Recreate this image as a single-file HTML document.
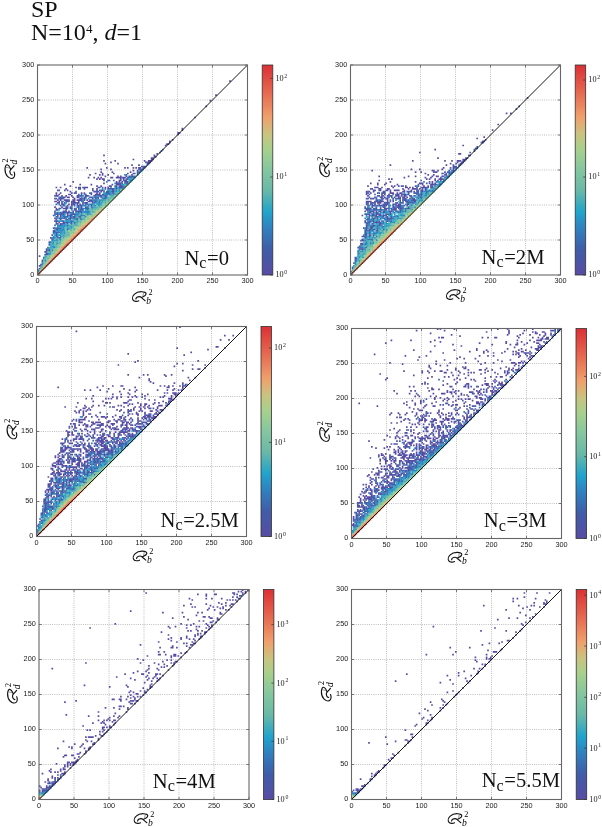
<!DOCTYPE html><html><head><meta charset="utf-8"><style>html,body{margin:0;padding:0;background:#fff;width:602px;height:827px;overflow:hidden}svg{display:block;filter:blur(0.3px)}</style></head><body><svg width="602" height="827" viewBox="0 0 602 827"><defs><filter id="bl" x="-5%" y="-5%" width="110%" height="110%"><feGaussianBlur stdDeviation="0.25"/></filter><linearGradient id="cb" x1="0" y1="0" x2="0" y2="1"><stop offset="0.000" stop-color="#dc3034"/><stop offset="0.130" stop-color="#e66850"/><stop offset="0.250" stop-color="#f0a06c"/><stop offset="0.330" stop-color="#c8c480"/><stop offset="0.400" stop-color="#a8d08c"/><stop offset="0.500" stop-color="#84c6a0"/><stop offset="0.600" stop-color="#68b8a8"/><stop offset="0.700" stop-color="#20a4cc"/><stop offset="0.780" stop-color="#3080c0"/><stop offset="0.880" stop-color="#405ca8"/><stop offset="1.000" stop-color="#584ca4"/></linearGradient></defs><text x="31" y="17" font-family="Liberation Serif, serif" font-size="24" fill="#111">SP</text><text x="31" y="40.2" font-family="Liberation Serif, serif" font-size="24" fill="#111">N=10<tspan font-size="13" dy="-7.6">4</tspan><tspan dy="7.6">, </tspan><tspan font-style="italic">d</tspan>=1</text><g><path d="M72.50 65V275.0M37.5 240.00H247.5M107.50 65V275.0M37.5 205.00H247.5M142.50 65V275.0M37.5 170.00H247.5M177.50 65V275.0M37.5 135.00H247.5M212.50 65V275.0M37.5 100.00H247.5" stroke="#9a9a9a" stroke-width="0.7" stroke-dasharray="0.9 1.3" fill="none"/><g filter="url(#bl)"><g transform="translate(37.5,275.0) scale(1.4,-1.4)" stroke-width="1.2" fill="none"><path stroke="#584ca4" d="M-0.1 3.5h1.2M0.9 4.5h1.2M0.9 6.5h1.2M0.9 13.5h1.2M1.9 7.5h1.2M2.9 9.5h1.2M2.9 10.5h1.2M4.9 16.5h1.2M5.9 15.5h1.2M5.9 17.5h1.2M7.9 17.5h1.2M5.9 18.5h1.2M7.9 21.5h1.2M7.9 23.5h1.2M8.9 26.5h1.2M13.9 26.5h1.2M15.9 26.5h1.2M9.9 25.5h1.2M9.9 28.5h1.2M10.9 30.5h2.2M14.9 30.5h1.2M10.9 31.5h2.2M16.9 31.5h1.2M10.9 42.5h1.2M13.9 42.5h1.2M15.9 42.5h1.2M20.9 42.5h1.2M22.9 42.5h1.2M11.9 33.5h1.2M13.9 33.5h2.2M11.9 38.5h1.2M13.9 38.5h1.2M16.9 38.5h1.2M11.9 40.5h1.2M16.9 40.5h1.2M22.9 40.5h1.2M29.9 40.5h1.2M11.9 43.5h1.2M13.9 43.5h1.2M17.9 43.5h1.2M20.9 43.5h1.2M25.9 43.5h1.2M11.9 48.5h1.2M16.9 48.5h1.2M19.9 48.5h1.2M22.9 48.5h1.2M28.9 48.5h1.2M30.9 48.5h1.2M33.9 48.5h1.2M37.9 48.5h1.2M11.9 52.5h2.2M14.9 52.5h1.2M16.9 52.5h1.2M19.9 52.5h2.2M23.9 52.5h3.2M28.9 52.5h1.2M35.9 52.5h2.2M38.9 52.5h1.2M40.9 52.5h1.2M11.9 54.5h1.2M14.9 54.5h3.2M25.9 54.5h1.2M29.9 54.5h2.2M32.9 54.5h1.2M40.9 54.5h1.2M45.9 54.5h1.2M12.9 32.5h2.2M12.9 39.5h1.2M20.9 39.5h1.2M27.9 39.5h1.2M30.9 39.5h1.2M12.9 46.5h1.2M26.9 46.5h1.2M29.9 46.5h1.2M12.9 47.5h1.2M17.9 47.5h3.2M23.9 47.5h1.2M26.9 47.5h1.2M28.9 47.5h1.2M30.9 47.5h1.2M12.9 56.5h2.2M16.9 56.5h1.2M19.9 56.5h1.2M23.9 56.5h1.2M27.9 56.5h1.2M29.9 56.5h1.2M33.9 56.5h2.2M39.9 56.5h2.2M43.9 56.5h2.2M47.9 56.5h2.2M12.9 58.5h1.2M15.9 58.5h1.2M23.9 58.5h1.2M25.9 58.5h1.2M30.9 58.5h1.2M32.9 58.5h1.2M41.9 58.5h1.2M52.9 58.5h1.2M12.9 62.5h1.2M15.9 62.5h1.2M26.9 62.5h1.2M28.9 62.5h2.2M33.9 62.5h2.2M42.9 62.5h1.2M47.9 62.5h1.2M49.9 62.5h1.2M58.9 62.5h2.2M13.9 36.5h1.2M15.9 36.5h1.2M17.9 36.5h1.2M23.9 36.5h1.2M13.9 41.5h1.2M15.9 41.5h1.2M22.9 41.5h1.2M24.9 41.5h1.2M28.9 41.5h2.2M13.9 44.5h1.2M15.9 44.5h1.2M17.9 44.5h1.2M20.9 44.5h2.2M28.9 44.5h1.2M30.9 44.5h1.2M13.9 51.5h2.2M16.9 51.5h1.2M18.9 51.5h1.2M24.9 51.5h3.2M28.9 51.5h1.2M31.9 51.5h1.2M33.9 51.5h2.2M38.9 51.5h1.2M13.9 53.5h1.2M15.9 53.5h1.2M18.9 53.5h2.2M21.9 53.5h1.2M24.9 53.5h2.2M27.9 53.5h4.2M32.9 53.5h1.2M34.9 53.5h1.2M36.9 53.5h2.2M39.9 53.5h1.2M13.9 60.5h1.2M18.9 60.5h1.2M20.9 60.5h1.2M38.9 60.5h1.2M41.9 60.5h1.2M44.9 60.5h2.2M52.9 60.5h1.2M14.9 37.5h1.2M17.9 37.5h1.2M19.9 37.5h2.2M25.9 37.5h1.2M14.9 57.5h1.2M21.9 57.5h2.2M28.9 57.5h1.2M33.9 57.5h1.2M37.9 57.5h1.2M40.9 57.5h4.2M15.9 35.5h1.2M15.9 55.5h1.2M17.9 55.5h2.2M20.9 55.5h2.2M24.9 55.5h1.2M27.9 55.5h1.2M32.9 55.5h2.2M36.9 55.5h1.2M41.9 55.5h1.2M44.9 55.5h1.2M47.9 55.5h1.2M16.9 50.5h2.2M21.9 50.5h1.2M24.9 50.5h1.2M31.9 50.5h1.2M33.9 50.5h1.2M18.9 64.5h1.2M29.9 64.5h1.2M37.9 64.5h1.2M55.9 64.5h4.2M19.9 45.5h1.2M21.9 45.5h1.2M24.9 45.5h1.2M26.9 45.5h2.2M30.9 45.5h1.2M19.9 61.5h1.2M29.9 61.5h1.2M32.9 61.5h1.2M41.9 61.5h1.2M49.9 61.5h5.2M55.9 61.5h1.2M20.9 49.5h1.2M23.9 49.5h1.2M27.9 49.5h2.2M30.9 49.5h1.2M22.9 59.5h1.2M39.9 59.5h1.2M42.9 59.5h1.2M44.9 59.5h1.2M46.9 59.5h1.2M53.9 59.5h1.2M22.9 63.5h1.2M41.9 63.5h1.2M44.9 63.5h1.2M50.9 63.5h2.2M58.9 63.5h2.2M24.9 66.5h1.2M55.9 66.5h1.2M57.9 66.5h1.2M59.9 66.5h1.2M63.9 66.5h1.2M34.9 76.5h1.2M48.9 76.5h1.2M61.9 76.5h1.2M63.9 76.5h1.2M67.9 76.5h1.2M69.9 76.5h1.2M71.9 76.5h2.2M74.9 76.5h1.2M35.9 69.5h1.2M39.9 69.5h1.2M42.9 69.5h1.2M44.9 69.5h1.2M51.9 69.5h2.2M55.9 69.5h4.2M60.9 69.5h2.2M36.9 71.5h1.2M43.9 71.5h1.2M45.9 71.5h1.2M49.9 71.5h1.2M66.9 71.5h1.2M40.9 72.5h1.2M45.9 72.5h1.2M53.9 72.5h1.2M63.9 72.5h1.2M67.9 72.5h1.2M41.9 68.5h1.2M43.9 68.5h1.2M45.9 68.5h2.2M58.9 68.5h1.2M60.9 68.5h1.2M63.9 68.5h1.2M44.9 73.5h1.2M52.9 73.5h1.2M65.9 73.5h1.2M70.9 73.5h1.2M44.9 75.5h1.2M51.9 75.5h1.2M71.9 75.5h1.2M73.9 75.5h1.2M46.9 65.5h1.2M55.9 65.5h2.2M58.9 65.5h1.2M62.9 65.5h2.2M46.9 67.5h1.2M49.9 67.5h1.2M57.9 67.5h2.2M61.9 67.5h2.2M46.9 81.5h1.2M54.9 81.5h1.2M75.9 81.5h1.2M78.9 81.5h3.2M46.9 85.5h1.2M82.9 85.5h1.2M47.9 70.5h1.2M56.9 70.5h1.2M58.9 70.5h1.2M62.9 70.5h1.2M47.9 79.5h1.2M56.9 79.5h1.2M77.9 79.5h2.2M51.9 80.5h1.2M77.9 80.5h3.2M66.9 78.5h1.2M71.9 78.5h1.2M67.9 74.5h1.2M70.9 74.5h1.2M72.9 74.5h1.2M67.9 82.5h1.2M80.9 82.5h2.2M73.9 77.5h1.2M75.9 77.5h1.2M80.9 83.5h2.2M82.9 84.5h1.2M84.9 86.5h1.2M86.9 87.5h1.2M90.9 92.5h1.2M91.9 93.5h2.2M93.9 94.5h1.2M93.9 95.5h1.2M95.9 96.5h1.2M99.9 100.5h1.2M99.9 101.5h2.2M102.9 103.5h1.2M102.9 104.5h1.2M111.9 112.5h1.2M119.9 120.5h1.2M122.9 124.5h1.2M126.9 128.5h1.2M136.9 138.5h1.2"/><path stroke="#3f5faa" d="M-0.1 2.5h1.2M1.9 6.5h1.2M3.9 12.5h1.2M4.9 14.5h3.2M5.9 16.5h1.2M6.9 15.5h1.2M6.9 17.5h1.2M9.9 17.5h1.2M6.9 19.5h1.2M7.9 18.5h1.2M8.9 23.5h1.2M10.9 26.5h1.2M14.9 26.5h1.2M10.9 33.5h1.2M15.9 33.5h1.2M11.9 35.5h1.2M16.9 35.5h1.2M11.9 44.5h1.2M16.9 44.5h1.2M18.9 44.5h2.2M22.9 44.5h1.2M24.9 44.5h1.2M11.9 45.5h1.2M17.9 45.5h2.2M28.9 45.5h2.2M11.9 56.5h1.2M28.9 56.5h1.2M30.9 56.5h1.2M46.9 56.5h1.2M12.9 27.5h1.2M12.9 28.5h1.2M12.9 29.5h1.2M12.9 30.5h2.2M12.9 36.5h1.2M16.9 36.5h1.2M18.9 36.5h1.2M20.9 36.5h1.2M12.9 37.5h1.2M18.9 37.5h1.2M23.9 37.5h1.2M12.9 38.5h1.2M17.9 38.5h1.2M23.9 38.5h2.2M12.9 41.5h1.2M17.9 41.5h4.2M25.9 41.5h1.2M33.9 41.5h1.2M12.9 43.5h1.2M14.9 43.5h3.2M23.9 43.5h2.2M26.9 43.5h1.2M28.9 43.5h1.2M36.9 43.5h1.2M12.9 50.5h1.2M23.9 50.5h1.2M25.9 50.5h1.2M27.9 50.5h1.2M29.9 50.5h1.2M34.9 50.5h1.2M36.9 50.5h2.2M12.9 54.5h1.2M17.9 54.5h1.2M31.9 54.5h1.2M38.9 54.5h1.2M42.9 54.5h1.2M46.9 54.5h2.2M12.9 57.5h1.2M30.9 57.5h1.2M45.9 57.5h2.2M51.9 57.5h1.2M13.9 46.5h1.2M19.9 46.5h1.2M25.9 46.5h1.2M30.9 46.5h2.2M34.9 46.5h1.2M14.9 40.5h2.2M18.9 40.5h1.2M21.9 40.5h1.2M24.9 40.5h2.2M27.9 40.5h1.2M14.9 47.5h2.2M20.9 47.5h1.2M22.9 47.5h1.2M25.9 47.5h1.2M31.9 47.5h1.2M33.9 47.5h3.2M14.9 60.5h1.2M43.9 60.5h1.2M53.9 60.5h1.2M57.9 60.5h1.2M15.9 39.5h1.2M19.9 39.5h1.2M22.9 39.5h1.2M26.9 39.5h1.2M15.9 49.5h1.2M17.9 49.5h1.2M25.9 49.5h1.2M29.9 49.5h1.2M32.9 49.5h1.2M35.9 49.5h1.2M37.9 49.5h1.2M40.9 49.5h1.2M16.9 55.5h1.2M28.9 55.5h1.2M37.9 55.5h2.2M40.9 55.5h1.2M42.9 55.5h1.2M20.9 32.5h1.2M20.9 48.5h1.2M34.9 48.5h1.2M20.9 53.5h1.2M21.9 42.5h1.2M23.9 42.5h1.2M31.9 42.5h1.2M21.9 52.5h1.2M31.9 52.5h1.2M37.9 52.5h1.2M41.9 52.5h1.2M43.9 52.5h1.2M23.9 51.5h1.2M27.9 51.5h1.2M39.9 51.5h1.2M26.9 58.5h1.2M36.9 58.5h2.2M43.9 58.5h1.2M48.9 58.5h3.2M53.9 58.5h1.2M26.9 59.5h1.2M40.9 59.5h2.2M48.9 59.5h2.2M51.9 59.5h2.2M28.9 61.5h1.2M38.9 61.5h1.2M47.9 61.5h1.2M59.9 61.5h1.2M31.9 62.5h2.2M43.9 62.5h1.2M45.9 62.5h1.2M55.9 62.5h1.2M57.9 62.5h1.2M50.9 67.5h1.2M53.9 67.5h1.2M60.9 67.5h1.2M52.9 64.5h1.2M54.9 63.5h2.2M57.9 63.5h1.2M60.9 63.5h1.2M57.9 65.5h1.2M59.9 65.5h1.2M61.9 65.5h1.2M59.9 69.5h1.2M63.9 69.5h2.2M66.9 69.5h1.2M61.9 66.5h2.2M62.9 68.5h1.2M62.9 71.5h1.2M64.9 70.5h5.2M68.9 72.5h1.2M70.9 72.5h1.2M71.9 73.5h1.2M72.9 75.5h1.2M74.9 77.5h1.2M76.9 77.5h1.2M75.9 76.5h1.2M76.9 80.5h1.2M83.9 84.5h1.2M87.9 88.5h1.2"/><path stroke="#2e85c2" d="M2.9 7.5h1.2M2.9 8.5h1.2M3.9 11.5h1.2M4.9 9.5h1.2M4.9 10.5h1.2M6.9 18.5h1.2M7.9 22.5h1.2M13.9 22.5h1.2M8.9 16.5h1.2M9.9 20.5h1.2M11.9 20.5h1.2M9.9 24.5h1.2M11.9 24.5h1.2M13.9 24.5h1.2M9.9 26.5h1.2M11.9 26.5h1.2M10.9 19.5h2.2M10.9 23.5h1.2M10.9 25.5h1.2M12.9 25.5h1.2M15.9 25.5h1.2M10.9 27.5h1.2M13.9 27.5h1.2M15.9 27.5h1.2M10.9 29.5h1.2M16.9 29.5h1.2M18.9 29.5h1.2M11.9 28.5h1.2M14.9 28.5h2.2M12.9 33.5h1.2M16.9 33.5h1.2M20.9 33.5h2.2M12.9 40.5h1.2M17.9 40.5h1.2M19.9 40.5h1.2M23.9 40.5h1.2M26.9 40.5h1.2M13.9 31.5h3.2M13.9 34.5h1.2M16.9 34.5h1.2M18.9 34.5h1.2M22.9 34.5h1.2M13.9 35.5h2.2M18.9 35.5h1.2M20.9 35.5h2.2M14.9 50.5h1.2M18.9 50.5h1.2M38.9 50.5h1.2M43.9 50.5h1.2M14.9 55.5h1.2M30.9 55.5h1.2M48.9 55.5h1.2M16.9 30.5h1.2M16.9 32.5h2.2M16.9 42.5h2.2M25.9 42.5h2.2M29.9 42.5h2.2M32.9 42.5h1.2M18.9 43.5h1.2M22.9 43.5h1.2M27.9 43.5h1.2M30.9 43.5h1.2M34.9 43.5h1.2M18.9 49.5h1.2M31.9 49.5h1.2M42.9 49.5h1.2M19.9 38.5h1.2M22.9 38.5h1.2M21.9 37.5h2.2M23.9 41.5h1.2M26.9 41.5h1.2M23.9 44.5h1.2M26.9 44.5h1.2M29.9 44.5h1.2M32.9 44.5h4.2M23.9 48.5h1.2M27.9 48.5h1.2M38.9 48.5h1.2M25.9 36.5h1.2M28.9 46.5h1.2M30.9 52.5h1.2M31.9 45.5h1.2M33.9 45.5h4.2M38.9 45.5h1.2M31.9 53.5h1.2M38.9 53.5h1.2M40.9 53.5h2.2M43.9 53.5h2.2M46.9 53.5h1.2M31.9 56.5h1.2M35.9 56.5h1.2M41.9 56.5h2.2M32.9 47.5h1.2M32.9 51.5h1.2M40.9 51.5h1.2M42.9 51.5h2.2M35.9 54.5h1.2M41.9 54.5h1.2M45.9 61.5h1.2M54.9 61.5h1.2M57.9 61.5h1.2M47.9 58.5h1.2M56.9 58.5h1.2M48.9 57.5h3.2M53.9 57.5h1.2M48.9 66.5h1.2M49.9 60.5h1.2M55.9 60.5h1.2M50.9 59.5h1.2M54.9 59.5h1.2M51.9 62.5h1.2M54.9 65.5h1.2M61.9 71.5h1.2M70.9 71.5h1.2M65.9 67.5h1.2M65.9 69.5h1.2M67.9 69.5h2.2M66.9 68.5h1.2M74.9 75.5h1.2M88.9 89.5h1.2"/><path stroke="#249cc9" d="M4.9 13.5h1.2M6.9 11.5h1.2M7.9 14.5h1.2M7.9 15.5h1.2M8.9 21.5h1.2M12.9 21.5h1.2M9.9 22.5h2.2M10.9 20.5h1.2M10.9 24.5h1.2M12.9 24.5h1.2M15.9 24.5h1.2M11.9 29.5h1.2M13.9 29.5h1.2M15.9 29.5h1.2M11.9 42.5h1.2M18.9 42.5h1.2M27.9 42.5h1.2M12.9 31.5h1.2M17.9 31.5h2.2M12.9 44.5h1.2M14.9 44.5h1.2M27.9 44.5h1.2M31.9 44.5h1.2M36.9 44.5h1.2M13.9 28.5h1.2M17.9 28.5h1.2M14.9 25.5h1.2M14.9 32.5h2.2M14.9 34.5h2.2M17.9 34.5h1.2M20.9 34.5h1.2M23.9 34.5h1.2M14.9 38.5h2.2M20.9 38.5h2.2M27.9 38.5h1.2M15.9 30.5h1.2M18.9 30.5h1.2M16.9 27.5h1.2M16.9 41.5h1.2M17.9 26.5h1.2M17.9 33.5h1.2M23.9 33.5h1.2M17.9 35.5h1.2M19.9 35.5h1.2M17.9 52.5h1.2M39.9 52.5h1.2M45.9 52.5h1.2M19.9 51.5h1.2M41.9 51.5h1.2M44.9 51.5h1.2M21.9 39.5h1.2M29.9 39.5h1.2M22.9 36.5h1.2M23.9 46.5h1.2M33.9 46.5h1.2M35.9 46.5h1.2M26.9 37.5h1.2M29.9 47.5h1.2M38.9 47.5h1.2M29.9 48.5h1.2M35.9 48.5h1.2M39.9 48.5h1.2M41.9 48.5h1.2M32.9 45.5h1.2M32.9 57.5h1.2M47.9 57.5h1.2M54.9 57.5h1.2M33.9 49.5h1.2M33.9 54.5h1.2M48.9 54.5h1.2M35.9 43.5h1.2M35.9 50.5h1.2M39.9 50.5h1.2M41.9 50.5h2.2M44.9 50.5h1.2M39.9 55.5h1.2M46.9 55.5h1.2M51.9 55.5h1.2M45.9 56.5h1.2M52.9 56.5h1.2M46.9 58.5h1.2M51.9 58.5h1.2M46.9 60.5h1.2M50.9 60.5h1.2M54.9 62.5h1.2M56.9 62.5h1.2M60.9 62.5h1.2M55.9 59.5h1.2M56.9 61.5h1.2M58.9 61.5h1.2M59.9 64.5h2.2M62.9 64.5h1.2M61.9 63.5h1.2M64.9 68.5h2.2M66.9 67.5h1.2M73.9 74.5h1.2M77.9 78.5h1.2"/><path stroke="#38abc0" d="M1.9 4.5h1.2M4.9 12.5h1.2M7.9 16.5h1.2M7.9 19.5h3.2M8.9 14.5h1.2M8.9 15.5h1.2M8.9 20.5h1.2M9.9 18.5h1.2M9.9 21.5h2.2M9.9 23.5h1.2M12.9 23.5h1.2M14.9 23.5h1.2M11.9 27.5h1.2M11.9 32.5h1.2M21.9 32.5h1.2M25.9 32.5h1.2M13.9 40.5h1.2M14.9 46.5h1.2M37.9 46.5h1.2M17.9 29.5h1.2M17.9 30.5h1.2M18.9 38.5h1.2M19.9 34.5h1.2M19.9 36.5h1.2M26.9 36.5h1.2M20.9 31.5h1.2M21.9 41.5h1.2M30.9 41.5h1.2M23.9 35.5h1.2M26.9 35.5h2.2M25.9 39.5h1.2M31.9 39.5h1.2M27.9 37.5h1.2M29.9 37.5h1.2M38.9 49.5h2.2M43.9 49.5h1.2M42.9 53.5h1.2M45.9 53.5h1.2M47.9 53.5h1.2M43.9 48.5h1.2M45.9 55.5h1.2M49.9 55.5h1.2M47.9 51.5h1.2M49.9 52.5h1.2M51.9 56.5h1.2M51.9 60.5h1.2M54.9 60.5h1.2M54.9 58.5h1.2M56.9 59.5h3.2M64.9 67.5h1.2M65.9 66.5h1.2M71.9 72.5h1.2M72.9 73.5h1.2"/><path stroke="#4ab0b7" d="M1.9 5.5h1.2M3.9 8.5h1.2M4.9 11.5h1.2M5.9 10.5h1.2M5.9 13.5h1.2M8.9 18.5h1.2M8.9 22.5h1.2M12.9 22.5h1.2M12.9 26.5h1.2M16.9 28.5h1.2M20.9 28.5h2.2M18.9 27.5h1.2M18.9 32.5h1.2M18.9 33.5h1.2M22.9 33.5h1.2M21.9 29.5h1.2M21.9 30.5h1.2M21.9 34.5h1.2M24.9 34.5h1.2M24.9 37.5h1.2M24.9 39.5h1.2M25.9 35.5h1.2M26.9 38.5h1.2M28.9 38.5h1.2M28.9 42.5h1.2M30.9 40.5h2.2M31.9 43.5h1.2M37.9 43.5h1.2M32.9 41.5h1.2M39.9 47.5h1.2M40.9 48.5h1.2M42.9 52.5h1.2M44.9 49.5h1.2M45.9 51.5h1.2M53.9 56.5h1.2M55.9 57.5h1.2M61.9 64.5h1.2M64.9 66.5h1.2"/><path stroke="#5db5ae" d="M-0.1 1.5h1.2M0.9 3.5h1.2M2.9 5.5h1.2M2.9 6.5h1.2M3.9 10.5h1.2M6.9 16.5h1.2M8.9 17.5h1.2M11.9 21.5h1.2M12.9 19.5h1.2M13.9 23.5h1.2M15.9 23.5h1.2M13.9 25.5h1.2M16.9 25.5h1.2M14.9 22.5h1.2M17.9 27.5h1.2M18.9 28.5h2.2M19.9 32.5h1.2M22.9 32.5h1.2M23.9 31.5h1.2M24.9 33.5h1.2M25.9 38.5h1.2M29.9 38.5h1.2M27.9 41.5h1.2M28.9 40.5h1.2M32.9 40.5h1.2M29.9 43.5h1.2M33.9 43.5h1.2M32.9 39.5h1.2M34.9 42.5h1.2M36.9 46.5h1.2M38.9 46.5h1.2M40.9 46.5h1.2M36.9 49.5h1.2M37.9 47.5h1.2M39.9 45.5h1.2M44.9 52.5h1.2M47.9 52.5h1.2M49.9 53.5h2.2M49.9 54.5h3.2M50.9 56.5h1.2M53.9 55.5h1.2M55.9 58.5h1.2M56.9 60.5h1.2M61.9 62.5h1.2M67.9 68.5h1.2"/><path stroke="#6bb9a7" d="M7.9 13.5h1.2M10.9 15.5h1.2M10.9 18.5h1.2M11.9 23.5h1.2M14.9 20.5h1.2M19.9 27.5h1.2M19.9 29.5h1.2M19.9 30.5h2.2M24.9 30.5h1.2M19.9 33.5h1.2M22.9 31.5h1.2M22.9 35.5h1.2M24.9 35.5h1.2M24.9 36.5h1.2M27.9 36.5h1.2M30.9 38.5h1.2M31.9 41.5h1.2M33.9 42.5h1.2M36.9 47.5h1.2M40.9 47.5h2.2M38.9 44.5h2.2M44.9 48.5h1.2M46.9 51.5h1.2M48.9 51.5h1.2M46.9 52.5h1.2M47.9 49.5h1.2M48.9 53.5h1.2M52.9 55.5h1.2M52.9 57.5h1.2M63.9 64.5h1.2"/><path stroke="#72bda5" d="M3.9 9.5h1.2M5.9 12.5h1.2M9.9 15.5h1.2M11.9 16.5h1.2M11.9 17.5h1.2M11.9 18.5h1.2M11.9 22.5h1.2M12.9 20.5h1.2M14.9 24.5h1.2M19.9 31.5h1.2M20.9 29.5h1.2M23.9 32.5h1.2M25.9 33.5h1.2M28.9 34.5h1.2M39.9 46.5h1.2M42.9 48.5h1.2M64.9 65.5h1.2"/><path stroke="#79c1a3" d="M3.9 7.5h1.2M4.9 8.5h1.2M6.9 12.5h1.2M9.9 16.5h1.2M10.9 17.5h1.2M13.9 19.5h1.2M13.9 20.5h1.2M13.9 21.5h1.2M16.9 22.5h1.2M16.9 23.5h1.2M16.9 26.5h1.2M28.9 37.5h1.2M28.9 39.5h1.2M32.9 43.5h1.2M35.9 42.5h1.2M37.9 45.5h1.2M41.9 46.5h2.2M42.9 47.5h1.2M45.9 50.5h1.2M47.9 50.5h1.2M46.9 49.5h1.2M50.9 55.5h1.2"/><path stroke="#80c4a1" d="M0.9 2.5h1.2M4.9 7.5h1.2M5.9 11.5h1.2M6.9 13.5h1.2M7.9 12.5h1.2M11.9 15.5h1.2M12.9 18.5h1.2M14.9 19.5h1.2M14.9 21.5h2.2M15.9 22.5h1.2M21.9 27.5h1.2M22.9 29.5h1.2M26.9 33.5h1.2M28.9 36.5h1.2M32.9 38.5h1.2M37.9 44.5h1.2M41.9 49.5h1.2M45.9 49.5h1.2M58.9 60.5h1.2M60.9 61.5h1.2M69.9 70.5h1.2"/><path stroke="#89c79d" d="M5.9 8.5h1.2M7.9 11.5h1.2M10.9 16.5h1.2M12.9 17.5h1.2M16.9 24.5h2.2M18.9 25.5h1.2M18.9 26.5h2.2M21.9 26.5h1.2M22.9 27.5h1.2M24.9 32.5h1.2M25.9 30.5h1.2M25.9 34.5h2.2M28.9 35.5h2.2M29.9 36.5h1.2M31.9 37.5h1.2M33.9 40.5h1.2M35.9 40.5h2.2M34.9 39.5h1.2M34.9 41.5h1.2M37.9 41.5h1.2M37.9 42.5h2.2M39.9 43.5h1.2M40.9 44.5h1.2M43.9 47.5h1.2M46.9 50.5h1.2M49.9 51.5h1.2M50.9 52.5h1.2M52.9 53.5h1.2M52.9 54.5h1.2M54.9 55.5h1.2M62.9 63.5h1.2"/><path stroke="#92ca98" d="M5.9 9.5h2.2M6.9 10.5h1.2M8.9 13.5h1.2M9.9 14.5h1.2M13.9 18.5h1.2M17.9 25.5h1.2M19.9 25.5h1.2M19.9 24.5h1.2M20.9 27.5h1.2M21.9 31.5h1.2M24.9 31.5h2.2M22.9 30.5h2.2M23.9 29.5h1.2M27.9 34.5h1.2M30.9 36.5h1.2M33.9 38.5h1.2M34.9 40.5h1.2M35.9 41.5h1.2M36.9 42.5h1.2M38.9 43.5h1.2M40.9 45.5h1.2M42.9 45.5h1.2M44.9 47.5h1.2M45.9 48.5h1.2M47.9 48.5h1.2M48.9 52.5h1.2M49.9 50.5h1.2M51.9 53.5h1.2M53.9 54.5h1.2M55.9 56.5h1.2M57.9 58.5h1.2"/><path stroke="#9bcc93" d="M3.9 6.5h1.2M15.9 20.5h1.2M17.9 23.5h1.2M20.9 26.5h1.2M24.9 29.5h1.2M27.9 32.5h1.2M30.9 35.5h1.2M30.9 37.5h1.2M31.9 38.5h1.2M33.9 39.5h1.2M35.9 39.5h1.2M38.9 41.5h1.2M43.9 46.5h1.2M54.9 56.5h1.2"/><path stroke="#a4cf8e" d="M8.9 12.5h1.2M12.9 16.5h1.2M17.9 21.5h2.2M18.9 23.5h1.2M22.9 28.5h1.2M26.9 32.5h1.2M36.9 41.5h1.2M39.9 42.5h1.2M40.9 43.5h2.2M45.9 47.5h1.2M46.9 48.5h1.2M48.9 50.5h1.2M51.9 52.5h1.2M59.9 60.5h1.2"/><path stroke="#afcd89" d="M1.9 3.5h1.2M2.9 4.5h1.2M9.9 13.5h2.2M10.9 14.5h1.2M13.9 17.5h1.2M16.9 21.5h1.2M20.9 25.5h1.2M23.9 28.5h1.2M27.9 31.5h1.2M27.9 33.5h1.2M29.9 34.5h1.2M31.9 36.5h1.2M34.9 38.5h1.2M41.9 45.5h1.2M43.9 45.5h1.2M48.9 49.5h1.2M56.9 57.5h1.2"/><path stroke="#bbc985" d="M4.9 6.5h1.2M8.9 11.5h1.2M15.9 19.5h1.2M17.9 22.5h1.2M18.9 24.5h1.2M20.9 24.5h1.2M21.9 25.5h1.2M28.9 32.5h1.2M28.9 33.5h1.2M32.9 37.5h2.2M36.9 39.5h1.2M41.9 44.5h2.2M44.9 46.5h1.2M50.9 51.5h1.2"/><path stroke="#c6c581" d="M7.9 10.5h2.2M14.9 17.5h1.2M14.9 18.5h1.2M18.9 22.5h1.2M22.9 26.5h1.2M23.9 27.5h1.2M25.9 29.5h2.2M26.9 31.5h1.2M29.9 33.5h1.2M30.9 34.5h1.2M31.9 35.5h1.2M32.9 36.5h2.2M35.9 38.5h1.2M37.9 40.5h1.2M46.9 47.5h1.2"/><path stroke="#d3ba7a" d="M3.9 5.5h1.2M5.9 7.5h1.2M13.9 16.5h1.2M16.9 20.5h1.2M19.9 23.5h1.2M23.9 26.5h1.2M26.9 30.5h2.2M30.9 33.5h1.2M32.9 35.5h1.2M34.9 37.5h1.2M39.9 41.5h1.2M40.9 42.5h1.2M44.9 45.5h1.2"/><path stroke="#e0ae74" d="M6.9 8.5h1.2M9.9 12.5h1.2M11.9 14.5h1.2M12.9 15.5h1.2M15.9 18.5h1.2M17.9 20.5h1.2M22.9 25.5h1.2M24.9 28.5h2.2M34.9 36.5h1.2M35.9 37.5h1.2"/><path stroke="#eda36e" d="M16.9 19.5h1.2M19.9 22.5h1.2M20.9 23.5h2.2M24.9 27.5h1.2M28.9 30.5h1.2M28.9 31.5h1.2M29.9 32.5h1.2M32.9 34.5h1.2M36.9 38.5h1.2M43.9 44.5h1.2M45.9 46.5h1.2"/><path stroke="#ee9768" d="M7.9 9.5h1.2M9.9 11.5h1.2M10.9 12.5h1.2M13.9 15.5h1.2M21.9 24.5h1.2M24.9 26.5h1.2M26.9 28.5h1.2M31.9 34.5h1.2M33.9 35.5h1.2M37.9 39.5h2.2M38.9 40.5h1.2M40.9 41.5h1.2M42.9 43.5h1.2"/><path stroke="#ec8b62" d="M11.9 13.5h1.2M12.9 14.5h1.2M14.9 16.5h1.2M16.9 18.5h1.2M22.9 24.5h1.2M31.9 33.5h1.2M37.9 38.5h1.2M39.9 40.5h1.2"/><path stroke="#ea7f5c" d="M15.9 17.5h1.2M20.9 22.5h1.2M25.9 27.5h1.2M27.9 29.5h1.2M41.9 42.5h1.2"/><path stroke="#e87356" d="M17.9 19.5h1.2M18.9 20.5h1.2M19.9 21.5h1.2M23.9 25.5h1.2M29.9 31.5h1.2"/><path stroke="#e66750" d="M30.9 32.5h1.2M34.9 35.5h1.2M35.9 36.5h1.2M36.9 37.5h1.2"/><path stroke="#e45c4a" d="M3.9 4.5h1.2M18.9 19.5h1.2M29.9 30.5h1.2M31.9 32.5h1.2M32.9 33.5h1.2"/><path stroke="#e25145" d="M1.9 2.5h1.2M2.9 3.5h1.2M4.9 5.5h1.2M9.9 10.5h1.2M19.9 20.5h1.2M21.9 22.5h1.2M22.9 23.5h1.2M23.9 24.5h1.2M24.9 25.5h1.2M26.9 27.5h1.2M30.9 31.5h1.2M33.9 34.5h1.2"/><path stroke="#e0463f" d="M-0.1 0.5h1.2M0.9 1.5h1.2M7.9 8.5h1.2M8.9 9.5h1.2M10.9 11.5h1.2M11.9 12.5h1.2M12.9 13.5h1.2M14.9 15.5h1.2M15.9 16.5h1.2M16.9 17.5h1.2M25.9 26.5h1.2M28.9 29.5h1.2"/><path stroke="#de3b3a" d="M5.9 6.5h1.2M6.9 7.5h1.2M13.9 14.5h1.2M17.9 18.5h1.2M20.9 21.5h1.2M27.9 28.5h1.2"/></g></g><path d="M37.5 275.0L247.5 65" stroke="#151515" stroke-width="1.0" fill="none"/><path d="M37.50 275.0v-2.6M37.50 65v2.6M37.5 275.00h2.6M247.5 275.00h-2.6M72.50 275.0v-2.6M72.50 65v2.6M37.5 240.00h2.6M247.5 240.00h-2.6M107.50 275.0v-2.6M107.50 65v2.6M37.5 205.00h2.6M247.5 205.00h-2.6M142.50 275.0v-2.6M142.50 65v2.6M37.5 170.00h2.6M247.5 170.00h-2.6M177.50 275.0v-2.6M177.50 65v2.6M37.5 135.00h2.6M247.5 135.00h-2.6M212.50 275.0v-2.6M212.50 65v2.6M37.5 100.00h2.6M247.5 100.00h-2.6M247.50 275.0v-2.6M247.50 65v2.6M37.5 65.00h2.6M247.5 65.00h-2.6" stroke="#444" stroke-width="0.7" fill="none"/><rect x="37.5" y="65" width="210.0" height="210.0" fill="none" stroke="#666" stroke-width="1.1"/><g font-family="Liberation Sans, sans-serif" font-size="7.3" fill="#1a1a1a"><text x="37.50" y="283.40" text-anchor="middle">0</text><text x="34.30" y="276.90" text-anchor="end">0</text><text x="72.50" y="283.40" text-anchor="middle">50</text><text x="34.30" y="241.90" text-anchor="end">50</text><text x="107.50" y="283.40" text-anchor="middle">100</text><text x="34.30" y="206.90" text-anchor="end">100</text><text x="142.50" y="283.40" text-anchor="middle">150</text><text x="34.30" y="171.90" text-anchor="end">150</text><text x="177.50" y="283.40" text-anchor="middle">200</text><text x="34.30" y="136.90" text-anchor="end">200</text><text x="212.50" y="283.40" text-anchor="middle">250</text><text x="34.30" y="101.90" text-anchor="end">250</text><text x="247.50" y="283.40" text-anchor="middle">300</text><text x="34.30" y="66.90" text-anchor="end">300</text></g><rect x="262.2" y="65" width="10.6" height="210.0" fill="url(#cb)" stroke="#333" stroke-width="0.8"/><path d="M270.30 275h2.5" stroke="#333" stroke-width="0.7"/><text x="275.40" y="277.40" font-family="Liberation Serif, serif" font-size="8.2" fill="#1a1a1a">10<tspan font-size="5.8" dy="-3.3" dx="0.7">0</tspan></text><path d="M270.30 177h2.5" stroke="#333" stroke-width="0.7"/><text x="275.40" y="179.40" font-family="Liberation Serif, serif" font-size="8.2" fill="#1a1a1a">10<tspan font-size="5.8" dy="-3.3" dx="0.7">1</tspan></text><path d="M270.30 78.4h2.5" stroke="#333" stroke-width="0.7"/><text x="275.40" y="80.80" font-family="Liberation Serif, serif" font-size="8.2" fill="#1a1a1a">10<tspan font-size="5.8" dy="-3.3" dx="0.7">2</tspan></text><g transform="translate(132.3,291.4) scale(1.0)"><path d="M6.5 9.4C5 10.2 2 10.3 0.8 8.8C-0.3 7.4 0.3 4.6 2.2 2.8C3.8 1.2 6.5 0.2 9.5 0.3C12 0.4 14 1.2 13.8 2.6C13.6 4 12 4.9 10.2 5.6C9.6 5.8 9.2 5.9 9 6M9 6C10.3 7.2 11.5 8.4 12.8 9.3M3.6 7.6C3.6 6.2 5.4 5.2 7 5.2C8 5.2 8.6 5.6 9 6" fill="none" stroke="#111" stroke-width="1.15" stroke-linecap="round"/><path d="M11.3 1.0C11.1 2.3 10.9 3.5 10.6 4.8" fill="none" stroke="#555" stroke-width="0.6"/><text x="16.2" y="3.2" font-family="Liberation Serif, serif" font-size="8.2">2</text><text x="14.0" y="12.4" font-family="Liberation Serif, serif" font-style="italic" font-size="9.6">b</text></g><g transform="translate(4.7,178.6) rotate(-90) scale(1.0)"><path d="M6.5 9.4C5 10.2 2 10.3 0.8 8.8C-0.3 7.4 0.3 4.6 2.2 2.8C3.8 1.2 6.5 0.2 9.5 0.3C12 0.4 14 1.2 13.8 2.6C13.6 4 12 4.9 10.2 5.6C9.6 5.8 9.2 5.9 9 6M9 6C10.3 7.2 11.5 8.4 12.8 9.3M3.6 7.6C3.6 6.2 5.4 5.2 7 5.2C8 5.2 8.6 5.6 9 6" fill="none" stroke="#111" stroke-width="1.15" stroke-linecap="round"/><path d="M11.3 1.0C11.1 2.3 10.9 3.5 10.6 4.8" fill="none" stroke="#555" stroke-width="0.6"/><text x="16.2" y="3.2" font-family="Liberation Serif, serif" font-size="8.2">2</text><text x="14.0" y="12.4" font-family="Liberation Serif, serif" font-style="italic" font-size="9.6">d</text></g><text x="184.39999999999998" y="264.5" font-family="Liberation Serif, serif" font-size="20.6" fill="#111">N<tspan font-size="16.2" dy="3.2">c</tspan><tspan dy="-3.2" dx="0.6">=0</tspan></text></g><g><path d="M385.50 65V275.0M350.5 240.00H560.5M420.50 65V275.0M350.5 205.00H560.5M455.50 65V275.0M350.5 170.00H560.5M490.50 65V275.0M350.5 135.00H560.5M525.50 65V275.0M350.5 100.00H560.5" stroke="#9a9a9a" stroke-width="0.7" stroke-dasharray="0.9 1.3" fill="none"/><g filter="url(#bl)"><g transform="translate(350.5,275.0) scale(1.4,-1.4)" stroke-width="1.2" fill="none"><path stroke="#584ca4" d="M2.9 11.5h1.2M2.9 12.5h1.2M4.9 19.5h1.2M6.9 19.5h1.2M9.9 19.5h1.2M5.9 18.5h1.2M7.9 18.5h2.2M5.9 20.5h1.2M6.9 16.5h1.2M6.9 21.5h1.2M6.9 22.5h2.2M13.9 22.5h1.2M7.9 24.5h2.2M7.9 25.5h1.2M7.9 27.5h1.2M12.9 27.5h1.2M7.9 42.5h1.2M12.9 42.5h1.2M14.9 42.5h1.2M17.9 42.5h1.2M19.9 42.5h2.2M22.9 42.5h1.2M8.9 33.5h1.2M10.9 33.5h1.2M13.9 33.5h2.2M18.9 33.5h1.2M9.9 26.5h1.2M9.9 28.5h1.2M13.9 28.5h1.2M15.9 28.5h1.2M9.9 29.5h1.2M12.9 29.5h1.2M9.9 37.5h1.2M16.9 37.5h3.2M20.9 37.5h1.2M9.9 38.5h1.2M13.9 38.5h1.2M15.9 38.5h1.2M17.9 38.5h1.2M19.9 38.5h1.2M25.9 38.5h1.2M27.9 38.5h1.2M9.9 45.5h1.2M13.9 45.5h3.2M17.9 45.5h1.2M20.9 45.5h1.2M22.9 45.5h1.2M26.9 45.5h3.2M9.9 48.5h1.2M22.9 48.5h1.2M29.9 48.5h1.2M32.9 48.5h3.2M36.9 48.5h1.2M40.9 48.5h1.2M10.9 32.5h1.2M12.9 32.5h2.2M18.9 32.5h1.2M10.9 34.5h1.2M13.9 34.5h3.2M22.9 34.5h1.2M10.9 36.5h2.2M14.9 36.5h1.2M19.9 36.5h1.2M21.9 36.5h1.2M10.9 46.5h2.2M16.9 46.5h1.2M24.9 46.5h1.2M29.9 46.5h3.2M10.9 52.5h4.2M16.9 52.5h2.2M19.9 52.5h3.2M25.9 52.5h1.2M29.9 52.5h1.2M34.9 52.5h1.2M38.9 52.5h2.2M41.9 52.5h1.2M44.9 52.5h1.2M10.9 57.5h1.2M12.9 57.5h1.2M21.9 57.5h1.2M23.9 57.5h1.2M26.9 57.5h1.2M29.9 57.5h1.2M31.9 57.5h1.2M33.9 57.5h1.2M36.9 57.5h3.2M40.9 57.5h1.2M49.9 57.5h1.2M10.9 58.5h1.2M13.9 58.5h1.2M18.9 58.5h1.2M22.9 58.5h1.2M27.9 58.5h3.2M32.9 58.5h1.2M34.9 58.5h2.2M10.9 59.5h1.2M12.9 59.5h1.2M15.9 59.5h1.2M22.9 59.5h1.2M27.9 59.5h1.2M36.9 59.5h2.2M41.9 59.5h2.2M44.9 59.5h1.2M46.9 59.5h1.2M50.9 59.5h1.2M11.9 40.5h1.2M15.9 40.5h2.2M18.9 40.5h1.2M20.9 40.5h1.2M23.9 40.5h1.2M25.9 40.5h1.2M27.9 40.5h3.2M11.9 49.5h1.2M15.9 49.5h1.2M18.9 49.5h1.2M20.9 49.5h2.2M24.9 49.5h1.2M29.9 49.5h1.2M31.9 49.5h1.2M33.9 49.5h2.2M39.9 49.5h1.2M11.9 50.5h1.2M13.9 50.5h1.2M16.9 50.5h1.2M22.9 50.5h4.2M31.9 50.5h1.2M33.9 50.5h2.2M39.9 50.5h2.2M11.9 51.5h1.2M14.9 51.5h1.2M16.9 51.5h1.2M18.9 51.5h3.2M25.9 51.5h2.2M32.9 51.5h1.2M36.9 51.5h1.2M40.9 51.5h1.2M43.9 51.5h1.2M11.9 54.5h1.2M14.9 54.5h2.2M17.9 54.5h1.2M22.9 54.5h1.2M24.9 54.5h2.2M32.9 54.5h1.2M36.9 54.5h1.2M38.9 54.5h1.2M41.9 54.5h1.2M43.9 54.5h2.2M11.9 56.5h1.2M19.9 56.5h1.2M21.9 56.5h1.2M25.9 56.5h1.2M31.9 56.5h3.2M35.9 56.5h1.2M37.9 56.5h1.2M41.9 56.5h1.2M47.9 56.5h1.2M11.9 63.5h1.2M28.9 63.5h1.2M30.9 63.5h1.2M33.9 63.5h1.2M36.9 63.5h1.2M38.9 63.5h1.2M45.9 63.5h1.2M51.9 63.5h1.2M54.9 63.5h1.2M56.9 63.5h1.2M59.9 63.5h1.2M12.9 31.5h1.2M18.9 31.5h1.2M12.9 41.5h1.2M17.9 41.5h1.2M25.9 41.5h1.2M28.9 41.5h1.2M30.9 41.5h1.2M12.9 44.5h1.2M15.9 44.5h1.2M17.9 44.5h1.2M27.9 44.5h1.2M33.9 44.5h1.2M13.9 47.5h1.2M17.9 47.5h1.2M20.9 47.5h1.2M23.9 47.5h3.2M28.9 47.5h1.2M30.9 47.5h2.2M34.9 47.5h2.2M38.9 47.5h1.2M41.9 47.5h1.2M13.9 65.5h1.2M18.9 65.5h1.2M24.9 65.5h1.2M48.9 65.5h3.2M53.9 65.5h1.2M57.9 65.5h1.2M59.9 65.5h1.2M14.9 61.5h1.2M19.9 61.5h2.2M25.9 61.5h2.2M36.9 61.5h1.2M40.9 61.5h1.2M43.9 61.5h3.2M48.9 61.5h1.2M52.9 61.5h1.2M14.9 74.5h1.2M57.9 74.5h2.2M61.9 74.5h1.2M69.9 74.5h1.2M72.9 74.5h1.2M15.9 35.5h2.2M19.9 35.5h2.2M15.9 39.5h1.2M26.9 39.5h1.2M15.9 60.5h2.2M20.9 60.5h1.2M24.9 60.5h2.2M27.9 60.5h1.2M30.9 60.5h4.2M37.9 60.5h1.2M42.9 60.5h1.2M46.9 60.5h1.2M50.9 60.5h1.2M52.9 60.5h1.2M55.9 60.5h1.2M57.9 60.5h1.2M16.9 55.5h1.2M20.9 55.5h2.2M23.9 55.5h1.2M26.9 55.5h1.2M30.9 55.5h1.2M33.9 55.5h1.2M36.9 55.5h2.2M39.9 55.5h1.2M42.9 55.5h1.2M46.9 55.5h1.2M16.9 62.5h3.2M21.9 62.5h1.2M29.9 62.5h1.2M38.9 62.5h2.2M41.9 62.5h1.2M43.9 62.5h1.2M46.9 62.5h1.2M49.9 62.5h4.2M56.9 62.5h2.2M17.9 43.5h2.2M27.9 43.5h1.2M18.9 64.5h1.2M23.9 64.5h1.2M32.9 64.5h1.2M47.9 64.5h1.2M50.9 64.5h1.2M56.9 64.5h3.2M19.9 67.5h1.2M59.9 67.5h1.2M61.9 67.5h1.2M63.9 67.5h1.2M19.9 70.5h1.2M40.9 70.5h1.2M45.9 70.5h1.2M57.9 70.5h1.2M60.9 70.5h2.2M64.9 70.5h1.2M21.9 53.5h1.2M25.9 53.5h1.2M29.9 53.5h1.2M34.9 53.5h1.2M36.9 53.5h1.2M38.9 53.5h1.2M40.9 53.5h1.2M42.9 53.5h4.2M26.9 68.5h1.2M28.9 68.5h1.2M53.9 68.5h1.2M55.9 68.5h1.2M59.9 68.5h1.2M62.9 68.5h3.2M27.9 66.5h1.2M45.9 66.5h1.2M55.9 66.5h1.2M57.9 66.5h1.2M27.9 78.5h1.2M67.9 78.5h1.2M37.9 69.5h1.2M52.9 69.5h1.2M56.9 69.5h1.2M63.9 69.5h1.2M42.9 75.5h1.2M48.9 75.5h1.2M64.9 75.5h1.2M72.9 75.5h1.2M43.9 81.5h1.2M66.9 81.5h1.2M71.9 81.5h1.2M75.9 81.5h3.2M79.9 81.5h1.2M45.9 73.5h1.2M49.9 73.5h1.2M59.9 73.5h2.2M66.9 73.5h1.2M48.9 87.5h1.2M84.9 87.5h1.2M52.9 72.5h1.2M64.9 72.5h1.2M67.9 72.5h1.2M54.9 71.5h1.2M58.9 71.5h1.2M66.9 71.5h2.2M59.9 89.5h1.2M61.9 83.5h1.2M81.9 83.5h2.2M65.9 76.5h1.2M70.9 76.5h1.2M72.9 76.5h2.2M70.9 79.5h1.2M74.9 79.5h1.2M77.9 79.5h2.2M72.9 77.5h3.2M75.9 80.5h1.2M78.9 80.5h1.2M76.9 86.5h2.2M79.9 82.5h2.2M79.9 92.5h1.2M84.9 85.5h1.2M88.9 90.5h1.2M89.9 97.5h1.2M92.9 94.5h1.2M93.9 95.5h2.2M94.9 98.5h1.2M95.9 96.5h1.2M100.9 103.5h1.2M104.9 107.5h1.2M110.9 115.5h1.2M113.9 115.5h1.2M119.9 120.5h1.2M125.9 126.5h1.2"/><path stroke="#3f5faa" d="M-0.1 2.5h1.2M0.9 4.5h1.2M0.9 5.5h1.2M1.9 8.5h1.2M2.9 9.5h1.2M2.9 10.5h1.2M3.9 11.5h1.2M4.9 16.5h1.2M6.9 18.5h1.2M6.9 24.5h1.2M9.9 24.5h1.2M14.9 24.5h1.2M7.9 19.5h1.2M10.9 19.5h1.2M7.9 21.5h1.2M9.9 21.5h1.2M8.9 27.5h2.2M17.9 27.5h1.2M9.9 22.5h1.2M9.9 30.5h1.2M12.9 30.5h1.2M18.9 30.5h1.2M9.9 31.5h3.2M14.9 31.5h1.2M17.9 31.5h1.2M24.9 31.5h1.2M9.9 43.5h4.2M14.9 43.5h2.2M19.9 43.5h2.2M24.9 43.5h3.2M9.9 47.5h4.2M15.9 47.5h2.2M26.9 47.5h1.2M33.9 47.5h1.2M36.9 47.5h1.2M39.9 47.5h2.2M10.9 23.5h1.2M10.9 26.5h1.2M16.9 26.5h1.2M10.9 28.5h1.2M12.9 28.5h1.2M10.9 29.5h1.2M15.9 29.5h2.2M10.9 35.5h2.2M18.9 35.5h1.2M26.9 35.5h1.2M10.9 39.5h2.2M18.9 39.5h1.2M25.9 39.5h1.2M10.9 50.5h1.2M14.9 50.5h1.2M19.9 50.5h1.2M29.9 50.5h2.2M10.9 51.5h1.2M13.9 51.5h1.2M15.9 51.5h1.2M23.9 51.5h2.2M31.9 51.5h1.2M34.9 51.5h2.2M39.9 51.5h1.2M41.9 51.5h2.2M44.9 51.5h1.2M47.9 51.5h1.2M10.9 54.5h1.2M13.9 54.5h1.2M21.9 54.5h1.2M29.9 54.5h1.2M31.9 54.5h1.2M33.9 54.5h2.2M37.9 54.5h1.2M47.9 54.5h1.2M49.9 54.5h1.2M11.9 25.5h4.2M11.9 33.5h1.2M11.9 37.5h2.2M15.9 37.5h1.2M19.9 37.5h1.2M22.9 37.5h1.2M11.9 45.5h1.2M19.9 45.5h1.2M23.9 45.5h1.2M31.9 45.5h2.2M34.9 45.5h1.2M38.9 45.5h1.2M11.9 48.5h1.2M14.9 48.5h1.2M17.9 48.5h1.2M23.9 48.5h1.2M26.9 48.5h1.2M30.9 48.5h1.2M11.9 58.5h1.2M19.9 58.5h1.2M21.9 58.5h1.2M23.9 58.5h1.2M40.9 58.5h1.2M44.9 58.5h4.2M49.9 58.5h1.2M53.9 58.5h1.2M11.9 59.5h1.2M23.9 59.5h1.2M39.9 59.5h2.2M47.9 59.5h1.2M49.9 59.5h1.2M53.9 59.5h2.2M56.9 59.5h1.2M12.9 38.5h1.2M21.9 38.5h1.2M28.9 38.5h1.2M12.9 40.5h1.2M26.9 40.5h1.2M12.9 46.5h2.2M15.9 46.5h1.2M17.9 46.5h1.2M20.9 46.5h2.2M23.9 46.5h1.2M28.9 46.5h1.2M34.9 46.5h1.2M36.9 46.5h1.2M38.9 46.5h1.2M12.9 55.5h1.2M28.9 55.5h1.2M34.9 55.5h1.2M48.9 55.5h2.2M13.9 44.5h1.2M18.9 44.5h1.2M22.9 44.5h2.2M30.9 44.5h1.2M34.9 44.5h1.2M13.9 61.5h1.2M46.9 61.5h1.2M50.9 61.5h1.2M58.9 61.5h1.2M14.9 41.5h1.2M16.9 41.5h1.2M18.9 41.5h1.2M21.9 41.5h2.2M32.9 41.5h1.2M14.9 49.5h1.2M16.9 49.5h1.2M19.9 49.5h1.2M22.9 49.5h2.2M32.9 49.5h1.2M37.9 49.5h1.2M42.9 49.5h1.2M15.9 32.5h2.2M22.9 32.5h1.2M15.9 42.5h2.2M23.9 42.5h2.2M16.9 57.5h1.2M32.9 57.5h1.2M35.9 57.5h1.2M46.9 57.5h1.2M48.9 57.5h1.2M17.9 53.5h2.2M20.9 53.5h1.2M27.9 53.5h1.2M37.9 53.5h1.2M18.9 34.5h1.2M21.9 34.5h1.2M18.9 52.5h1.2M22.9 52.5h1.2M27.9 52.5h1.2M45.9 52.5h1.2M18.9 56.5h1.2M22.9 56.5h1.2M26.9 56.5h3.2M38.9 56.5h1.2M42.9 56.5h1.2M44.9 56.5h1.2M49.9 56.5h1.2M51.9 56.5h1.2M19.9 60.5h1.2M47.9 60.5h1.2M49.9 60.5h1.2M20.9 36.5h1.2M35.9 63.5h1.2M47.9 63.5h1.2M57.9 63.5h1.2M61.9 63.5h1.2M49.9 67.5h1.2M65.9 67.5h1.2M53.9 62.5h2.2M55.9 65.5h1.2M58.9 73.5h1.2M68.9 73.5h2.2M71.9 73.5h1.2M59.9 64.5h2.2M62.9 64.5h1.2M60.9 66.5h1.2M64.9 66.5h1.2M65.9 70.5h1.2M67.9 70.5h1.2M66.9 69.5h1.2M68.9 69.5h1.2M69.9 71.5h1.2M69.9 72.5h1.2M71.9 74.5h1.2M72.9 78.5h1.2M76.9 78.5h2.2M74.9 76.5h1.2M79.9 80.5h1.2M80.9 81.5h1.2M81.9 82.5h1.2M83.9 85.5h1.2M87.9 88.5h1.2M87.9 89.5h1.2M89.9 90.5h1.2M89.9 91.5h1.2M93.9 94.5h1.2M117.9 118.5h1.2"/><path stroke="#2e85c2" d="M1.9 6.5h1.2M2.9 8.5h1.2M3.9 10.5h1.2M4.9 13.5h1.2M4.9 15.5h2.2M4.9 17.5h1.2M7.9 17.5h1.2M9.9 17.5h1.2M5.9 12.5h1.2M5.9 19.5h1.2M6.9 20.5h1.2M8.9 14.5h1.2M8.9 21.5h1.2M8.9 25.5h1.2M8.9 28.5h1.2M9.9 18.5h1.2M9.9 32.5h1.2M14.9 32.5h1.2M9.9 33.5h1.2M17.9 33.5h1.2M19.9 33.5h1.2M21.9 33.5h1.2M9.9 40.5h1.2M14.9 40.5h1.2M21.9 40.5h2.2M24.9 40.5h1.2M33.9 40.5h2.2M10.9 30.5h1.2M13.9 30.5h1.2M17.9 30.5h1.2M10.9 37.5h1.2M24.9 37.5h1.2M30.9 37.5h1.2M10.9 42.5h1.2M13.9 42.5h1.2M21.9 42.5h1.2M31.9 42.5h1.2M36.9 42.5h2.2M11.9 27.5h1.2M15.9 27.5h1.2M11.9 34.5h1.2M11.9 38.5h1.2M14.9 38.5h1.2M18.9 38.5h1.2M22.9 38.5h1.2M24.9 38.5h1.2M26.9 38.5h1.2M12.9 35.5h3.2M12.9 36.5h1.2M15.9 36.5h1.2M17.9 36.5h1.2M22.9 36.5h1.2M24.9 36.5h1.2M12.9 39.5h3.2M23.9 39.5h2.2M27.9 39.5h2.2M30.9 39.5h1.2M12.9 45.5h1.2M24.9 45.5h1.2M29.9 45.5h1.2M33.9 45.5h1.2M35.9 45.5h3.2M12.9 49.5h1.2M17.9 49.5h1.2M26.9 49.5h2.2M35.9 49.5h2.2M13.9 23.5h1.2M15.9 23.5h1.2M13.9 31.5h1.2M21.9 31.5h1.2M14.9 26.5h1.2M17.9 24.5h1.2M17.9 29.5h1.2M20.9 29.5h1.2M17.9 55.5h1.2M25.9 55.5h1.2M50.9 55.5h1.2M18.9 46.5h2.2M26.9 46.5h1.2M35.9 46.5h1.2M19.9 41.5h1.2M24.9 41.5h1.2M27.9 41.5h1.2M31.9 41.5h1.2M19.9 53.5h1.2M31.9 53.5h1.2M39.9 53.5h1.2M46.9 53.5h1.2M48.9 53.5h1.2M50.9 53.5h1.2M20.9 44.5h1.2M24.9 44.5h1.2M20.9 48.5h1.2M31.9 48.5h1.2M35.9 48.5h1.2M44.9 48.5h2.2M27.9 47.5h1.2M29.9 47.5h1.2M28.9 43.5h1.2M36.9 52.5h1.2M40.9 52.5h1.2M42.9 52.5h2.2M37.9 58.5h1.2M38.9 50.5h1.2M43.9 50.5h1.2M45.9 50.5h1.2M39.9 57.5h1.2M47.9 57.5h1.2M50.9 57.5h1.2M53.9 57.5h1.2M45.9 56.5h1.2M48.9 56.5h1.2M52.9 56.5h2.2M46.9 63.5h1.2M51.9 59.5h2.2M57.9 59.5h1.2M51.9 66.5h1.2M61.9 66.5h1.2M53.9 60.5h1.2M53.9 61.5h1.2M62.9 65.5h2.2M63.9 64.5h1.2M65.9 68.5h1.2M65.9 72.5h1.2M70.9 72.5h2.2M68.9 70.5h2.2M70.9 73.5h1.2M72.9 73.5h1.2M70.9 75.5h1.2M73.9 74.5h1.2M75.9 76.5h1.2M76.9 77.5h1.2"/><path stroke="#249cc9" d="M1.9 5.5h1.2M2.9 7.5h1.2M3.9 9.5h1.2M3.9 12.5h1.2M8.9 12.5h1.2M4.9 14.5h1.2M5.9 10.5h1.2M6.9 13.5h1.2M7.9 16.5h2.2M8.9 19.5h1.2M10.9 21.5h1.2M10.9 22.5h2.2M14.9 22.5h2.2M10.9 25.5h1.2M17.9 25.5h1.2M10.9 27.5h1.2M13.9 27.5h1.2M10.9 41.5h1.2M20.9 41.5h1.2M29.9 41.5h1.2M33.9 41.5h1.2M11.9 24.5h1.2M11.9 29.5h1.2M13.9 29.5h1.2M19.9 29.5h1.2M11.9 44.5h1.2M16.9 44.5h1.2M21.9 44.5h1.2M26.9 44.5h1.2M29.9 44.5h1.2M32.9 44.5h1.2M36.9 44.5h1.2M38.9 44.5h1.2M12.9 26.5h1.2M19.9 26.5h1.2M13.9 37.5h1.2M21.9 37.5h1.2M27.9 37.5h3.2M14.9 20.5h1.2M14.9 46.5h1.2M22.9 46.5h1.2M15.9 30.5h2.2M20.9 30.5h2.2M15.9 31.5h1.2M19.9 31.5h1.2M16.9 28.5h1.2M16.9 34.5h2.2M19.9 34.5h1.2M23.9 34.5h2.2M16.9 38.5h1.2M31.9 38.5h1.2M16.9 43.5h1.2M22.9 43.5h1.2M30.9 43.5h1.2M35.9 43.5h1.2M17.9 40.5h1.2M32.9 40.5h1.2M35.9 40.5h1.2M20.9 32.5h1.2M23.9 32.5h1.2M20.9 39.5h1.2M21.9 35.5h1.2M24.9 35.5h1.2M22.9 33.5h1.2M25.9 36.5h2.2M25.9 45.5h1.2M26.9 42.5h3.2M32.9 42.5h1.2M34.9 42.5h2.2M26.9 50.5h1.2M46.9 50.5h1.2M37.9 47.5h1.2M41.9 53.5h1.2M49.9 53.5h1.2M42.9 54.5h1.2M43.9 55.5h1.2M47.9 55.5h1.2M45.9 51.5h1.2M48.9 52.5h1.2M50.9 58.5h1.2M52.9 58.5h1.2M54.9 58.5h1.2M52.9 57.5h1.2M55.9 59.5h1.2M56.9 60.5h1.2M58.9 60.5h1.2M59.9 61.5h1.2M61.9 64.5h1.2M62.9 63.5h1.2M62.9 66.5h2.2M65.9 66.5h1.2M66.9 67.5h1.2M66.9 68.5h1.2M67.9 69.5h1.2M74.9 75.5h1.2"/><path stroke="#38abc0" d="M-0.1 1.5h1.2M4.9 10.5h1.2M4.9 11.5h1.2M5.9 13.5h1.2M7.9 13.5h1.2M5.9 17.5h1.2M7.9 12.5h1.2M7.9 14.5h1.2M7.9 20.5h1.2M10.9 20.5h2.2M9.9 23.5h1.2M11.9 23.5h1.2M9.9 25.5h1.2M11.9 21.5h1.2M13.9 21.5h1.2M11.9 30.5h1.2M19.9 30.5h1.2M11.9 41.5h1.2M36.9 41.5h1.2M12.9 48.5h1.2M41.9 48.5h1.2M13.9 24.5h1.2M13.9 26.5h1.2M15.9 26.5h1.2M14.9 29.5h1.2M18.9 29.5h1.2M16.9 33.5h1.2M20.9 33.5h1.2M23.9 33.5h1.2M16.9 39.5h1.2M19.9 39.5h1.2M29.9 39.5h1.2M31.9 39.5h1.2M17.9 35.5h1.2M23.9 35.5h1.2M25.9 35.5h1.2M27.9 35.5h2.2M18.9 36.5h1.2M23.9 36.5h1.2M19.9 28.5h2.2M22.9 31.5h1.2M25.9 32.5h1.2M25.9 34.5h1.2M25.9 44.5h1.2M35.9 44.5h1.2M29.9 38.5h2.2M31.9 40.5h1.2M33.9 42.5h1.2M34.9 43.5h1.2M36.9 43.5h1.2M41.9 49.5h1.2M46.9 49.5h1.2M41.9 50.5h1.2M42.9 46.5h2.2M46.9 51.5h1.2M46.9 54.5h1.2M49.9 52.5h1.2M51.9 58.5h1.2M52.9 55.5h1.2M54.9 57.5h1.2M54.9 60.5h1.2M56.9 61.5h2.2M58.9 59.5h1.2M58.9 62.5h2.2M70.9 71.5h1.2"/><path stroke="#4ab0b7" d="M3.9 7.5h1.2M4.9 12.5h1.2M5.9 8.5h1.2M5.9 9.5h1.2M5.9 14.5h2.2M5.9 16.5h1.2M9.9 16.5h1.2M8.9 15.5h2.2M8.9 20.5h1.2M8.9 22.5h1.2M10.9 24.5h1.2M18.9 24.5h1.2M11.9 26.5h1.2M11.9 32.5h1.2M17.9 32.5h1.2M19.9 32.5h1.2M24.9 32.5h1.2M12.9 18.5h1.2M12.9 21.5h1.2M12.9 23.5h1.2M14.9 23.5h1.2M12.9 33.5h1.2M15.9 33.5h1.2M24.9 33.5h1.2M26.9 33.5h1.2M12.9 34.5h1.2M20.9 34.5h1.2M26.9 34.5h1.2M16.9 25.5h1.2M17.9 28.5h1.2M17.9 39.5h1.2M32.9 39.5h1.2M18.9 27.5h1.2M22.9 29.5h1.2M23.9 37.5h1.2M27.9 36.5h1.2M29.9 35.5h1.2M30.9 40.5h1.2M36.9 40.5h1.2M30.9 42.5h1.2M31.9 44.5h1.2M33.9 52.5h1.2M37.9 43.5h1.2M39.9 43.5h1.2M39.9 45.5h1.2M41.9 46.5h1.2M42.9 48.5h1.2M42.9 50.5h1.2M43.9 49.5h1.2M45.9 55.5h1.2M53.9 55.5h1.2M47.9 53.5h1.2M48.9 54.5h1.2M50.9 54.5h1.2M52.9 54.5h1.2M50.9 56.5h1.2M51.9 57.5h1.2M56.9 58.5h1.2"/><path stroke="#5db5ae" d="M0.9 3.5h1.2M6.9 10.5h1.2M6.9 17.5h1.2M12.9 17.5h1.2M8.9 23.5h1.2M9.9 14.5h1.2M9.9 20.5h1.2M11.9 18.5h1.2M12.9 24.5h1.2M14.9 21.5h1.2M14.9 27.5h1.2M19.9 27.5h1.2M15.9 25.5h1.2M16.9 36.5h1.2M31.9 36.5h1.2M33.9 36.5h1.2M21.9 29.5h1.2M22.9 30.5h1.2M33.9 37.5h1.2M33.9 43.5h1.2M35.9 41.5h1.2M37.9 41.5h1.2M37.9 46.5h1.2M39.9 46.5h2.2M39.9 48.5h1.2M41.9 44.5h1.2M42.9 45.5h1.2M47.9 52.5h1.2M51.9 54.5h1.2M51.9 55.5h1.2M55.9 58.5h1.2M60.9 61.5h1.2M60.9 63.5h1.2M64.9 65.5h1.2"/><path stroke="#6bb9a7" d="M1.9 4.5h1.2M2.9 5.5h1.2M2.9 6.5h2.2M3.9 8.5h1.2M5.9 11.5h1.2M6.9 12.5h1.2M6.9 15.5h2.2M8.9 17.5h1.2M11.9 17.5h1.2M11.9 16.5h1.2M12.9 20.5h2.2M15.9 24.5h1.2M15.9 41.5h1.2M23.9 29.5h1.2M24.9 30.5h1.2M25.9 31.5h1.2M28.9 36.5h1.2M34.9 39.5h1.2M40.9 44.5h1.2M40.9 45.5h1.2M43.9 47.5h1.2M43.9 48.5h1.2M46.9 52.5h1.2M50.9 52.5h1.2M47.9 50.5h1.2M54.9 56.5h1.2M55.9 57.5h1.2M61.9 62.5h1.2M67.9 68.5h1.2"/><path stroke="#72bda5" d="M4.9 9.5h1.2M6.9 11.5h1.2M10.9 16.5h1.2M10.9 18.5h1.2M11.9 19.5h1.2M12.9 22.5h1.2M14.9 28.5h1.2M18.9 28.5h1.2M16.9 23.5h1.2M17.9 26.5h2.2M20.9 31.5h1.2M21.9 32.5h1.2M27.9 32.5h1.2M26.9 37.5h1.2M29.9 36.5h2.2M34.9 41.5h1.2M37.9 44.5h1.2M39.9 44.5h1.2M42.9 47.5h1.2M44.9 49.5h1.2M60.9 62.5h1.2"/><path stroke="#79c1a3" d="M8.9 13.5h1.2M10.9 15.5h1.2M10.9 17.5h1.2M13.9 19.5h1.2M17.9 23.5h1.2M23.9 31.5h1.2M25.9 30.5h1.2M25.9 33.5h1.2M32.9 37.5h1.2M32.9 38.5h1.2M34.9 38.5h2.2M35.9 39.5h1.2M38.9 41.5h1.2M41.9 45.5h1.2M45.9 47.5h1.2M49.9 50.5h1.2M51.9 52.5h1.2M51.9 53.5h1.2M55.9 56.5h1.2M57.9 58.5h1.2M59.9 60.5h1.2"/><path stroke="#80c4a1" d="M12.9 16.5h1.2M12.9 19.5h1.2M13.9 18.5h1.2M17.9 22.5h1.2M18.9 25.5h1.2M21.9 27.5h1.2M27.9 34.5h1.2M32.9 36.5h1.2M43.9 45.5h1.2M45.9 49.5h1.2M48.9 51.5h2.2M54.9 55.5h1.2"/><path stroke="#89c79d" d="M1.9 3.5h1.2M4.9 7.5h1.2M4.9 8.5h1.2M7.9 10.5h1.2M10.9 14.5h1.2M14.9 17.5h1.2M14.9 18.5h1.2M14.9 19.5h1.2M16.9 22.5h1.2M16.9 24.5h1.2M18.9 23.5h1.2M21.9 26.5h1.2M21.9 28.5h2.2M23.9 27.5h1.2M23.9 30.5h1.2M27.9 31.5h1.2M27.9 33.5h2.2M30.9 34.5h1.2M31.9 37.5h1.2M33.9 38.5h1.2M33.9 39.5h1.2M37.9 40.5h1.2M38.9 43.5h1.2M40.9 42.5h1.2M44.9 47.5h1.2M56.9 57.5h1.2"/><path stroke="#92ca98" d="M0.9 2.5h1.2M6.9 9.5h1.2M9.9 13.5h1.2M15.9 21.5h2.2M20.9 25.5h2.2M20.9 26.5h1.2M20.9 27.5h1.2M22.9 27.5h1.2M24.9 29.5h1.2M26.9 31.5h1.2M28.9 34.5h2.2M30.9 35.5h1.2M34.9 37.5h1.2M36.9 39.5h1.2M38.9 42.5h1.2M46.9 48.5h1.2M48.9 49.5h1.2M48.9 50.5h1.2"/><path stroke="#9bcc93" d="M5.9 7.5h1.2M7.9 11.5h2.2M9.9 12.5h1.2M11.9 15.5h1.2M13.9 17.5h1.2M19.9 22.5h1.2M19.9 23.5h1.2M19.9 24.5h1.2M22.9 26.5h1.2M24.9 28.5h2.2M26.9 32.5h1.2M29.9 33.5h1.2M37.9 39.5h1.2M39.9 42.5h1.2M40.9 43.5h1.2M53.9 54.5h1.2"/><path stroke="#a4cf8e" d="M3.9 5.5h1.2M13.9 16.5h1.2M15.9 19.5h2.2M15.9 20.5h1.2M18.9 22.5h1.2M25.9 29.5h1.2M29.9 32.5h1.2M30.9 33.5h1.2M41.9 43.5h1.2M44.9 46.5h1.2M47.9 49.5h1.2"/><path stroke="#afcd89" d="M2.9 4.5h1.2M4.9 6.5h1.2M10.9 13.5h1.2M15.9 18.5h1.2M17.9 21.5h1.2M19.9 25.5h1.2M20.9 24.5h1.2M23.9 28.5h1.2M26.9 30.5h1.2M31.9 34.5h1.2M31.9 35.5h1.2M39.9 41.5h1.2M42.9 44.5h1.2M50.9 51.5h1.2"/><path stroke="#bbc985" d="M11.9 14.5h1.2M18.9 21.5h1.2M20.9 23.5h1.2M23.9 26.5h1.2M26.9 29.5h1.2M28.9 31.5h1.2M32.9 35.5h1.2M35.9 37.5h1.2M36.9 38.5h1.2M38.9 40.5h1.2M44.9 45.5h1.2M45.9 46.5h1.2M47.9 48.5h1.2M52.9 53.5h1.2"/><path stroke="#c6c581" d="M8.9 10.5h1.2M12.9 15.5h1.2M16.9 20.5h2.2M24.9 27.5h1.2M27.9 30.5h1.2M28.9 32.5h1.2M39.9 40.5h1.2M46.9 47.5h1.2"/><path stroke="#d3ba7a" d="M6.9 8.5h1.2M9.9 11.5h1.2M14.9 16.5h1.2M22.9 25.5h1.2M29.9 31.5h1.2M32.9 34.5h1.2M33.9 35.5h1.2M34.9 36.5h1.2M36.9 37.5h1.2M42.9 43.5h1.2M43.9 44.5h1.2"/><path stroke="#e0ae74" d="M7.9 9.5h1.2M10.9 12.5h1.2M11.9 13.5h1.2M12.9 14.5h1.2M21.9 24.5h2.2M24.9 26.5h1.2M25.9 27.5h1.2M26.9 28.5h1.2M37.9 38.5h1.2M40.9 41.5h1.2M41.9 42.5h1.2"/><path stroke="#eda36e" d="M17.9 19.5h1.2M19.9 21.5h1.2M23.9 25.5h1.2M28.9 30.5h1.2M30.9 32.5h1.2"/><path stroke="#ee9768" d="M13.9 15.5h1.2M15.9 17.5h1.2M16.9 18.5h1.2M20.9 22.5h1.2M21.9 23.5h1.2M27.9 29.5h1.2M31.9 33.5h1.2M38.9 39.5h1.2"/><path stroke="#ec8b62" d="M18.9 20.5h1.2M31.9 32.5h1.2M34.9 35.5h1.2M35.9 36.5h1.2"/><path stroke="#ea7f5c" d="M33.9 34.5h1.2"/><path stroke="#e87356" d="M17.9 18.5h1.2M32.9 33.5h1.2"/><path stroke="#e66750" d="M-0.1 0.5h1.2M9.9 10.5h1.2M14.9 15.5h1.2M21.9 22.5h1.2M23.9 24.5h1.2M25.9 26.5h1.2M26.9 27.5h1.2M29.9 30.5h1.2"/><path stroke="#e45c4a" d="M2.9 3.5h1.2M4.9 5.5h1.2M6.9 7.5h1.2M8.9 9.5h1.2M13.9 14.5h1.2M15.9 16.5h1.2M16.9 17.5h1.2M18.9 19.5h1.2M27.9 28.5h1.2M30.9 31.5h1.2"/><path stroke="#e25145" d="M0.9 1.5h1.2M1.9 2.5h1.2M3.9 4.5h1.2M5.9 6.5h1.2M10.9 11.5h1.2M11.9 12.5h1.2M12.9 13.5h1.2M19.9 20.5h1.2M22.9 23.5h1.2M24.9 25.5h1.2M28.9 29.5h1.2"/><path stroke="#e0463f" d="M7.9 8.5h1.2M20.9 21.5h1.2"/></g></g><path d="M350.5 275.0L560.5 65" stroke="#151515" stroke-width="1.0" fill="none"/><path d="M350.50 275.0v-2.6M350.50 65v2.6M350.5 275.00h2.6M560.5 275.00h-2.6M385.50 275.0v-2.6M385.50 65v2.6M350.5 240.00h2.6M560.5 240.00h-2.6M420.50 275.0v-2.6M420.50 65v2.6M350.5 205.00h2.6M560.5 205.00h-2.6M455.50 275.0v-2.6M455.50 65v2.6M350.5 170.00h2.6M560.5 170.00h-2.6M490.50 275.0v-2.6M490.50 65v2.6M350.5 135.00h2.6M560.5 135.00h-2.6M525.50 275.0v-2.6M525.50 65v2.6M350.5 100.00h2.6M560.5 100.00h-2.6M560.50 275.0v-2.6M560.50 65v2.6M350.5 65.00h2.6M560.5 65.00h-2.6" stroke="#444" stroke-width="0.7" fill="none"/><rect x="350.5" y="65" width="210.0" height="210.0" fill="none" stroke="#666" stroke-width="1.1"/><g font-family="Liberation Sans, sans-serif" font-size="7.3" fill="#1a1a1a"><text x="350.50" y="283.40" text-anchor="middle">0</text><text x="347.30" y="276.90" text-anchor="end">0</text><text x="385.50" y="283.40" text-anchor="middle">50</text><text x="347.30" y="241.90" text-anchor="end">50</text><text x="420.50" y="283.40" text-anchor="middle">100</text><text x="347.30" y="206.90" text-anchor="end">100</text><text x="455.50" y="283.40" text-anchor="middle">150</text><text x="347.30" y="171.90" text-anchor="end">150</text><text x="490.50" y="283.40" text-anchor="middle">200</text><text x="347.30" y="136.90" text-anchor="end">200</text><text x="525.50" y="283.40" text-anchor="middle">250</text><text x="347.30" y="101.90" text-anchor="end">250</text><text x="560.50" y="283.40" text-anchor="middle">300</text><text x="347.30" y="66.90" text-anchor="end">300</text></g><rect x="575.2" y="65" width="10.5" height="210.0" fill="url(#cb)" stroke="#333" stroke-width="0.8"/><path d="M583.20 275h2.5" stroke="#333" stroke-width="0.7"/><text x="588.30" y="277.40" font-family="Liberation Serif, serif" font-size="8.2" fill="#1a1a1a">10<tspan font-size="5.8" dy="-3.3" dx="0.7">0</tspan></text><path d="M583.20 177h2.5" stroke="#333" stroke-width="0.7"/><text x="588.30" y="179.40" font-family="Liberation Serif, serif" font-size="8.2" fill="#1a1a1a">10<tspan font-size="5.8" dy="-3.3" dx="0.7">1</tspan></text><path d="M583.20 80h2.5" stroke="#333" stroke-width="0.7"/><text x="588.30" y="82.40" font-family="Liberation Serif, serif" font-size="8.2" fill="#1a1a1a">10<tspan font-size="5.8" dy="-3.3" dx="0.7">2</tspan></text><g transform="translate(446.3,289.4) scale(1.0)"><path d="M6.5 9.4C5 10.2 2 10.3 0.8 8.8C-0.3 7.4 0.3 4.6 2.2 2.8C3.8 1.2 6.5 0.2 9.5 0.3C12 0.4 14 1.2 13.8 2.6C13.6 4 12 4.9 10.2 5.6C9.6 5.8 9.2 5.9 9 6M9 6C10.3 7.2 11.5 8.4 12.8 9.3M3.6 7.6C3.6 6.2 5.4 5.2 7 5.2C8 5.2 8.6 5.6 9 6" fill="none" stroke="#111" stroke-width="1.15" stroke-linecap="round"/><path d="M11.3 1.0C11.1 2.3 10.9 3.5 10.6 4.8" fill="none" stroke="#555" stroke-width="0.6"/><text x="16.2" y="3.2" font-family="Liberation Serif, serif" font-size="8.2">2</text><text x="14.0" y="12.4" font-family="Liberation Serif, serif" font-style="italic" font-size="9.6">b</text></g><g transform="translate(319.4,176.9) rotate(-90) scale(1.0)"><path d="M6.5 9.4C5 10.2 2 10.3 0.8 8.8C-0.3 7.4 0.3 4.6 2.2 2.8C3.8 1.2 6.5 0.2 9.5 0.3C12 0.4 14 1.2 13.8 2.6C13.6 4 12 4.9 10.2 5.6C9.6 5.8 9.2 5.9 9 6M9 6C10.3 7.2 11.5 8.4 12.8 9.3M3.6 7.6C3.6 6.2 5.4 5.2 7 5.2C8 5.2 8.6 5.6 9 6" fill="none" stroke="#111" stroke-width="1.15" stroke-linecap="round"/><path d="M11.3 1.0C11.1 2.3 10.9 3.5 10.6 4.8" fill="none" stroke="#555" stroke-width="0.6"/><text x="16.2" y="3.2" font-family="Liberation Serif, serif" font-size="8.2">2</text><text x="14.0" y="12.4" font-family="Liberation Serif, serif" font-style="italic" font-size="9.6">d</text></g><text x="481.59999999999997" y="263.7" font-family="Liberation Serif, serif" font-size="20.6" fill="#111">N<tspan font-size="16.2" dy="3.2">c</tspan><tspan dy="-3.2" dx="0.6">=2M</tspan></text></g><g><path d="M71.50 326.5V536.5M36.5 501.50H246.5M106.50 326.5V536.5M36.5 466.50H246.5M141.50 326.5V536.5M36.5 431.50H246.5M176.50 326.5V536.5M36.5 396.50H246.5M211.50 326.5V536.5M36.5 361.50H246.5" stroke="#9a9a9a" stroke-width="0.7" stroke-dasharray="0.9 1.3" fill="none"/><g filter="url(#bl)"><g transform="translate(36.5,536.5) scale(1.4,-1.4)" stroke-width="1.2" fill="none"><path stroke="#584ca4" d="M-0.1 4.5h1.2M-0.1 7.5h1.2M0.9 8.5h1.2M1.9 10.5h1.2M1.9 12.5h1.2M4.9 12.5h1.2M2.9 11.5h1.2M2.9 16.5h1.2M6.9 16.5h1.2M3.9 14.5h1.2M3.9 21.5h1.2M5.9 21.5h1.2M7.9 21.5h1.2M10.9 21.5h1.2M4.9 17.5h1.2M6.9 17.5h1.2M4.9 18.5h1.2M9.9 18.5h1.2M4.9 19.5h3.2M10.9 19.5h1.2M4.9 23.5h3.2M9.9 23.5h1.2M11.9 23.5h1.2M4.9 24.5h1.2M8.9 24.5h1.2M13.9 24.5h1.2M4.9 25.5h1.2M7.9 25.5h1.2M9.9 25.5h1.2M15.9 25.5h1.2M4.9 26.5h2.2M10.9 26.5h1.2M5.9 20.5h1.2M8.9 20.5h1.2M10.9 20.5h1.2M5.9 22.5h1.2M11.9 22.5h1.2M13.9 22.5h1.2M5.9 29.5h1.2M7.9 29.5h2.2M13.9 29.5h1.2M15.9 29.5h1.2M5.9 31.5h1.2M7.9 31.5h1.2M11.9 31.5h1.2M14.9 31.5h1.2M16.9 31.5h1.2M19.9 31.5h1.2M5.9 32.5h1.2M7.9 32.5h1.2M9.9 32.5h1.2M11.9 32.5h1.2M13.9 32.5h1.2M16.9 32.5h1.2M18.9 32.5h1.2M20.9 32.5h1.2M6.9 28.5h2.2M11.9 28.5h1.2M14.9 28.5h1.2M6.9 30.5h1.2M10.9 30.5h1.2M6.9 33.5h4.2M25.9 33.5h1.2M7.9 36.5h2.2M12.9 36.5h2.2M18.9 36.5h1.2M20.9 36.5h1.2M22.9 36.5h2.2M7.9 37.5h3.2M14.9 37.5h3.2M18.9 37.5h1.2M20.9 37.5h1.2M22.9 37.5h1.2M7.9 42.5h1.2M17.9 42.5h1.2M19.9 42.5h1.2M21.9 42.5h1.2M25.9 42.5h3.2M30.9 42.5h1.2M8.9 35.5h1.2M10.9 35.5h1.2M12.9 35.5h1.2M17.9 35.5h2.2M21.9 35.5h1.2M8.9 39.5h1.2M15.9 39.5h1.2M22.9 39.5h3.2M26.9 39.5h1.2M29.9 39.5h1.2M9.9 34.5h1.2M13.9 34.5h3.2M17.9 34.5h1.2M20.9 34.5h3.2M9.9 40.5h1.2M15.9 40.5h1.2M20.9 40.5h1.2M22.9 40.5h4.2M27.9 40.5h1.2M29.9 40.5h1.2M9.9 41.5h2.2M15.9 41.5h2.2M18.9 41.5h1.2M23.9 41.5h1.2M25.9 41.5h1.2M28.9 41.5h1.2M33.9 41.5h2.2M9.9 44.5h1.2M12.9 44.5h1.2M15.9 44.5h2.2M19.9 44.5h1.2M21.9 44.5h1.2M23.9 44.5h1.2M27.9 44.5h1.2M33.9 44.5h3.2M38.9 44.5h1.2M9.9 48.5h2.2M15.9 48.5h1.2M20.9 48.5h1.2M22.9 48.5h1.2M25.9 48.5h1.2M27.9 48.5h1.2M30.9 48.5h2.2M33.9 48.5h1.2M36.9 48.5h1.2M38.9 48.5h1.2M42.9 48.5h1.2M10.9 45.5h2.2M13.9 45.5h3.2M23.9 45.5h2.2M27.9 45.5h4.2M32.9 45.5h1.2M35.9 45.5h2.2M10.9 47.5h1.2M16.9 47.5h1.2M20.9 47.5h1.2M22.9 47.5h1.2M24.9 47.5h1.2M28.9 47.5h2.2M33.9 47.5h1.2M38.9 47.5h2.2M10.9 50.5h3.2M17.9 50.5h1.2M19.9 50.5h2.2M22.9 50.5h1.2M28.9 50.5h2.2M31.9 50.5h3.2M41.9 50.5h1.2M43.9 50.5h1.2M11.9 38.5h2.2M17.9 38.5h2.2M33.9 38.5h1.2M11.9 43.5h2.2M15.9 43.5h1.2M18.9 43.5h1.2M20.9 43.5h1.2M22.9 43.5h1.2M24.9 43.5h1.2M27.9 43.5h1.2M30.9 43.5h1.2M11.9 46.5h1.2M14.9 46.5h1.2M16.9 46.5h4.2M21.9 46.5h1.2M23.9 46.5h1.2M28.9 46.5h1.2M38.9 46.5h1.2M11.9 52.5h2.2M14.9 52.5h1.2M16.9 52.5h1.2M21.9 52.5h2.2M28.9 52.5h2.2M31.9 52.5h1.2M33.9 52.5h1.2M39.9 52.5h1.2M42.9 52.5h2.2M46.9 52.5h1.2M48.9 52.5h1.2M12.9 49.5h1.2M14.9 49.5h1.2M20.9 49.5h1.2M23.9 49.5h5.2M34.9 49.5h2.2M39.9 49.5h1.2M12.9 56.5h1.2M14.9 56.5h1.2M17.9 56.5h1.2M21.9 56.5h2.2M28.9 56.5h1.2M38.9 56.5h1.2M40.9 56.5h1.2M42.9 56.5h1.2M44.9 56.5h1.2M48.9 56.5h2.2M12.9 57.5h1.2M15.9 57.5h1.2M17.9 57.5h1.2M28.9 57.5h1.2M30.9 57.5h1.2M34.9 57.5h3.2M40.9 57.5h1.2M44.9 57.5h1.2M47.9 57.5h1.2M13.9 53.5h4.2M21.9 53.5h1.2M24.9 53.5h3.2M29.9 53.5h2.2M33.9 53.5h3.2M42.9 53.5h1.2M45.9 53.5h1.2M14.9 51.5h4.2M24.9 51.5h1.2M27.9 51.5h3.2M31.9 51.5h1.2M33.9 51.5h1.2M35.9 51.5h1.2M37.9 51.5h1.2M41.9 51.5h1.2M44.9 51.5h1.2M14.9 54.5h2.2M20.9 54.5h1.2M22.9 54.5h1.2M24.9 54.5h3.2M28.9 54.5h3.2M35.9 54.5h1.2M37.9 54.5h1.2M40.9 54.5h1.2M42.9 54.5h1.2M46.9 54.5h1.2M14.9 58.5h1.2M19.9 58.5h1.2M21.9 58.5h1.2M23.9 58.5h2.2M27.9 58.5h1.2M30.9 58.5h1.2M35.9 58.5h2.2M41.9 58.5h1.2M47.9 58.5h1.2M49.9 58.5h2.2M14.9 106.5h1.2M42.9 106.5h1.2M69.9 106.5h1.2M92.9 106.5h2.2M103.9 106.5h1.2M15.9 55.5h2.2M21.9 55.5h1.2M25.9 55.5h2.2M28.9 55.5h3.2M32.9 55.5h1.2M37.9 55.5h1.2M39.9 55.5h2.2M43.9 55.5h4.2M15.9 59.5h1.2M20.9 59.5h1.2M22.9 59.5h1.2M32.9 59.5h1.2M42.9 59.5h3.2M51.9 59.5h1.2M56.9 59.5h1.2M16.9 60.5h3.2M24.9 60.5h2.2M30.9 60.5h1.2M35.9 60.5h1.2M37.9 60.5h1.2M39.9 60.5h2.2M42.9 60.5h3.2M46.9 60.5h2.2M50.9 60.5h2.2M53.9 60.5h1.2M55.9 60.5h1.2M16.9 61.5h1.2M18.9 61.5h2.2M22.9 61.5h1.2M24.9 61.5h2.2M28.9 61.5h1.2M30.9 61.5h1.2M34.9 61.5h3.2M38.9 61.5h2.2M41.9 61.5h1.2M44.9 61.5h1.2M48.9 61.5h3.2M52.9 61.5h2.2M57.9 61.5h1.2M16.9 62.5h2.2M19.9 62.5h2.2M23.9 62.5h1.2M25.9 62.5h3.2M29.9 62.5h2.2M33.9 62.5h2.2M37.9 62.5h3.2M41.9 62.5h2.2M45.9 62.5h6.2M52.9 62.5h1.2M54.9 62.5h1.2M16.9 63.5h1.2M19.9 63.5h4.2M33.9 63.5h1.2M37.9 63.5h2.2M47.9 63.5h3.2M16.9 66.5h3.2M22.9 66.5h3.2M31.9 66.5h1.2M33.9 66.5h1.2M36.9 66.5h1.2M40.9 66.5h2.2M45.9 66.5h2.2M53.9 66.5h1.2M56.9 66.5h1.2M58.9 66.5h2.2M63.9 66.5h1.2M17.9 65.5h1.2M26.9 65.5h1.2M29.9 65.5h1.2M32.9 65.5h2.2M42.9 65.5h1.2M44.9 65.5h2.2M47.9 65.5h2.2M59.9 65.5h1.2M17.9 69.5h1.2M25.9 69.5h2.2M29.9 69.5h3.2M43.9 69.5h1.2M45.9 69.5h1.2M47.9 69.5h1.2M53.9 69.5h2.2M56.9 69.5h1.2M61.9 69.5h1.2M63.9 69.5h1.2M19.9 67.5h1.2M27.9 67.5h1.2M42.9 67.5h1.2M44.9 67.5h4.2M51.9 67.5h1.2M53.9 67.5h1.2M55.9 67.5h2.2M58.9 67.5h1.2M60.9 67.5h1.2M19.9 92.5h1.2M27.9 92.5h1.2M34.9 92.5h1.2M38.9 92.5h1.2M53.9 92.5h2.2M61.9 92.5h1.2M69.9 92.5h1.2M72.9 92.5h1.2M75.9 92.5h1.2M78.9 92.5h1.2M85.9 92.5h1.2M20.9 75.5h1.2M26.9 75.5h1.2M31.9 75.5h1.2M35.9 75.5h1.2M40.9 75.5h1.2M45.9 75.5h1.2M60.9 75.5h1.2M64.9 75.5h2.2M69.9 75.5h3.2M21.9 64.5h1.2M27.9 64.5h3.2M35.9 64.5h2.2M40.9 64.5h1.2M45.9 64.5h4.2M52.9 64.5h1.2M54.9 64.5h2.2M62.9 64.5h1.2M21.9 68.5h1.2M23.9 68.5h1.2M25.9 68.5h1.2M32.9 68.5h1.2M42.9 68.5h5.2M48.9 68.5h2.2M52.9 68.5h1.2M56.9 68.5h2.2M59.9 68.5h1.2M62.9 68.5h1.2M65.9 68.5h1.2M67.9 68.5h1.2M21.9 71.5h1.2M27.9 71.5h2.2M30.9 71.5h1.2M37.9 71.5h1.2M45.9 71.5h2.2M50.9 71.5h2.2M57.9 71.5h1.2M63.9 71.5h1.2M65.9 71.5h3.2M69.9 71.5h1.2M21.9 72.5h2.2M24.9 72.5h2.2M29.9 72.5h1.2M33.9 72.5h1.2M36.9 72.5h1.2M39.9 72.5h1.2M42.9 72.5h1.2M46.9 72.5h2.2M50.9 72.5h1.2M57.9 72.5h2.2M62.9 72.5h1.2M65.9 72.5h1.2M67.9 72.5h2.2M21.9 73.5h1.2M24.9 73.5h1.2M31.9 73.5h1.2M35.9 73.5h1.2M40.9 73.5h1.2M46.9 73.5h1.2M51.9 73.5h1.2M54.9 73.5h1.2M58.9 73.5h1.2M61.9 73.5h1.2M64.9 73.5h1.2M67.9 73.5h1.2M21.9 74.5h2.2M24.9 74.5h1.2M37.9 74.5h1.2M40.9 74.5h1.2M44.9 74.5h1.2M55.9 74.5h1.2M58.9 74.5h6.2M70.9 74.5h1.2M22.9 77.5h1.2M26.9 77.5h2.2M41.9 77.5h3.2M51.9 77.5h1.2M53.9 77.5h1.2M55.9 77.5h1.2M61.9 77.5h4.2M66.9 77.5h2.2M72.9 77.5h2.2M23.9 80.5h1.2M25.9 80.5h2.2M33.9 80.5h1.2M39.9 80.5h2.2M45.9 80.5h2.2M52.9 80.5h3.2M60.9 80.5h1.2M63.9 80.5h1.2M65.9 80.5h1.2M72.9 80.5h2.2M77.9 80.5h1.2M24.9 78.5h1.2M26.9 78.5h1.2M34.9 78.5h2.2M37.9 78.5h1.2M44.9 78.5h1.2M48.9 78.5h1.2M50.9 78.5h2.2M56.9 78.5h1.2M63.9 78.5h1.2M70.9 78.5h4.2M76.9 78.5h1.2M24.9 82.5h1.2M29.9 82.5h1.2M36.9 82.5h1.2M50.9 82.5h2.2M55.9 82.5h2.2M59.9 82.5h1.2M62.9 82.5h1.2M72.9 82.5h2.2M78.9 82.5h3.2M25.9 83.5h1.2M29.9 83.5h5.2M43.9 83.5h1.2M54.9 83.5h1.2M57.9 83.5h2.2M61.9 83.5h2.2M65.9 83.5h1.2M71.9 83.5h1.2M80.9 83.5h1.2M82.9 83.5h1.2M26.9 89.5h1.2M29.9 89.5h1.2M32.9 89.5h1.2M34.9 89.5h1.2M58.9 89.5h1.2M64.9 89.5h1.2M66.9 89.5h1.2M72.9 89.5h1.2M74.9 89.5h1.2M80.9 89.5h2.2M85.9 89.5h1.2M27.9 70.5h1.2M30.9 70.5h2.2M38.9 70.5h1.2M40.9 70.5h1.2M43.9 70.5h3.2M47.9 70.5h2.2M52.9 70.5h2.2M56.9 70.5h2.2M61.9 70.5h1.2M64.9 70.5h1.2M27.9 88.5h1.2M29.9 88.5h1.2M32.9 88.5h1.2M44.9 88.5h1.2M64.9 88.5h1.2M70.9 88.5h1.2M76.9 88.5h1.2M84.9 88.5h1.2M86.9 88.5h1.2M27.9 146.5h1.2M28.9 95.5h1.2M48.9 95.5h2.2M51.9 95.5h1.2M61.9 95.5h3.2M71.9 95.5h1.2M83.9 95.5h1.2M86.9 95.5h1.2M91.9 95.5h1.2M93.9 95.5h1.2M29.9 79.5h1.2M32.9 79.5h1.2M34.9 79.5h2.2M38.9 79.5h1.2M43.9 79.5h3.2M49.9 79.5h1.2M53.9 79.5h1.2M59.9 79.5h2.2M62.9 79.5h2.2M67.9 79.5h1.2M69.9 79.5h1.2M75.9 79.5h1.2M29.9 81.5h3.2M38.9 81.5h2.2M41.9 81.5h4.2M49.9 81.5h2.2M56.9 81.5h1.2M60.9 81.5h2.2M63.9 81.5h2.2M66.9 81.5h1.2M71.9 81.5h1.2M74.9 81.5h1.2M77.9 81.5h1.2M30.9 76.5h1.2M33.9 76.5h2.2M39.9 76.5h2.2M45.9 76.5h2.2M52.9 76.5h1.2M54.9 76.5h4.2M61.9 76.5h1.2M63.9 76.5h1.2M65.9 76.5h1.2M67.9 76.5h1.2M69.9 76.5h1.2M74.9 76.5h1.2M30.9 90.5h1.2M35.9 90.5h1.2M37.9 90.5h1.2M56.9 90.5h1.2M59.9 90.5h1.2M64.9 90.5h1.2M66.9 90.5h1.2M68.9 90.5h1.2M73.9 90.5h1.2M84.9 90.5h1.2M87.9 90.5h2.2M31.9 85.5h1.2M34.9 85.5h1.2M38.9 85.5h1.2M42.9 85.5h1.2M45.9 85.5h3.2M49.9 85.5h1.2M53.9 85.5h1.2M58.9 85.5h2.2M62.9 85.5h1.2M75.9 85.5h2.2M78.9 85.5h3.2M82.9 85.5h3.2M32.9 86.5h1.2M41.9 86.5h1.2M55.9 86.5h1.2M64.9 86.5h1.2M71.9 86.5h1.2M77.9 86.5h3.2M82.9 86.5h1.2M85.9 86.5h1.2M32.9 87.5h1.2M36.9 87.5h2.2M65.9 87.5h1.2M67.9 87.5h1.2M70.9 87.5h2.2M76.9 87.5h1.2M79.9 87.5h2.2M83.9 87.5h1.2M85.9 87.5h1.2M32.9 91.5h2.2M36.9 91.5h1.2M68.9 91.5h1.2M73.9 91.5h1.2M76.9 91.5h1.2M79.9 91.5h2.2M85.9 91.5h1.2M90.9 91.5h1.2M33.9 84.5h1.2M48.9 84.5h1.2M59.9 84.5h1.2M66.9 84.5h1.2M71.9 84.5h1.2M74.9 84.5h1.2M76.9 84.5h2.2M81.9 84.5h2.2M33.9 93.5h1.2M39.9 93.5h1.2M43.9 93.5h1.2M47.9 93.5h1.2M57.9 93.5h1.2M59.9 93.5h1.2M64.9 93.5h1.2M73.9 93.5h1.2M76.9 93.5h1.2M79.9 93.5h1.2M86.9 93.5h3.2M91.9 93.5h1.2M33.9 104.5h1.2M37.9 104.5h1.2M44.9 104.5h1.2M65.9 104.5h1.2M70.9 104.5h1.2M85.9 104.5h1.2M92.9 104.5h1.2M96.9 104.5h1.2M100.9 104.5h1.2M102.9 104.5h1.2M34.9 98.5h1.2M38.9 98.5h1.2M48.9 98.5h1.2M50.9 98.5h1.2M52.9 98.5h1.2M56.9 98.5h1.2M76.9 98.5h1.2M93.9 98.5h3.2M97.9 98.5h1.2M39.9 96.5h1.2M46.9 96.5h1.2M89.9 96.5h1.2M93.9 96.5h2.2M39.9 100.5h1.2M69.9 100.5h1.2M76.9 100.5h1.2M90.9 100.5h1.2M95.9 100.5h1.2M98.9 100.5h1.2M46.9 107.5h1.2M53.9 107.5h1.2M59.9 107.5h2.2M87.9 107.5h1.2M90.9 107.5h1.2M93.9 107.5h1.2M96.9 107.5h1.2M101.9 107.5h1.2M103.9 107.5h3.2M50.9 105.5h1.2M61.9 105.5h1.2M97.9 105.5h1.2M103.9 105.5h1.2M53.9 99.5h1.2M56.9 99.5h1.2M59.9 99.5h1.2M64.9 99.5h1.2M67.9 99.5h1.2M70.9 99.5h1.2M87.9 99.5h1.2M89.9 99.5h1.2M95.9 99.5h1.2M53.9 101.5h1.2M59.9 101.5h1.2M65.9 101.5h1.2M74.9 101.5h1.2M78.9 101.5h1.2M97.9 101.5h2.2M57.9 122.5h1.2M110.9 122.5h1.2M119.9 122.5h1.2M58.9 103.5h1.2M69.9 103.5h1.2M64.9 102.5h1.2M90.9 102.5h1.2M92.9 102.5h1.2M96.9 102.5h3.2M100.9 102.5h1.2M64.9 115.5h1.2M75.9 115.5h1.2M78.9 115.5h1.2M90.9 115.5h1.2M95.9 115.5h1.2M64.9 130.5h1.2M65.9 94.5h1.2M67.9 94.5h1.2M73.9 94.5h1.2M76.9 94.5h2.2M82.9 94.5h1.2M65.9 97.5h2.2M79.9 97.5h1.2M83.9 97.5h1.2M95.9 97.5h2.2M69.9 124.5h1.2M71.9 125.5h1.2M114.9 125.5h1.2M72.9 113.5h1.2M107.9 113.5h1.2M112.9 113.5h1.2M79.9 111.5h1.2M108.9 111.5h1.2M79.9 112.5h1.2M80.9 110.5h1.2M82.9 109.5h1.2M97.9 109.5h1.2M103.9 109.5h1.2M91.9 114.5h1.2M97.9 121.5h1.2M99.9 123.5h1.2M103.9 123.5h1.2M99.9 134.5h1.2M133.9 134.5h1.2M101.9 149.5h1.2M103.9 118.5h1.2M104.9 129.5h1.2M105.9 108.5h1.2M109.9 131.5h1.2M110.9 119.5h1.2M114.9 119.5h2.2M119.9 120.5h1.2M121.9 133.5h1.2M127.9 135.5h2.2M130.9 140.5h1.2M136.9 140.5h1.2M133.9 143.5h1.2M139.9 143.5h1.2"/><path stroke="#3f5faa" d="M-0.1 2.5h1.2M2.9 9.5h1.2M2.9 15.5h2.2M9.9 15.5h1.2M3.9 10.5h1.2M3.9 16.5h1.2M3.9 17.5h1.2M5.9 17.5h1.2M5.9 14.5h1.2M5.9 18.5h1.2M5.9 25.5h1.2M12.9 25.5h1.2M16.9 25.5h1.2M5.9 27.5h3.2M10.9 27.5h2.2M16.9 27.5h1.2M6.9 20.5h1.2M9.9 20.5h1.2M11.9 20.5h1.2M13.9 20.5h1.2M6.9 21.5h1.2M8.9 21.5h2.2M6.9 22.5h1.2M6.9 24.5h2.2M9.9 24.5h1.2M15.9 24.5h1.2M7.9 19.5h1.2M7.9 35.5h1.2M13.9 35.5h1.2M16.9 35.5h1.2M19.9 35.5h1.2M9.9 28.5h1.2M13.9 28.5h1.2M15.9 28.5h1.2M17.9 28.5h1.2M9.9 29.5h1.2M16.9 29.5h1.2M9.9 30.5h1.2M13.9 30.5h2.2M9.9 31.5h2.2M13.9 31.5h1.2M17.9 31.5h1.2M21.9 31.5h1.2M9.9 38.5h1.2M13.9 38.5h3.2M20.9 38.5h1.2M22.9 38.5h1.2M26.9 38.5h1.2M32.9 38.5h1.2M10.9 33.5h1.2M12.9 33.5h1.2M14.9 33.5h1.2M17.9 33.5h1.2M23.9 33.5h1.2M10.9 34.5h1.2M10.9 39.5h1.2M13.9 39.5h1.2M18.9 39.5h1.2M20.9 39.5h1.2M28.9 39.5h1.2M30.9 39.5h2.2M10.9 40.5h1.2M14.9 40.5h1.2M18.9 40.5h1.2M21.9 40.5h1.2M26.9 40.5h1.2M34.9 40.5h1.2M10.9 44.5h1.2M14.9 44.5h1.2M18.9 44.5h1.2M28.9 44.5h1.2M40.9 44.5h1.2M10.9 51.5h1.2M13.9 51.5h1.2M39.9 51.5h1.2M12.9 37.5h1.2M17.9 37.5h1.2M25.9 37.5h2.2M12.9 41.5h2.2M26.9 41.5h1.2M32.9 41.5h1.2M12.9 42.5h2.2M16.9 42.5h1.2M13.9 23.5h1.2M13.9 47.5h2.2M19.9 47.5h1.2M25.9 47.5h2.2M32.9 47.5h1.2M35.9 47.5h1.2M14.9 26.5h1.2M16.9 26.5h2.2M14.9 36.5h1.2M17.9 36.5h1.2M21.9 36.5h1.2M27.9 36.5h1.2M15.9 32.5h1.2M17.9 32.5h1.2M19.9 32.5h1.2M24.9 32.5h1.2M26.9 32.5h1.2M17.9 49.5h1.2M22.9 49.5h1.2M33.9 49.5h1.2M37.9 49.5h1.2M17.9 53.5h2.2M22.9 53.5h1.2M38.9 53.5h1.2M40.9 53.5h2.2M44.9 53.5h1.2M46.9 53.5h2.2M17.9 58.5h1.2M29.9 58.5h1.2M34.9 58.5h1.2M37.9 58.5h1.2M40.9 58.5h1.2M42.9 58.5h3.2M46.9 58.5h1.2M48.9 58.5h1.2M52.9 58.5h2.2M17.9 61.5h1.2M42.9 61.5h1.2M46.9 61.5h2.2M51.9 61.5h1.2M55.9 61.5h1.2M17.9 63.5h1.2M23.9 63.5h1.2M32.9 63.5h1.2M36.9 63.5h1.2M52.9 63.5h1.2M54.9 63.5h2.2M57.9 63.5h1.2M60.9 63.5h1.2M18.9 50.5h1.2M34.9 50.5h3.2M45.9 50.5h1.2M18.9 52.5h1.2M24.9 52.5h1.2M35.9 52.5h2.2M40.9 52.5h2.2M44.9 52.5h1.2M49.9 52.5h1.2M18.9 56.5h1.2M23.9 56.5h1.2M25.9 56.5h1.2M29.9 56.5h1.2M32.9 56.5h1.2M34.9 56.5h2.2M51.9 56.5h1.2M18.9 57.5h1.2M21.9 57.5h2.2M27.9 57.5h1.2M37.9 57.5h1.2M39.9 57.5h1.2M41.9 57.5h1.2M43.9 57.5h1.2M53.9 57.5h1.2M19.9 45.5h4.2M26.9 45.5h1.2M33.9 45.5h1.2M37.9 45.5h3.2M19.9 64.5h1.2M25.9 64.5h1.2M32.9 64.5h1.2M37.9 64.5h1.2M42.9 64.5h1.2M49.9 64.5h1.2M51.9 64.5h1.2M58.9 64.5h3.2M19.9 68.5h1.2M35.9 68.5h1.2M39.9 68.5h1.2M41.9 68.5h1.2M61.9 68.5h1.2M19.9 69.5h2.2M27.9 69.5h1.2M32.9 69.5h1.2M36.9 69.5h1.2M42.9 69.5h1.2M46.9 69.5h1.2M58.9 69.5h1.2M66.9 69.5h1.2M20.9 70.5h1.2M39.9 70.5h1.2M55.9 70.5h1.2M62.9 70.5h1.2M66.9 70.5h1.2M68.9 70.5h1.2M21.9 67.5h1.2M30.9 67.5h1.2M49.9 67.5h2.2M54.9 67.5h1.2M63.9 67.5h2.2M22.9 78.5h1.2M59.9 78.5h1.2M75.9 78.5h1.2M23.9 55.5h2.2M41.9 55.5h2.2M52.9 55.5h1.2M23.9 60.5h1.2M34.9 60.5h1.2M38.9 60.5h1.2M45.9 60.5h1.2M52.9 60.5h1.2M56.9 60.5h1.2M24.9 62.5h1.2M28.9 62.5h1.2M53.9 62.5h1.2M56.9 62.5h1.2M60.9 62.5h1.2M25.9 76.5h1.2M38.9 76.5h1.2M60.9 76.5h1.2M62.9 76.5h1.2M68.9 76.5h1.2M73.9 76.5h1.2M26.9 46.5h2.2M32.9 46.5h2.2M35.9 46.5h2.2M40.9 46.5h1.2M26.9 79.5h1.2M42.9 79.5h1.2M46.9 79.5h1.2M66.9 79.5h1.2M78.9 79.5h1.2M27.9 65.5h1.2M30.9 65.5h1.2M36.9 65.5h1.2M41.9 65.5h1.2M51.9 65.5h1.2M54.9 65.5h1.2M57.9 65.5h2.2M62.9 65.5h2.2M27.9 82.5h1.2M60.9 82.5h1.2M67.9 82.5h1.2M71.9 82.5h1.2M27.9 83.5h1.2M67.9 83.5h1.2M75.9 83.5h1.2M77.9 83.5h1.2M28.9 66.5h1.2M43.9 66.5h1.2M49.9 66.5h2.2M55.9 66.5h1.2M60.9 66.5h2.2M28.9 73.5h2.2M47.9 73.5h1.2M57.9 73.5h1.2M65.9 73.5h1.2M70.9 73.5h1.2M29.9 43.5h1.2M35.9 43.5h1.2M31.9 71.5h1.2M34.9 71.5h2.2M39.9 71.5h1.2M54.9 71.5h1.2M68.9 71.5h1.2M34.9 48.5h1.2M40.9 48.5h2.2M36.9 54.5h1.2M43.9 54.5h1.2M47.9 54.5h1.2M36.9 59.5h1.2M38.9 59.5h1.2M40.9 59.5h1.2M50.9 59.5h1.2M52.9 59.5h2.2M44.9 72.5h1.2M49.9 72.5h1.2M54.9 72.5h1.2M59.9 72.5h1.2M64.9 72.5h1.2M66.9 72.5h1.2M69.9 72.5h1.2M48.9 75.5h1.2M59.9 75.5h1.2M62.9 75.5h1.2M68.9 75.5h1.2M49.9 87.5h1.2M84.9 87.5h1.2M49.9 103.5h1.2M51.9 74.5h1.2M51.9 92.5h1.2M54.9 77.5h1.2M76.9 77.5h1.2M60.9 86.5h1.2M76.9 86.5h1.2M61.9 84.5h1.2M79.9 84.5h1.2M83.9 84.5h1.2M61.9 88.5h1.2M87.9 88.5h1.2M64.9 96.5h1.2M65.9 89.5h1.2M88.9 89.5h1.2M70.9 80.5h2.2M74.9 80.5h1.2M78.9 80.5h1.2M74.9 99.5h1.2M75.9 81.5h2.2M80.9 81.5h1.2M82.9 91.5h1.2M89.9 90.5h1.2M92.9 93.5h1.2M92.9 94.5h1.2M94.9 97.5h1.2M99.9 101.5h1.2M103.9 108.5h1.2"/><path stroke="#327bbc" d="M-0.1 3.5h1.2M0.9 6.5h2.2M0.9 7.5h1.2M2.9 7.5h1.2M1.9 8.5h1.2M2.9 13.5h2.2M6.9 13.5h1.2M3.9 9.5h1.2M3.9 11.5h2.2M3.9 18.5h1.2M8.9 18.5h1.2M3.9 19.5h1.2M11.9 19.5h1.2M4.9 15.5h2.2M4.9 16.5h1.2M7.9 16.5h1.2M9.9 16.5h1.2M4.9 20.5h1.2M7.9 20.5h1.2M4.9 22.5h1.2M7.9 22.5h1.2M5.9 24.5h1.2M6.9 14.5h1.2M6.9 29.5h1.2M14.9 29.5h1.2M17.9 29.5h1.2M19.9 29.5h1.2M7.9 23.5h1.2M7.9 26.5h1.2M12.9 26.5h2.2M15.9 26.5h1.2M8.9 34.5h1.2M18.9 34.5h1.2M23.9 34.5h4.2M9.9 39.5h1.2M14.9 39.5h1.2M16.9 39.5h1.2M19.9 39.5h1.2M32.9 39.5h1.2M10.9 32.5h1.2M11.9 30.5h2.2M16.9 30.5h2.2M11.9 36.5h1.2M25.9 36.5h2.2M28.9 36.5h1.2M12.9 21.5h2.2M12.9 27.5h2.2M18.9 27.5h1.2M13.9 40.5h1.2M16.9 40.5h1.2M19.9 40.5h1.2M28.9 40.5h1.2M31.9 40.5h2.2M14.9 43.5h1.2M21.9 43.5h1.2M26.9 43.5h1.2M33.9 43.5h1.2M36.9 43.5h1.2M14.9 48.5h1.2M37.9 48.5h1.2M17.9 54.5h1.2M39.9 54.5h1.2M41.9 54.5h1.2M48.9 54.5h1.2M18.9 28.5h1.2M18.9 31.5h1.2M22.9 31.5h1.2M18.9 33.5h1.2M20.9 33.5h1.2M24.9 33.5h1.2M18.9 64.5h1.2M57.9 64.5h1.2M63.9 64.5h1.2M19.9 37.5h1.2M28.9 37.5h1.2M21.9 41.5h1.2M24.9 41.5h1.2M27.9 41.5h1.2M21.9 49.5h1.2M29.9 49.5h1.2M38.9 49.5h1.2M41.9 49.5h3.2M46.9 49.5h1.2M21.9 59.5h1.2M37.9 59.5h1.2M39.9 59.5h1.2M45.9 59.5h1.2M47.9 59.5h1.2M49.9 59.5h1.2M55.9 59.5h1.2M22.9 35.5h2.2M25.9 35.5h1.2M23.9 50.5h1.2M24.9 38.5h1.2M31.9 38.5h1.2M34.9 38.5h1.2M26.9 58.5h1.2M45.9 58.5h1.2M51.9 58.5h1.2M54.9 58.5h1.2M27.9 75.5h1.2M72.9 75.5h1.2M74.9 75.5h1.2M28.9 42.5h1.2M31.9 42.5h2.2M35.9 42.5h1.2M29.9 44.5h1.2M32.9 44.5h1.2M30.9 46.5h1.2M39.9 46.5h1.2M41.9 46.5h1.2M31.9 45.5h1.2M32.9 51.5h1.2M38.9 51.5h1.2M40.9 51.5h1.2M43.9 51.5h1.2M47.9 51.5h2.2M37.9 47.5h1.2M40.9 47.5h1.2M37.9 52.5h1.2M37.9 53.5h1.2M39.9 53.5h1.2M43.9 53.5h1.2M51.9 53.5h1.2M37.9 56.5h1.2M45.9 56.5h1.2M53.9 56.5h1.2M38.9 66.5h1.2M62.9 66.5h1.2M43.9 63.5h1.2M53.9 63.5h1.2M59.9 63.5h1.2M45.9 61.5h1.2M59.9 61.5h1.2M47.9 55.5h1.2M49.9 57.5h1.2M52.9 57.5h1.2M52.9 67.5h1.2M62.9 67.5h1.2M54.9 68.5h1.2M64.9 68.5h1.2M57.9 60.5h1.2M57.9 62.5h3.2M60.9 65.5h2.2M60.9 69.5h1.2M60.9 70.5h1.2M67.9 70.5h1.2M64.9 71.5h1.2M71.9 73.5h1.2M72.9 74.5h2.2M74.9 78.5h1.2M79.9 80.5h1.2M79.9 83.5h1.2M80.9 86.5h1.2M93.9 94.5h1.2M106.9 108.5h1.2"/><path stroke="#249cc9" d="M0.9 5.5h2.2M1.9 9.5h1.2M5.9 11.5h1.2M6.9 15.5h1.2M8.9 15.5h1.2M6.9 18.5h1.2M12.9 18.5h1.2M8.9 16.5h1.2M8.9 17.5h1.2M8.9 19.5h2.2M12.9 19.5h1.2M8.9 22.5h1.2M12.9 22.5h1.2M9.9 14.5h1.2M10.9 24.5h1.2M12.9 24.5h1.2M11.9 21.5h1.2M11.9 26.5h1.2M12.9 32.5h1.2M12.9 40.5h1.2M17.9 40.5h1.2M33.9 40.5h1.2M14.9 35.5h2.2M14.9 41.5h1.2M19.9 41.5h1.2M22.9 41.5h1.2M29.9 41.5h1.2M15.9 23.5h1.2M16.9 38.5h1.2M21.9 38.5h1.2M27.9 38.5h1.2M30.9 38.5h1.2M17.9 25.5h1.2M19.9 30.5h2.2M22.9 30.5h1.2M19.9 36.5h1.2M30.9 36.5h1.2M21.9 28.5h1.2M21.9 33.5h1.2M26.9 33.5h1.2M24.9 37.5h1.2M29.9 37.5h1.2M27.9 39.5h1.2M27.9 54.5h1.2M29.9 42.5h1.2M29.9 46.5h1.2M42.9 46.5h1.2M30.9 85.5h1.2M31.9 43.5h1.2M37.9 43.5h1.2M34.9 45.5h1.2M34.9 47.5h1.2M36.9 47.5h1.2M41.9 47.5h1.2M35.9 48.5h1.2M39.9 48.5h1.2M36.9 44.5h1.2M38.9 52.5h1.2M47.9 52.5h1.2M38.9 58.5h1.2M56.9 58.5h1.2M40.9 49.5h1.2M44.9 49.5h1.2M40.9 50.5h1.2M44.9 50.5h1.2M47.9 50.5h1.2M45.9 51.5h1.2M46.9 56.5h1.2M50.9 56.5h1.2M48.9 53.5h2.2M48.9 57.5h1.2M50.9 57.5h1.2M48.9 66.5h1.2M64.9 66.5h1.2M51.9 55.5h1.2M54.9 60.5h1.2M55.9 62.5h1.2M55.9 69.5h1.2M59.9 69.5h1.2M65.9 69.5h1.2M67.9 69.5h2.2M64.9 65.5h1.2M67.9 75.5h1.2M69.9 77.5h1.2M70.9 72.5h2.2M72.9 73.5h1.2"/><path stroke="#26a6c9" d="M0.9 4.5h2.2M1.9 7.5h1.2M2.9 6.5h1.2M2.9 10.5h1.2M4.9 10.5h1.2M2.9 14.5h1.2M4.9 14.5h1.2M3.9 8.5h1.2M4.9 13.5h1.2M4.9 21.5h1.2M14.9 21.5h2.2M5.9 12.5h1.2M7.9 12.5h1.2M7.9 15.5h1.2M9.9 26.5h1.2M18.9 26.5h1.2M10.9 17.5h3.2M12.9 23.5h1.2M14.9 23.5h1.2M14.9 22.5h1.2M14.9 24.5h1.2M15.9 27.5h1.2M19.9 27.5h1.2M16.9 28.5h1.2M19.9 28.5h1.2M18.9 29.5h1.2M22.9 29.5h1.2M20.9 31.5h1.2M23.9 31.5h1.2M25.9 31.5h1.2M21.9 30.5h1.2M23.9 30.5h1.2M22.9 32.5h1.2M22.9 33.5h1.2M26.9 35.5h1.2M29.9 36.5h1.2M30.9 40.5h1.2M30.9 41.5h2.2M34.9 42.5h1.2M34.9 43.5h1.2M38.9 50.5h1.2M46.9 50.5h1.2M43.9 47.5h2.2M44.9 54.5h1.2M51.9 54.5h1.2M45.9 52.5h1.2M46.9 51.5h1.2M48.9 55.5h1.2M52.9 56.5h1.2M57.9 59.5h1.2M60.9 61.5h1.2M61.9 64.5h1.2M66.9 68.5h1.2M70.9 71.5h1.2M77.9 78.5h1.2"/><path stroke="#4ab0b7" d="M0.9 2.5h1.2M0.9 3.5h1.2M3.9 12.5h1.2M6.9 26.5h1.2M19.9 26.5h1.2M7.9 13.5h1.2M8.9 14.5h1.2M8.9 30.5h1.2M9.9 17.5h1.2M14.9 25.5h1.2M16.9 23.5h1.2M20.9 28.5h1.2M20.9 35.5h1.2M24.9 35.5h1.2M27.9 35.5h1.2M23.9 32.5h1.2M27.9 37.5h1.2M30.9 37.5h1.2M33.9 37.5h1.2M29.9 38.5h1.2M33.9 39.5h1.2M34.9 46.5h1.2M43.9 46.5h1.2M36.9 42.5h1.2M37.9 41.5h1.2M38.9 43.5h1.2M40.9 43.5h1.2M42.9 47.5h1.2M45.9 49.5h1.2M49.9 54.5h1.2M51.9 57.5h1.2M55.9 58.5h1.2M56.9 61.5h1.2M58.9 60.5h1.2M61.9 63.5h1.2M65.9 67.5h2.2M69.9 70.5h1.2"/><path stroke="#5db5ae" d="M-0.1 1.5h1.2M2.9 5.5h1.2M3.9 7.5h1.2M4.9 8.5h1.2M6.9 11.5h1.2M6.9 12.5h1.2M12.9 20.5h1.2M20.9 27.5h1.2M21.9 29.5h1.2M21.9 32.5h1.2M25.9 32.5h1.2M25.9 39.5h1.2M34.9 39.5h1.2M29.9 35.5h1.2M31.9 36.5h1.2M38.9 42.5h1.2M41.9 45.5h1.2M45.9 48.5h1.2M49.9 51.5h1.2M49.9 55.5h1.2M50.9 53.5h1.2M50.9 54.5h1.2M54.9 57.5h1.2M55.9 56.5h1.2M58.9 59.5h1.2M58.9 61.5h1.2M59.9 60.5h1.2M62.9 63.5h1.2M65.9 66.5h1.2M75.9 76.5h1.2"/><path stroke="#6bb9a7" d="M4.9 9.5h2.2M16.9 24.5h3.2M17.9 22.5h1.2M20.9 29.5h1.2M22.9 28.5h1.2M27.9 34.5h1.2M32.9 36.5h1.2M39.9 44.5h1.2M41.9 44.5h1.2M43.9 48.5h2.2M45.9 47.5h1.2M53.9 55.5h1.2M54.9 56.5h1.2"/><path stroke="#72bda5" d="M5.9 13.5h1.2M8.9 13.5h1.2M11.9 18.5h1.2M13.9 19.5h1.2M15.9 22.5h1.2M23.9 29.5h1.2M27.9 32.5h1.2M27.9 33.5h1.2M28.9 34.5h1.2M30.9 34.5h1.2M30.9 35.5h1.2M31.9 37.5h2.2M33.9 42.5h1.2M36.9 41.5h1.2M37.9 44.5h1.2M39.9 43.5h1.2M46.9 48.5h1.2M50.9 51.5h1.2M55.9 57.5h1.2"/><path stroke="#79c1a3" d="M3.9 6.5h1.2M4.9 7.5h1.2M5.9 10.5h1.2M7.9 11.5h1.2M9.9 13.5h1.2M10.9 15.5h1.2M10.9 16.5h1.2M13.9 18.5h1.2M14.9 20.5h1.2M16.9 22.5h1.2M18.9 25.5h1.2M18.9 30.5h1.2M25.9 30.5h1.2M20.9 26.5h1.2M28.9 32.5h1.2M28.9 35.5h1.2M32.9 35.5h1.2M35.9 39.5h1.2M35.9 41.5h1.2M36.9 40.5h1.2M37.9 42.5h1.2M39.9 42.5h1.2M40.9 45.5h1.2M44.9 46.5h1.2M48.9 50.5h1.2"/><path stroke="#80c4a1" d="M6.9 10.5h1.2M8.9 12.5h1.2M11.9 15.5h1.2M13.9 17.5h1.2M14.9 19.5h1.2M17.9 23.5h1.2M19.9 25.5h1.2M21.9 27.5h2.2M24.9 29.5h1.2M24.9 30.5h1.2M26.9 31.5h1.2M28.9 33.5h1.2M29.9 34.5h1.2M34.9 37.5h1.2M35.9 40.5h1.2M36.9 39.5h1.2M38.9 41.5h1.2M42.9 44.5h1.2M45.9 46.5h1.2M52.9 53.5h1.2M52.9 54.5h1.2M57.9 58.5h1.2M61.9 62.5h1.2"/><path stroke="#89c79d" d="M11.9 16.5h1.2M29.9 33.5h1.2M37.9 40.5h1.2M40.9 42.5h1.2M41.9 43.5h1.2M42.9 45.5h1.2M47.9 49.5h1.2M50.9 52.5h1.2M53.9 54.5h1.2M56.9 57.5h1.2"/><path stroke="#92ca98" d="M6.9 9.5h1.2M33.9 36.5h1.2M35.9 38.5h1.2M43.9 45.5h1.2M46.9 47.5h1.2M51.9 52.5h1.2"/><path stroke="#9bcc93" d="M5.9 8.5h1.2M10.9 14.5h2.2M16.9 21.5h1.2M18.9 22.5h1.2M18.9 23.5h1.2M19.9 24.5h1.2M20.9 25.5h2.2M23.9 27.5h1.2M23.9 28.5h2.2M25.9 29.5h1.2M27.9 30.5h1.2M27.9 31.5h1.2M31.9 34.5h1.2M36.9 38.5h1.2M37.9 39.5h1.2M38.9 40.5h1.2M43.9 44.5h1.2M44.9 45.5h1.2M49.9 50.5h1.2M54.9 55.5h1.2"/><path stroke="#a4cf8e" d="M3.9 5.5h1.2M7.9 10.5h1.2M9.9 12.5h1.2M12.9 16.5h1.2M15.9 19.5h1.2M15.9 20.5h1.2M20.9 24.5h1.2M21.9 26.5h1.2M26.9 30.5h1.2M31.9 35.5h1.2"/><path stroke="#afcd89" d="M2.9 4.5h1.2M8.9 11.5h1.2M10.9 13.5h1.2M14.9 18.5h1.2M16.9 20.5h2.2M17.9 21.5h1.2M28.9 31.5h1.2M29.9 32.5h1.2M30.9 33.5h1.2M39.9 41.5h2.2M41.9 42.5h1.2M47.9 48.5h1.2M48.9 49.5h1.2"/><path stroke="#bbc985" d="M1.9 3.5h1.2M12.9 15.5h1.2M13.9 16.5h1.2M19.9 23.5h1.2M22.9 26.5h1.2M26.9 29.5h1.2M31.9 33.5h1.2M34.9 36.5h1.2M35.9 37.5h1.2"/><path stroke="#c6c581" d="M4.9 6.5h1.2M23.9 26.5h1.2M30.9 32.5h1.2M32.9 34.5h1.2M33.9 35.5h1.2M38.9 39.5h1.2M39.9 40.5h1.2M42.9 43.5h1.2"/><path stroke="#d3ba7a" d="M5.9 7.5h1.2M6.9 8.5h1.2M16.9 19.5h1.2M18.9 21.5h1.2M20.9 23.5h1.2M22.9 25.5h1.2M24.9 27.5h1.2M25.9 28.5h1.2M35.9 36.5h1.2M37.9 38.5h1.2"/><path stroke="#e0ae74" d="M14.9 17.5h1.2M15.9 18.5h1.2M19.9 22.5h1.2M27.9 29.5h1.2"/><path stroke="#eda36e" d="M11.9 13.5h1.2M21.9 24.5h1.2M26.9 28.5h1.2M28.9 30.5h1.2"/><path stroke="#ee9768" d="M7.9 9.5h1.2M23.9 25.5h1.2M25.9 27.5h1.2M29.9 31.5h1.2M32.9 33.5h1.2M34.9 35.5h1.2M36.9 37.5h1.2"/><path stroke="#ec8b62" d="M8.9 10.5h1.2M9.9 11.5h1.2M10.9 12.5h1.2M12.9 14.5h1.2M13.9 15.5h1.2M15.9 17.5h1.2M16.9 18.5h1.2M24.9 26.5h1.2M31.9 32.5h1.2M33.9 34.5h1.2"/><path stroke="#ea7f5c" d="M14.9 16.5h1.2M18.9 20.5h1.2M29.9 30.5h1.2"/><path stroke="#e87356" d="M17.9 19.5h1.2M19.9 21.5h1.2M20.9 22.5h1.2M21.9 23.5h1.2M22.9 24.5h1.2M30.9 31.5h1.2"/><path stroke="#e66750" d="M27.9 28.5h1.2"/><path stroke="#e45c4a" d="M25.9 26.5h1.2M26.9 27.5h1.2M28.9 29.5h1.2"/><path stroke="#e25145" d="M23.9 24.5h1.2M24.9 25.5h1.2"/><path stroke="#e0463f" d="M22.9 23.5h1.2"/><path stroke="#de3b3a" d="M-0.1 0.5h1.2M4.9 5.5h1.2M5.9 6.5h1.2M8.9 9.5h1.2M9.9 10.5h1.2M11.9 12.5h1.2M13.9 14.5h1.2M15.9 16.5h1.2M21.9 22.5h1.2"/><path stroke="#dc3034" d="M0.9 1.5h1.2M1.9 2.5h1.2M2.9 3.5h1.2M3.9 4.5h1.2M6.9 7.5h1.2M7.9 8.5h1.2M10.9 11.5h1.2M12.9 13.5h1.2M14.9 15.5h1.2M16.9 17.5h1.2M17.9 18.5h1.2M18.9 19.5h1.2M19.9 20.5h1.2M20.9 21.5h1.2"/></g></g><path d="M36.5 536.5L246.5 326.5" stroke="#151515" stroke-width="1.0" fill="none"/><path d="M36.50 536.5v-2.6M36.50 326.5v2.6M36.5 536.50h2.6M246.5 536.50h-2.6M71.50 536.5v-2.6M71.50 326.5v2.6M36.5 501.50h2.6M246.5 501.50h-2.6M106.50 536.5v-2.6M106.50 326.5v2.6M36.5 466.50h2.6M246.5 466.50h-2.6M141.50 536.5v-2.6M141.50 326.5v2.6M36.5 431.50h2.6M246.5 431.50h-2.6M176.50 536.5v-2.6M176.50 326.5v2.6M36.5 396.50h2.6M246.5 396.50h-2.6M211.50 536.5v-2.6M211.50 326.5v2.6M36.5 361.50h2.6M246.5 361.50h-2.6M246.50 536.5v-2.6M246.50 326.5v2.6M36.5 326.50h2.6M246.5 326.50h-2.6" stroke="#444" stroke-width="0.7" fill="none"/><rect x="36.5" y="326.5" width="210.0" height="210.0" fill="none" stroke="#666" stroke-width="1.1"/><g font-family="Liberation Sans, sans-serif" font-size="7.3" fill="#1a1a1a"><text x="36.50" y="544.90" text-anchor="middle">0</text><text x="33.30" y="538.40" text-anchor="end">0</text><text x="71.50" y="544.90" text-anchor="middle">50</text><text x="33.30" y="503.40" text-anchor="end">50</text><text x="106.50" y="544.90" text-anchor="middle">100</text><text x="33.30" y="468.40" text-anchor="end">100</text><text x="141.50" y="544.90" text-anchor="middle">150</text><text x="33.30" y="433.40" text-anchor="end">150</text><text x="176.50" y="544.90" text-anchor="middle">200</text><text x="33.30" y="398.40" text-anchor="end">200</text><text x="211.50" y="544.90" text-anchor="middle">250</text><text x="33.30" y="363.40" text-anchor="end">250</text><text x="246.50" y="544.90" text-anchor="middle">300</text><text x="33.30" y="328.40" text-anchor="end">300</text></g><rect x="261" y="326.5" width="10.5" height="210.0" fill="url(#cb)" stroke="#333" stroke-width="0.8"/><path d="M269.00 536.5h2.5" stroke="#333" stroke-width="0.7"/><text x="274.10" y="538.90" font-family="Liberation Serif, serif" font-size="8.2" fill="#1a1a1a">10<tspan font-size="5.8" dy="-3.3" dx="0.7">0</tspan></text><path d="M269.00 442.4h2.5" stroke="#333" stroke-width="0.7"/><text x="274.10" y="444.80" font-family="Liberation Serif, serif" font-size="8.2" fill="#1a1a1a">10<tspan font-size="5.8" dy="-3.3" dx="0.7">1</tspan></text><path d="M269.00 348h2.5" stroke="#333" stroke-width="0.7"/><text x="274.10" y="350.40" font-family="Liberation Serif, serif" font-size="8.2" fill="#1a1a1a">10<tspan font-size="5.8" dy="-3.3" dx="0.7">2</tspan></text><g transform="translate(133,550.8) scale(1.0)"><path d="M6.5 9.4C5 10.2 2 10.3 0.8 8.8C-0.3 7.4 0.3 4.6 2.2 2.8C3.8 1.2 6.5 0.2 9.5 0.3C12 0.4 14 1.2 13.8 2.6C13.6 4 12 4.9 10.2 5.6C9.6 5.8 9.2 5.9 9 6M9 6C10.3 7.2 11.5 8.4 12.8 9.3M3.6 7.6C3.6 6.2 5.4 5.2 7 5.2C8 5.2 8.6 5.6 9 6" fill="none" stroke="#111" stroke-width="1.15" stroke-linecap="round"/><path d="M11.3 1.0C11.1 2.3 10.9 3.5 10.6 4.8" fill="none" stroke="#555" stroke-width="0.6"/><text x="16.2" y="3.2" font-family="Liberation Serif, serif" font-size="8.2">2</text><text x="14.0" y="12.4" font-family="Liberation Serif, serif" font-style="italic" font-size="9.6">b</text></g><g transform="translate(6.8,439) rotate(-90) scale(1.0)"><path d="M6.5 9.4C5 10.2 2 10.3 0.8 8.8C-0.3 7.4 0.3 4.6 2.2 2.8C3.8 1.2 6.5 0.2 9.5 0.3C12 0.4 14 1.2 13.8 2.6C13.6 4 12 4.9 10.2 5.6C9.6 5.8 9.2 5.9 9 6M9 6C10.3 7.2 11.5 8.4 12.8 9.3M3.6 7.6C3.6 6.2 5.4 5.2 7 5.2C8 5.2 8.6 5.6 9 6" fill="none" stroke="#111" stroke-width="1.15" stroke-linecap="round"/><path d="M11.3 1.0C11.1 2.3 10.9 3.5 10.6 4.8" fill="none" stroke="#555" stroke-width="0.6"/><text x="16.2" y="3.2" font-family="Liberation Serif, serif" font-size="8.2">2</text><text x="14.0" y="12.4" font-family="Liberation Serif, serif" font-style="italic" font-size="9.6">d</text></g><text x="160.5" y="526.6" font-family="Liberation Serif, serif" font-size="20.6" fill="#111">N<tspan font-size="16.2" dy="3.2">c</tspan><tspan dy="-3.2" dx="0.6">=2.5M</tspan></text></g><g><path d="M386.50 328.5V538.5M351.5 503.50H561.5M421.50 328.5V538.5M351.5 468.50H561.5M456.50 328.5V538.5M351.5 433.50H561.5M491.50 328.5V538.5M351.5 398.50H561.5M526.50 328.5V538.5M351.5 363.50H561.5" stroke="#9a9a9a" stroke-width="0.7" stroke-dasharray="0.9 1.3" fill="none"/><g filter="url(#bl)"><g transform="translate(351.5,538.5) scale(1.4,-1.4)" stroke-width="1.2" fill="none"><path stroke="#584ca4" d="M-0.1 9.5h2.2M0.9 10.5h1.2M0.9 12.5h1.2M5.9 12.5h1.2M0.9 13.5h1.2M4.9 13.5h1.2M0.9 14.5h1.2M2.9 14.5h1.2M0.9 15.5h1.2M2.9 15.5h1.2M2.9 17.5h1.2M4.9 17.5h2.2M8.9 17.5h2.2M2.9 18.5h1.2M3.9 8.5h1.2M3.9 16.5h1.2M7.9 16.5h1.2M3.9 20.5h1.2M5.9 20.5h1.2M3.9 22.5h2.2M6.9 22.5h3.2M11.9 22.5h1.2M13.9 22.5h1.2M3.9 23.5h2.2M6.9 23.5h1.2M11.9 23.5h1.2M3.9 25.5h2.2M11.9 25.5h1.2M15.9 25.5h1.2M4.9 11.5h1.2M4.9 19.5h2.2M4.9 29.5h1.2M8.9 29.5h1.2M10.9 29.5h5.2M4.9 96.5h1.2M36.9 96.5h1.2M44.9 96.5h1.2M48.9 96.5h1.2M56.9 96.5h1.2M66.9 96.5h1.2M79.9 96.5h1.2M88.9 96.5h3.2M93.9 96.5h1.2M95.9 96.5h1.2M5.9 26.5h1.2M8.9 26.5h1.2M13.9 26.5h1.2M17.9 26.5h1.2M5.9 27.5h1.2M7.9 27.5h1.2M9.9 27.5h1.2M11.9 27.5h5.2M17.9 27.5h1.2M5.9 28.5h1.2M8.9 28.5h1.2M10.9 28.5h3.2M6.9 24.5h1.2M11.9 24.5h1.2M15.9 24.5h1.2M6.9 33.5h1.2M9.9 33.5h1.2M13.9 33.5h1.2M15.9 33.5h2.2M23.9 33.5h1.2M7.9 21.5h2.2M12.9 21.5h1.2M7.9 30.5h1.2M9.9 30.5h1.2M13.9 30.5h1.2M7.9 32.5h2.2M11.9 32.5h1.2M18.9 32.5h1.2M22.9 32.5h1.2M24.9 32.5h1.2M7.9 35.5h1.2M12.9 35.5h1.2M16.9 35.5h1.2M22.9 35.5h1.2M7.9 38.5h1.2M9.9 38.5h1.2M13.9 38.5h1.2M17.9 38.5h1.2M20.9 38.5h1.2M25.9 38.5h1.2M9.9 34.5h1.2M12.9 34.5h2.2M16.9 34.5h3.2M21.9 34.5h1.2M24.9 34.5h1.2M9.9 36.5h1.2M11.9 36.5h1.2M15.9 36.5h1.2M18.9 36.5h1.2M20.9 36.5h5.2M26.9 36.5h3.2M10.9 44.5h1.2M22.9 44.5h1.2M24.9 44.5h2.2M31.9 44.5h2.2M11.9 37.5h1.2M16.9 37.5h1.2M18.9 37.5h1.2M21.9 37.5h1.2M25.9 37.5h2.2M11.9 45.5h1.2M15.9 45.5h1.2M17.9 45.5h2.2M23.9 45.5h1.2M26.9 45.5h2.2M29.9 45.5h2.2M32.9 45.5h2.2M36.9 45.5h2.2M11.9 69.5h1.2M31.9 69.5h1.2M37.9 69.5h1.2M43.9 69.5h1.2M47.9 69.5h1.2M52.9 69.5h1.2M55.9 69.5h1.2M60.9 69.5h1.2M62.9 69.5h1.2M65.9 69.5h1.2M12.9 39.5h1.2M16.9 39.5h1.2M24.9 39.5h1.2M26.9 39.5h2.2M29.9 39.5h1.2M12.9 41.5h1.2M21.9 41.5h1.2M24.9 41.5h1.2M27.9 41.5h1.2M31.9 41.5h1.2M12.9 43.5h1.2M16.9 43.5h1.2M18.9 43.5h1.2M21.9 43.5h1.2M24.9 43.5h2.2M28.9 43.5h1.2M12.9 57.5h1.2M21.9 57.5h1.2M23.9 57.5h1.2M26.9 57.5h1.2M30.9 57.5h1.2M34.9 57.5h3.2M38.9 57.5h3.2M43.9 57.5h1.2M49.9 57.5h2.2M52.9 57.5h2.2M13.9 31.5h1.2M18.9 31.5h1.2M20.9 31.5h1.2M13.9 40.5h1.2M16.9 40.5h1.2M22.9 40.5h1.2M24.9 40.5h2.2M29.9 40.5h1.2M13.9 42.5h2.2M22.9 42.5h2.2M27.9 42.5h1.2M29.9 42.5h1.2M13.9 47.5h1.2M19.9 47.5h2.2M26.9 47.5h1.2M28.9 47.5h4.2M33.9 47.5h1.2M37.9 47.5h1.2M13.9 65.5h1.2M24.9 65.5h1.2M26.9 65.5h1.2M32.9 65.5h1.2M37.9 65.5h3.2M47.9 65.5h1.2M52.9 65.5h1.2M55.9 65.5h1.2M57.9 65.5h1.2M59.9 65.5h1.2M61.9 65.5h1.2M15.9 131.5h1.2M114.9 131.5h1.2M116.9 131.5h1.2M118.9 131.5h1.2M123.9 131.5h1.2M126.9 131.5h1.2M16.9 46.5h3.2M23.9 46.5h1.2M27.9 46.5h1.2M31.9 46.5h1.2M35.9 46.5h1.2M16.9 64.5h1.2M22.9 64.5h1.2M33.9 64.5h1.2M37.9 64.5h1.2M47.9 64.5h1.2M49.9 64.5h2.2M52.9 64.5h2.2M55.9 64.5h1.2M58.9 64.5h1.2M61.9 64.5h1.2M17.9 50.5h1.2M26.9 50.5h1.2M35.9 50.5h1.2M37.9 50.5h5.2M44.9 50.5h1.2M17.9 94.5h1.2M51.9 94.5h1.2M57.9 94.5h2.2M70.9 94.5h1.2M79.9 94.5h1.2M86.9 94.5h1.2M18.9 48.5h1.2M30.9 48.5h1.2M33.9 48.5h1.2M37.9 48.5h1.2M39.9 48.5h1.2M18.9 59.5h1.2M20.9 59.5h2.2M32.9 59.5h3.2M36.9 59.5h2.2M40.9 59.5h3.2M45.9 59.5h3.2M49.9 59.5h2.2M19.9 53.5h1.2M23.9 53.5h1.2M27.9 53.5h1.2M30.9 53.5h1.2M38.9 53.5h1.2M41.9 53.5h2.2M45.9 53.5h1.2M19.9 55.5h1.2M23.9 55.5h2.2M27.9 55.5h1.2M29.9 55.5h2.2M33.9 55.5h2.2M37.9 55.5h1.2M39.9 55.5h6.2M19.9 56.5h1.2M23.9 56.5h1.2M26.9 56.5h1.2M28.9 56.5h1.2M36.9 56.5h1.2M39.9 56.5h1.2M44.9 56.5h4.2M19.9 117.5h1.2M79.9 117.5h1.2M91.9 117.5h1.2M103.9 117.5h1.2M110.9 117.5h1.2M20.9 49.5h1.2M22.9 49.5h3.2M28.9 49.5h1.2M30.9 49.5h1.2M34.9 49.5h1.2M39.9 49.5h1.2M41.9 49.5h2.2M20.9 51.5h1.2M22.9 51.5h1.2M24.9 51.5h1.2M26.9 51.5h2.2M31.9 51.5h1.2M35.9 51.5h1.2M42.9 51.5h2.2M20.9 60.5h1.2M23.9 60.5h1.2M33.9 60.5h1.2M35.9 60.5h2.2M41.9 60.5h1.2M43.9 60.5h1.2M45.9 60.5h1.2M49.9 60.5h3.2M54.9 60.5h1.2M56.9 60.5h1.2M22.9 58.5h1.2M26.9 58.5h3.2M35.9 58.5h3.2M40.9 58.5h1.2M42.9 58.5h2.2M48.9 58.5h1.2M50.9 58.5h3.2M22.9 70.5h1.2M35.9 70.5h1.2M49.9 70.5h1.2M57.9 70.5h2.2M63.9 70.5h1.2M66.9 70.5h1.2M68.9 70.5h1.2M23.9 54.5h1.2M29.9 54.5h1.2M33.9 54.5h1.2M35.9 54.5h1.2M38.9 54.5h3.2M42.9 54.5h1.2M45.9 54.5h1.2M23.9 113.5h1.2M72.9 113.5h1.2M76.9 113.5h1.2M84.9 113.5h1.2M86.9 113.5h1.2M101.9 113.5h1.2M109.9 113.5h1.2M23.9 139.5h1.2M90.9 139.5h1.2M109.9 139.5h1.2M117.9 139.5h1.2M124.9 139.5h1.2M131.9 139.5h2.2M137.9 139.5h1.2M24.9 73.5h1.2M31.9 73.5h1.2M37.9 73.5h2.2M41.9 73.5h2.2M51.9 73.5h2.2M54.9 73.5h1.2M57.9 73.5h1.2M61.9 73.5h1.2M64.9 73.5h4.2M69.9 73.5h2.2M24.9 114.5h1.2M53.9 114.5h1.2M74.9 114.5h1.2M80.9 114.5h1.2M94.9 114.5h1.2M113.9 114.5h1.2M25.9 52.5h2.2M31.9 52.5h3.2M36.9 52.5h1.2M38.9 52.5h1.2M41.9 52.5h1.2M25.9 63.5h1.2M29.9 63.5h1.2M32.9 63.5h1.2M34.9 63.5h1.2M45.9 63.5h1.2M47.9 63.5h1.2M49.9 63.5h1.2M51.9 63.5h2.2M55.9 63.5h1.2M57.9 63.5h2.2M26.9 77.5h1.2M33.9 77.5h1.2M38.9 77.5h1.2M41.9 77.5h1.2M43.9 77.5h1.2M52.9 77.5h1.2M57.9 77.5h1.2M61.9 77.5h1.2M69.9 77.5h1.2M72.9 77.5h1.2M76.9 77.5h1.2M26.9 88.5h1.2M33.9 88.5h1.2M37.9 88.5h1.2M45.9 88.5h1.2M50.9 88.5h1.2M61.9 88.5h1.2M64.9 88.5h1.2M66.9 88.5h1.2M73.9 88.5h1.2M81.9 88.5h1.2M84.9 88.5h1.2M86.9 88.5h1.2M26.9 125.5h1.2M69.9 125.5h1.2M80.9 125.5h1.2M94.9 125.5h1.2M100.9 125.5h1.2M113.9 125.5h3.2M118.9 125.5h2.2M121.9 125.5h1.2M27.9 82.5h1.2M31.9 82.5h1.2M40.9 82.5h1.2M46.9 82.5h1.2M59.9 82.5h1.2M63.9 82.5h1.2M68.9 82.5h1.2M72.9 82.5h1.2M75.9 82.5h1.2M27.9 89.5h1.2M32.9 89.5h1.2M38.9 89.5h1.2M45.9 89.5h1.2M52.9 89.5h2.2M55.9 89.5h1.2M60.9 89.5h1.2M63.9 89.5h1.2M68.9 89.5h1.2M70.9 89.5h1.2M74.9 89.5h1.2M82.9 89.5h1.2M87.9 89.5h1.2M27.9 141.5h1.2M41.9 141.5h1.2M58.9 141.5h1.2M117.9 141.5h1.2M131.9 141.5h4.2M29.9 61.5h2.2M32.9 61.5h1.2M35.9 61.5h1.2M37.9 61.5h1.2M45.9 61.5h1.2M48.9 61.5h3.2M29.9 67.5h3.2M38.9 67.5h1.2M40.9 67.5h2.2M45.9 67.5h1.2M47.9 67.5h1.2M50.9 67.5h1.2M57.9 67.5h2.2M60.9 67.5h1.2M64.9 67.5h1.2M29.9 78.5h1.2M52.9 78.5h1.2M58.9 78.5h1.2M60.9 78.5h1.2M62.9 78.5h1.2M72.9 78.5h1.2M75.9 78.5h1.2M29.9 105.5h1.2M41.9 105.5h1.2M44.9 105.5h1.2M54.9 105.5h1.2M67.9 105.5h1.2M73.9 105.5h1.2M75.9 105.5h1.2M88.9 105.5h1.2M90.9 105.5h1.2M95.9 105.5h1.2M98.9 105.5h2.2M101.9 105.5h2.2M30.9 62.5h1.2M32.9 62.5h1.2M35.9 62.5h1.2M37.9 62.5h2.2M48.9 62.5h1.2M52.9 62.5h2.2M56.9 62.5h2.2M30.9 71.5h1.2M33.9 71.5h1.2M39.9 71.5h1.2M44.9 71.5h1.2M47.9 71.5h5.2M53.9 71.5h3.2M57.9 71.5h1.2M59.9 71.5h2.2M65.9 71.5h1.2M30.9 72.5h1.2M32.9 72.5h1.2M35.9 72.5h1.2M44.9 72.5h1.2M46.9 72.5h1.2M49.9 72.5h1.2M53.9 72.5h1.2M58.9 72.5h1.2M61.9 72.5h1.2M63.9 72.5h3.2M67.9 72.5h1.2M31.9 75.5h1.2M37.9 75.5h1.2M43.9 75.5h1.2M47.9 75.5h1.2M56.9 75.5h1.2M61.9 75.5h1.2M63.9 75.5h1.2M70.9 75.5h1.2M72.9 75.5h1.2M31.9 86.5h1.2M33.9 86.5h2.2M46.9 86.5h1.2M50.9 86.5h1.2M62.9 86.5h1.2M66.9 86.5h1.2M71.9 86.5h1.2M79.9 86.5h1.2M81.9 86.5h3.2M31.9 103.5h1.2M40.9 103.5h1.2M57.9 103.5h1.2M63.9 103.5h3.2M70.9 103.5h1.2M73.9 103.5h1.2M77.9 103.5h1.2M85.9 103.5h1.2M89.9 103.5h1.2M91.9 103.5h1.2M99.9 103.5h1.2M101.9 103.5h1.2M32.9 76.5h1.2M41.9 76.5h1.2M50.9 76.5h1.2M53.9 76.5h1.2M57.9 76.5h1.2M59.9 76.5h1.2M61.9 76.5h1.2M64.9 76.5h1.2M67.9 76.5h1.2M69.9 76.5h1.2M71.9 76.5h1.2M74.9 76.5h1.2M34.9 83.5h1.2M47.9 83.5h1.2M51.9 83.5h1.2M55.9 83.5h3.2M62.9 83.5h3.2M70.9 83.5h1.2M73.9 83.5h1.2M75.9 83.5h1.2M78.9 83.5h1.2M80.9 83.5h2.2M35.9 124.5h1.2M59.9 124.5h1.2M91.9 124.5h1.2M116.9 124.5h1.2M36.9 68.5h1.2M39.9 68.5h4.2M49.9 68.5h1.2M55.9 68.5h2.2M59.9 68.5h2.2M62.9 68.5h1.2M36.9 84.5h1.2M40.9 84.5h1.2M47.9 84.5h3.2M51.9 84.5h2.2M57.9 84.5h3.2M65.9 84.5h1.2M67.9 84.5h2.2M74.9 84.5h1.2M81.9 84.5h1.2M36.9 119.5h1.2M49.9 119.5h1.2M53.9 119.5h1.2M58.9 119.5h1.2M62.9 119.5h2.2M75.9 119.5h1.2M96.9 119.5h1.2M108.9 119.5h1.2M110.9 119.5h1.2M114.9 119.5h1.2M37.9 66.5h2.2M41.9 66.5h1.2M43.9 66.5h1.2M45.9 66.5h1.2M48.9 66.5h1.2M52.9 66.5h2.2M56.9 66.5h4.2M37.9 85.5h1.2M49.9 85.5h1.2M51.9 85.5h1.2M58.9 85.5h1.2M64.9 85.5h1.2M66.9 85.5h3.2M70.9 85.5h2.2M79.9 85.5h1.2M81.9 85.5h1.2M37.9 130.5h1.2M52.9 130.5h1.2M90.9 130.5h1.2M96.9 130.5h1.2M100.9 130.5h1.2M119.9 130.5h1.2M127.9 130.5h1.2M38.9 79.5h1.2M41.9 79.5h1.2M45.9 79.5h1.2M52.9 79.5h2.2M56.9 79.5h1.2M58.9 79.5h1.2M61.9 79.5h2.2M64.9 79.5h1.2M73.9 79.5h3.2M38.9 95.5h1.2M44.9 95.5h1.2M52.9 95.5h1.2M64.9 95.5h1.2M68.9 95.5h1.2M71.9 95.5h1.2M73.9 95.5h2.2M83.9 95.5h1.2M90.9 95.5h1.2M94.9 95.5h1.2M38.9 97.5h1.2M48.9 97.5h1.2M59.9 97.5h1.2M71.9 97.5h1.2M80.9 97.5h1.2M88.9 97.5h2.2M91.9 97.5h2.2M40.9 93.5h1.2M50.9 93.5h1.2M76.9 93.5h1.2M83.9 93.5h1.2M40.9 108.5h1.2M43.9 108.5h1.2M69.9 108.5h2.2M79.9 108.5h2.2M82.9 108.5h1.2M88.9 108.5h1.2M97.9 108.5h1.2M99.9 108.5h1.2M106.9 108.5h1.2M42.9 81.5h1.2M44.9 81.5h1.2M47.9 81.5h1.2M50.9 81.5h1.2M54.9 81.5h1.2M56.9 81.5h2.2M63.9 81.5h1.2M65.9 81.5h1.2M75.9 81.5h1.2M77.9 81.5h1.2M80.9 81.5h1.2M42.9 90.5h1.2M61.9 90.5h1.2M82.9 90.5h1.2M42.9 98.5h1.2M48.9 98.5h1.2M50.9 98.5h1.2M64.9 98.5h1.2M67.9 98.5h1.2M73.9 98.5h1.2M85.9 98.5h1.2M94.9 98.5h1.2M96.9 98.5h1.2M43.9 92.5h1.2M46.9 92.5h1.2M64.9 92.5h1.2M75.9 92.5h1.2M81.9 92.5h1.2M84.9 92.5h1.2M43.9 116.5h1.2M71.9 116.5h1.2M75.9 116.5h1.2M82.9 116.5h1.2M109.9 116.5h1.2M113.9 116.5h1.2M43.9 134.5h1.2M72.9 134.5h1.2M88.9 134.5h1.2M95.9 134.5h1.2M118.9 134.5h1.2M123.9 134.5h1.2M131.9 134.5h2.2M44.9 87.5h1.2M48.9 87.5h2.2M51.9 87.5h2.2M54.9 87.5h1.2M62.9 87.5h1.2M68.9 87.5h2.2M78.9 87.5h1.2M81.9 87.5h1.2M44.9 101.5h1.2M47.9 101.5h1.2M55.9 101.5h1.2M59.9 101.5h1.2M71.9 101.5h1.2M75.9 101.5h1.2M82.9 101.5h1.2M87.9 101.5h2.2M98.9 101.5h1.2M45.9 148.5h1.2M65.9 148.5h1.2M111.9 148.5h1.2M122.9 148.5h1.2M141.9 148.5h3.2M146.9 148.5h2.2M46.9 74.5h1.2M61.9 74.5h1.2M69.9 74.5h1.2M46.9 102.5h1.2M77.9 102.5h1.2M79.9 102.5h1.2M81.9 102.5h1.2M90.9 102.5h1.2M94.9 102.5h1.2M99.9 102.5h1.2M46.9 127.5h1.2M65.9 127.5h1.2M103.9 127.5h1.2M112.9 127.5h1.2M126.9 127.5h1.2M47.9 91.5h3.2M61.9 91.5h1.2M73.9 91.5h2.2M86.9 91.5h1.2M88.9 91.5h2.2M47.9 129.5h1.2M76.9 129.5h1.2M118.9 129.5h1.2M126.9 129.5h1.2M49.9 110.5h1.2M51.9 110.5h1.2M67.9 110.5h1.2M81.9 110.5h2.2M94.9 110.5h3.2M99.9 110.5h1.2M104.9 110.5h3.2M109.9 110.5h1.2M49.9 118.5h1.2M54.9 118.5h1.2M65.9 118.5h2.2M70.9 118.5h1.2M76.9 118.5h1.2M82.9 118.5h1.2M84.9 118.5h1.2M86.9 118.5h1.2M94.9 118.5h1.2M101.9 118.5h1.2M108.9 118.5h1.2M110.9 118.5h1.2M51.9 111.5h1.2M74.9 111.5h1.2M101.9 111.5h1.2M104.9 111.5h1.2M106.9 111.5h1.2M109.9 111.5h1.2M53.9 107.5h1.2M56.9 107.5h1.2M82.9 107.5h1.2M96.9 107.5h1.2M100.9 107.5h1.2M104.9 107.5h2.2M54.9 122.5h1.2M78.9 122.5h1.2M80.9 122.5h1.2M109.9 122.5h1.2M54.9 123.5h1.2M62.9 123.5h1.2M67.9 123.5h1.2M115.9 123.5h1.2M118.9 123.5h1.2M121.9 123.5h1.2M55.9 121.5h1.2M73.9 121.5h1.2M79.9 121.5h2.2M95.9 121.5h1.2M105.9 121.5h1.2M111.9 121.5h1.2M114.9 121.5h1.2M118.9 121.5h1.2M120.9 121.5h1.2M55.9 133.5h1.2M83.9 133.5h1.2M93.9 133.5h1.2M96.9 133.5h1.2M108.9 133.5h1.2M114.9 133.5h1.2M116.9 133.5h1.2M120.9 133.5h2.2M55.9 140.5h1.2M62.9 140.5h1.2M109.9 140.5h1.2M120.9 140.5h1.2M129.9 140.5h1.2M55.9 146.5h1.2M111.9 146.5h1.2M121.9 146.5h1.2M130.9 146.5h2.2M137.9 146.5h1.2M141.9 146.5h1.2M56.9 80.5h1.2M60.9 80.5h2.2M66.9 80.5h1.2M68.9 80.5h1.2M76.9 80.5h3.2M56.9 106.5h2.2M61.9 106.5h1.2M71.9 106.5h1.2M86.9 106.5h1.2M91.9 106.5h1.2M95.9 106.5h1.2M100.9 106.5h1.2M103.9 106.5h1.2M56.9 115.5h1.2M65.9 115.5h1.2M68.9 115.5h1.2M98.9 115.5h1.2M102.9 115.5h1.2M105.9 115.5h2.2M114.9 115.5h1.2M58.9 99.5h1.2M65.9 99.5h1.2M68.9 99.5h1.2M75.9 99.5h1.2M77.9 99.5h1.2M80.9 99.5h1.2M82.9 99.5h2.2M91.9 99.5h2.2M94.9 99.5h1.2M97.9 99.5h1.2M58.9 100.5h1.2M62.9 100.5h1.2M67.9 100.5h1.2M88.9 100.5h1.2M90.9 100.5h2.2M96.9 100.5h2.2M58.9 137.5h1.2M77.9 137.5h1.2M132.9 137.5h1.2M134.9 137.5h1.2M136.9 137.5h1.2M59.9 126.5h1.2M89.9 126.5h1.2M106.9 126.5h1.2M120.9 126.5h1.2M122.9 126.5h1.2M60.9 149.5h1.2M72.9 149.5h1.2M103.9 149.5h1.2M110.9 149.5h1.2M128.9 149.5h1.2M144.9 149.5h1.2M147.9 149.5h1.2M61.9 143.5h1.2M63.9 143.5h2.2M92.9 143.5h1.2M96.9 143.5h1.2M101.9 143.5h2.2M118.9 143.5h1.2M128.9 143.5h1.2M132.9 143.5h1.2M135.9 143.5h1.2M138.9 143.5h2.2M64.9 109.5h1.2M80.9 109.5h1.2M92.9 109.5h1.2M95.9 109.5h2.2M103.9 109.5h1.2M106.9 109.5h3.2M64.9 112.5h1.2M87.9 112.5h1.2M94.9 112.5h1.2M100.9 112.5h1.2M102.9 112.5h1.2M64.9 132.5h1.2M93.9 132.5h1.2M100.9 132.5h1.2M106.9 132.5h1.2M117.9 132.5h2.2M122.9 132.5h1.2M124.9 132.5h2.2M127.9 132.5h1.2M67.9 104.5h1.2M69.9 104.5h2.2M72.9 104.5h1.2M83.9 104.5h3.2M89.9 104.5h2.2M93.9 104.5h1.2M99.9 104.5h2.2M102.9 104.5h1.2M67.9 120.5h1.2M73.9 120.5h1.2M82.9 120.5h1.2M90.9 120.5h2.2M94.9 120.5h1.2M99.9 120.5h1.2M111.9 120.5h1.2M113.9 120.5h1.2M116.9 120.5h3.2M70.9 145.5h1.2M110.9 145.5h1.2M119.9 145.5h1.2M126.9 145.5h1.2M133.9 145.5h1.2M137.9 145.5h1.2M141.9 145.5h1.2M143.9 145.5h1.2M71.9 138.5h1.2M99.9 138.5h1.2M112.9 138.5h1.2M116.9 138.5h2.2M122.9 138.5h1.2M133.9 138.5h1.2M74.9 128.5h1.2M79.9 128.5h1.2M87.9 128.5h1.2M125.9 128.5h1.2M127.9 128.5h1.2M76.9 144.5h1.2M117.9 144.5h1.2M136.9 144.5h1.2M88.9 135.5h1.2M110.9 135.5h1.2M120.9 135.5h1.2M130.9 135.5h2.2M134.9 135.5h1.2M95.9 147.5h1.2M111.9 147.5h1.2M128.9 147.5h1.2M130.9 147.5h1.2M135.9 147.5h2.2M146.9 147.5h1.2M115.9 136.5h1.2M127.9 136.5h1.2M132.9 136.5h3.2M134.9 142.5h2.2M137.9 142.5h3.2"/><path stroke="#3f5faa" d="M1.9 7.5h1.2M1.9 8.5h1.2M1.9 9.5h1.2M1.9 12.5h3.2M1.9 18.5h1.2M4.9 18.5h1.2M7.9 18.5h1.2M10.9 18.5h1.2M2.9 10.5h1.2M2.9 16.5h1.2M4.9 16.5h1.2M6.9 16.5h1.2M3.9 13.5h1.2M3.9 14.5h1.2M5.9 14.5h1.2M7.9 14.5h1.2M3.9 19.5h1.2M6.9 19.5h1.2M8.9 19.5h2.2M3.9 24.5h1.2M9.9 24.5h1.2M13.9 24.5h1.2M16.9 24.5h1.2M5.9 15.5h1.2M5.9 22.5h1.2M9.9 22.5h1.2M5.9 25.5h2.2M8.9 25.5h3.2M12.9 25.5h1.2M5.9 31.5h1.2M12.9 31.5h1.2M19.9 31.5h1.2M7.9 20.5h2.2M7.9 23.5h1.2M13.9 23.5h2.2M8.9 33.5h1.2M22.9 33.5h1.2M24.9 33.5h1.2M9.9 21.5h3.2M9.9 28.5h1.2M13.9 28.5h1.2M15.9 28.5h1.2M10.9 34.5h1.2M15.9 34.5h1.2M23.9 34.5h1.2M12.9 32.5h2.2M16.9 32.5h1.2M19.9 32.5h3.2M14.9 30.5h2.2M14.9 49.5h1.2M27.9 49.5h1.2M31.9 49.5h2.2M40.9 49.5h1.2M15.9 26.5h1.2M16.9 27.5h1.2M16.9 41.5h1.2M29.9 41.5h2.2M33.9 41.5h1.2M16.9 42.5h1.2M30.9 42.5h4.2M17.9 29.5h1.2M17.9 35.5h1.2M20.9 35.5h2.2M25.9 35.5h1.2M17.9 39.5h1.2M19.9 39.5h1.2M32.9 39.5h1.2M18.9 47.5h1.2M39.9 47.5h1.2M18.9 58.5h1.2M46.9 58.5h1.2M20.9 40.5h1.2M23.9 40.5h1.2M33.9 40.5h1.2M35.9 40.5h1.2M20.9 43.5h1.2M29.9 43.5h1.2M35.9 43.5h1.2M21.9 38.5h1.2M26.9 38.5h1.2M28.9 38.5h2.2M22.9 56.5h1.2M30.9 56.5h1.2M48.9 56.5h4.2M53.9 56.5h1.2M23.9 37.5h1.2M31.9 37.5h1.2M23.9 48.5h1.2M25.9 48.5h1.2M29.9 48.5h1.2M36.9 48.5h1.2M40.9 48.5h1.2M24.9 46.5h1.2M26.9 46.5h1.2M34.9 46.5h1.2M36.9 46.5h1.2M38.9 46.5h1.2M26.9 59.5h1.2M38.9 59.5h1.2M43.9 59.5h1.2M55.9 59.5h2.2M26.9 72.5h1.2M39.9 72.5h1.2M52.9 72.5h1.2M66.9 72.5h1.2M70.9 72.5h1.2M27.9 57.5h1.2M29.9 57.5h1.2M41.9 57.5h2.2M45.9 57.5h2.2M48.9 57.5h1.2M54.9 57.5h1.2M27.9 67.5h1.2M36.9 67.5h1.2M55.9 67.5h1.2M62.9 67.5h1.2M28.9 44.5h1.2M33.9 44.5h1.2M36.9 44.5h1.2M28.9 45.5h1.2M34.9 45.5h1.2M28.9 50.5h1.2M33.9 50.5h1.2M30.9 60.5h1.2M48.9 60.5h1.2M52.9 60.5h1.2M32.9 51.5h1.2M40.9 51.5h1.2M45.9 51.5h1.2M33.9 69.5h1.2M42.9 69.5h1.2M48.9 69.5h1.2M63.9 69.5h1.2M34.9 61.5h1.2M47.9 61.5h1.2M51.9 61.5h1.2M53.9 61.5h1.2M55.9 61.5h3.2M35.9 53.5h2.2M47.9 53.5h1.2M36.9 65.5h1.2M45.9 65.5h1.2M49.9 65.5h2.2M58.9 65.5h1.2M63.9 65.5h1.2M38.9 55.5h1.2M47.9 55.5h2.2M50.9 55.5h1.2M38.9 75.5h1.2M64.9 75.5h1.2M73.9 75.5h1.2M39.9 77.5h1.2M62.9 77.5h1.2M67.9 77.5h1.2M70.9 77.5h1.2M75.9 77.5h1.2M39.9 85.5h1.2M45.9 85.5h1.2M47.9 85.5h1.2M56.9 85.5h1.2M72.9 85.5h1.2M84.9 85.5h1.2M40.9 52.5h1.2M43.9 52.5h1.2M45.9 52.5h1.2M41.9 54.5h1.2M44.9 54.5h1.2M46.9 54.5h1.2M42.9 62.5h1.2M49.9 62.5h1.2M54.9 62.5h2.2M58.9 62.5h2.2M42.9 70.5h1.2M48.9 70.5h1.2M51.9 70.5h1.2M62.9 70.5h1.2M44.9 64.5h2.2M48.9 64.5h1.2M60.9 64.5h1.2M45.9 103.5h1.2M86.9 103.5h1.2M102.9 103.5h1.2M47.9 66.5h1.2M49.9 86.5h1.2M84.9 86.5h2.2M50.9 79.5h1.2M60.9 79.5h1.2M66.9 79.5h2.2M69.9 79.5h1.2M76.9 79.5h3.2M51.9 78.5h1.2M66.9 78.5h1.2M74.9 78.5h1.2M52.9 76.5h1.2M72.9 76.5h1.2M52.9 88.5h1.2M70.9 88.5h1.2M75.9 88.5h1.2M52.9 90.5h1.2M88.9 90.5h2.2M52.9 99.5h1.2M98.9 99.5h1.2M53.9 110.5h1.2M73.9 110.5h1.2M54.9 63.5h1.2M55.9 74.5h1.2M57.9 74.5h1.2M64.9 74.5h1.2M68.9 74.5h1.2M71.9 74.5h2.2M57.9 80.5h1.2M69.9 80.5h1.2M74.9 80.5h1.2M61.9 68.5h1.2M63.9 68.5h2.2M66.9 68.5h1.2M61.9 113.5h1.2M112.9 113.5h1.2M62.9 73.5h1.2M62.9 95.5h1.2M92.9 95.5h2.2M62.9 149.5h1.2M63.9 71.5h2.2M68.9 71.5h1.2M67.9 96.5h1.2M72.9 83.5h1.2M73.9 93.5h1.2M75.9 84.5h2.2M80.9 84.5h1.2M83.9 84.5h1.2M76.9 81.5h1.2M79.9 81.5h1.2M76.9 82.5h1.2M78.9 98.5h1.2M80.9 89.5h1.2M86.9 89.5h1.2M81.9 94.5h1.2M85.9 94.5h1.2M87.9 94.5h1.2M92.9 94.5h1.2M82.9 91.5h1.2M82.9 109.5h1.2M105.9 109.5h1.2M83.9 87.5h2.2M84.9 108.5h1.2M89.9 108.5h1.2M101.9 108.5h1.2M107.9 108.5h1.2M85.9 92.5h1.2M87.9 92.5h1.2M92.9 102.5h1.2M100.9 102.5h1.2M93.9 106.5h1.2M95.9 101.5h1.2M97.9 101.5h1.2M95.9 104.5h1.2M96.9 97.5h1.2M99.9 100.5h1.2M106.9 107.5h1.2M111.9 118.5h1.2M116.9 117.5h1.2M117.9 119.5h2.2M119.9 120.5h1.2M120.9 122.5h1.2M123.9 125.5h1.2M123.9 132.5h1.2M130.9 132.5h1.2M124.9 130.5h1.2M128.9 130.5h2.2M126.9 133.5h1.2M126.9 141.5h1.2M132.9 135.5h1.2M135.9 137.5h1.2M136.9 140.5h1.2M138.9 140.5h1.2M138.9 139.5h1.2M142.9 143.5h1.2M144.9 145.5h1.2M144.9 146.5h1.2"/><path stroke="#3671b6" d="M-0.1 5.5h1.2M0.9 8.5h1.2M1.9 13.5h2.2M5.9 13.5h1.2M2.9 9.5h1.2M3.9 17.5h1.2M6.9 17.5h1.2M4.9 14.5h1.2M6.9 14.5h1.2M6.9 15.5h3.2M10.9 19.5h2.2M10.9 20.5h1.2M10.9 23.5h1.2M12.9 23.5h1.2M16.9 23.5h1.2M10.9 35.5h1.2M23.9 35.5h1.2M26.9 35.5h2.2M11.9 26.5h1.2M16.9 26.5h1.2M14.9 25.5h1.2M14.9 28.5h1.2M15.9 29.5h1.2M18.9 29.5h1.2M20.9 29.5h1.2M17.9 24.5h1.2M17.9 30.5h1.2M19.9 38.5h1.2M27.9 38.5h1.2M30.9 38.5h1.2M20.9 27.5h1.2M20.9 33.5h1.2M21.9 31.5h2.2M24.9 31.5h1.2M24.9 37.5h1.2M28.9 37.5h1.2M30.9 37.5h1.2M26.9 32.5h1.2M26.9 34.5h1.2M28.9 39.5h1.2M28.9 42.5h1.2M36.9 42.5h1.2M30.9 46.5h1.2M32.9 46.5h1.2M40.9 46.5h1.2M32.9 40.5h1.2M34.9 40.5h1.2M32.9 41.5h1.2M33.9 53.5h1.2M40.9 53.5h1.2M46.9 53.5h1.2M49.9 53.5h1.2M34.9 43.5h1.2M38.9 43.5h1.2M34.9 48.5h2.2M38.9 48.5h1.2M41.9 48.5h1.2M35.9 47.5h1.2M38.9 47.5h1.2M40.9 47.5h1.2M37.9 44.5h2.2M37.9 52.5h1.2M44.9 52.5h1.2M46.9 52.5h1.2M49.9 52.5h1.2M38.9 45.5h2.2M42.9 45.5h1.2M39.9 51.5h1.2M41.9 51.5h1.2M44.9 51.5h1.2M47.9 51.5h1.2M42.9 50.5h1.2M45.9 50.5h1.2M43.9 49.5h1.2M43.9 63.5h1.2M44.9 58.5h1.2M55.9 58.5h1.2M49.9 54.5h1.2M51.9 54.5h1.2M49.9 55.5h1.2M52.9 55.5h1.2M50.9 97.5h1.2M53.9 59.5h1.2M54.9 65.5h1.2M56.9 65.5h1.2M60.9 65.5h1.2M62.9 65.5h1.2M55.9 60.5h1.2M57.9 60.5h1.2M56.9 64.5h1.2M59.9 64.5h1.2M56.9 82.5h1.2M80.9 82.5h2.2M57.9 69.5h2.2M59.9 61.5h1.2M60.9 62.5h1.2M61.9 66.5h1.2M63.9 66.5h1.2M64.9 80.5h1.2M79.9 80.5h1.2M65.9 67.5h1.2M65.9 70.5h1.2M68.9 75.5h1.2M69.9 71.5h1.2M69.9 72.5h1.2M71.9 73.5h1.2M72.9 92.5h1.2M74.9 77.5h1.2M76.9 78.5h1.2M79.9 90.5h1.2M82.9 83.5h1.2M86.9 87.5h1.2M90.9 91.5h1.2M90.9 93.5h1.2M98.9 100.5h1.2M101.9 102.5h1.2M102.9 107.5h1.2M104.9 105.5h1.2M108.9 112.5h1.2M110.9 111.5h1.2M112.9 115.5h1.2M115.9 118.5h1.2M122.9 123.5h1.2M124.9 125.5h1.2M140.9 141.5h1.2M142.9 144.5h1.2M144.9 147.5h1.2M144.9 148.5h1.2M146.9 149.5h1.2"/><path stroke="#2e85c2" d="M1.9 6.5h1.2M1.9 11.5h3.2M6.9 11.5h1.2M2.9 8.5h1.2M3.9 9.5h1.2M3.9 15.5h1.2M4.9 12.5h1.2M8.9 16.5h1.2M8.9 18.5h1.2M9.9 20.5h1.2M10.9 24.5h1.2M12.9 24.5h1.2M12.9 19.5h1.2M12.9 22.5h1.2M14.9 22.5h1.2M15.9 23.5h1.2M15.9 35.5h1.2M29.9 35.5h1.2M15.9 41.5h1.2M22.9 41.5h1.2M34.9 41.5h2.2M16.9 25.5h2.2M16.9 28.5h1.2M19.9 28.5h1.2M22.9 28.5h1.2M17.9 33.5h1.2M21.9 33.5h1.2M19.9 27.5h1.2M21.9 29.5h1.2M23.9 31.5h1.2M23.9 32.5h1.2M25.9 32.5h1.2M27.9 37.5h1.2M29.9 37.5h1.2M28.9 34.5h1.2M31.9 40.5h1.2M34.9 42.5h1.2M37.9 42.5h1.2M35.9 68.5h1.2M36.9 47.5h1.2M37.9 43.5h1.2M39.9 43.5h1.2M39.9 44.5h2.2M39.9 46.5h1.2M41.9 46.5h1.2M40.9 64.5h1.2M40.9 65.5h1.2M41.9 45.5h1.2M43.9 48.5h2.2M43.9 50.5h1.2M46.9 50.5h1.2M45.9 55.5h1.2M46.9 51.5h1.2M47.9 60.5h1.2M48.9 52.5h1.2M48.9 54.5h1.2M54.9 61.5h1.2M60.9 63.5h1.2M63.9 67.5h1.2M66.9 69.5h2.2M71.9 78.5h1.2M73.9 76.5h1.2M75.9 76.5h1.2M73.9 77.5h1.2M74.9 75.5h1.2M75.9 80.5h1.2M79.9 82.5h1.2M92.9 93.5h1.2M92.9 96.5h1.2M96.9 99.5h1.2M103.9 104.5h1.2M110.9 112.5h1.2M116.9 118.5h1.2"/><path stroke="#249cc9" d="M-0.1 4.5h2.2M0.9 5.5h1.2M5.9 10.5h1.2M6.9 13.5h2.2M7.9 12.5h1.2M10.9 16.5h1.2M10.9 17.5h1.2M11.9 18.5h1.2M11.9 20.5h1.2M12.9 26.5h1.2M20.9 26.5h1.2M14.9 21.5h1.2M15.9 22.5h1.2M18.9 27.5h1.2M21.9 27.5h1.2M20.9 28.5h1.2M21.9 30.5h1.2M24.9 35.5h1.2M28.9 35.5h1.2M25.9 33.5h1.2M25.9 34.5h1.2M27.9 34.5h1.2M31.9 39.5h1.2M32.9 38.5h1.2M34.9 38.5h1.2M33.9 37.5h1.2M33.9 43.5h1.2M36.9 43.5h1.2M35.9 42.5h1.2M40.9 45.5h1.2M42.9 46.5h1.2M42.9 47.5h1.2M44.9 47.5h1.2M42.9 48.5h1.2M45.9 48.5h1.2M43.9 53.5h1.2M48.9 53.5h1.2M47.9 54.5h1.2M48.9 51.5h1.2M50.9 52.5h1.2M53.9 58.5h1.2M57.9 59.5h1.2M59.9 63.5h1.2M61.9 63.5h1.2M62.9 66.5h1.2M64.9 66.5h2.2M66.9 67.5h1.2M68.9 69.5h1.2M73.9 74.5h1.2M100.9 101.5h1.2"/><path stroke="#26a6c9" d="M0.9 7.5h1.2M2.9 6.5h1.2M8.9 13.5h1.2M12.9 20.5h3.2M13.9 19.5h1.2M13.9 21.5h1.2M22.9 30.5h1.2M26.9 33.5h2.2M29.9 34.5h1.2M30.9 36.5h2.2M30.9 40.5h1.2M31.9 38.5h1.2M33.9 39.5h2.2M36.9 41.5h1.2M38.9 41.5h1.2M39.9 42.5h1.2M43.9 47.5h1.2M45.9 49.5h1.2M48.9 50.5h1.2M50.9 53.5h1.2M51.9 55.5h1.2M52.9 54.5h1.2M52.9 56.5h1.2M54.9 58.5h1.2M54.9 59.5h1.2M55.9 57.5h1.2M58.9 61.5h1.2M67.9 68.5h1.2M69.9 70.5h1.2M77.9 78.5h1.2M97.9 98.5h1.2"/><path stroke="#38abc0" d="M0.9 6.5h1.2M1.9 5.5h1.2M4.9 8.5h1.2M4.9 10.5h1.2M5.9 11.5h1.2M11.9 16.5h1.2M12.9 18.5h1.2M19.9 26.5h1.2M20.9 30.5h1.2M25.9 31.5h1.2M28.9 33.5h1.2M29.9 36.5h1.2M32.9 37.5h1.2M35.9 38.5h1.2M36.9 40.5h2.2M40.9 43.5h1.2M47.9 50.5h1.2M47.9 52.5h1.2M50.9 54.5h1.2M53.9 55.5h1.2M55.9 56.5h1.2M62.9 64.5h2.2M70.9 71.5h1.2M71.9 72.5h1.2"/><path stroke="#4ab0b7" d="M2.9 7.5h1.2M3.9 10.5h1.2M4.9 9.5h1.2M6.9 12.5h1.2M8.9 14.5h1.2M9.9 15.5h1.2M9.9 16.5h1.2M16.9 22.5h1.2M18.9 25.5h2.2M18.9 26.5h1.2M22.9 29.5h2.2M23.9 30.5h3.2M26.9 31.5h1.2M27.9 32.5h2.2M30.9 34.5h1.2M30.9 35.5h1.2M33.9 38.5h1.2M35.9 39.5h1.2M38.9 42.5h1.2M45.9 47.5h1.2M46.9 49.5h1.2M51.9 53.5h1.2M56.9 58.5h2.2M58.9 60.5h1.2M60.9 61.5h1.2M61.9 62.5h1.2M64.9 65.5h1.2M72.9 73.5h1.2M88.9 89.5h1.2"/><path stroke="#5db5ae" d="M5.9 9.5h1.2M14.9 19.5h1.2M20.9 24.5h1.2M27.9 31.5h1.2M31.9 35.5h1.2M32.9 36.5h1.2M43.9 46.5h1.2M46.9 48.5h1.2"/><path stroke="#6bb9a7" d="M-0.1 3.5h1.2M3.9 7.5h1.2M11.9 17.5h2.2M13.9 18.5h2.2M15.9 20.5h1.2M17.9 23.5h1.2M18.9 24.5h1.2M21.9 26.5h1.2M21.9 28.5h1.2M23.9 28.5h1.2M23.9 27.5h1.2M24.9 29.5h1.2M31.9 34.5h1.2M39.9 41.5h1.2M41.9 44.5h1.2M49.9 51.5h1.2M54.9 55.5h1.2M56.9 57.5h1.2M59.9 60.5h1.2"/><path stroke="#72bda5" d="M9.9 13.5h1.2M9.9 14.5h1.2M10.9 15.5h1.2M16.9 21.5h1.2M18.9 22.5h1.2M18.9 23.5h1.2M29.9 33.5h1.2M41.9 43.5h1.2M44.9 46.5h1.2M47.9 49.5h1.2M49.9 50.5h1.2M52.9 53.5h1.2M54.9 56.5h1.2M58.9 59.5h1.2M62.9 63.5h1.2"/><path stroke="#79c1a3" d="M15.9 21.5h1.2M17.9 22.5h1.2M19.9 24.5h1.2M22.9 27.5h1.2M30.9 33.5h1.2M33.9 36.5h1.2M34.9 37.5h1.2M36.9 39.5h1.2M37.9 41.5h1.2M38.9 40.5h1.2M40.9 42.5h1.2M42.9 44.5h1.2M53.9 54.5h1.2"/><path stroke="#80c4a1" d="M6.9 10.5h1.2M10.9 14.5h1.2M17.9 21.5h1.2M19.9 22.5h1.2M20.9 25.5h2.2M22.9 26.5h1.2M25.9 29.5h1.2M26.9 30.5h1.2M28.9 31.5h1.2M36.9 38.5h1.2M37.9 39.5h1.2M43.9 45.5h1.2M48.9 49.5h1.2"/><path stroke="#89c79d" d="M-0.1 2.5h1.2M1.9 4.5h1.2M8.9 12.5h1.2M11.9 15.5h1.2M13.9 17.5h1.2M15.9 19.5h1.2M19.9 23.5h1.2M23.9 26.5h1.2M24.9 27.5h1.2M24.9 28.5h1.2M26.9 29.5h1.2M29.9 32.5h1.2M32.9 35.5h1.2M35.9 37.5h1.2M38.9 39.5h1.2M42.9 43.5h1.2M47.9 48.5h1.2M51.9 52.5h1.2"/><path stroke="#92ca98" d="M7.9 11.5h1.2M12.9 16.5h1.2M16.9 20.5h1.2M25.9 28.5h1.2M28.9 30.5h1.2M34.9 36.5h1.2M43.9 44.5h1.2M44.9 45.5h1.2M45.9 46.5h1.2M50.9 51.5h1.2"/><path stroke="#9bcc93" d="M0.9 3.5h1.2M2.9 5.5h1.2M4.9 7.5h1.2M5.9 8.5h1.2M6.9 9.5h1.2M9.9 12.5h1.2M10.9 13.5h1.2M14.9 17.5h1.2M21.9 24.5h1.2M27.9 30.5h1.2M31.9 33.5h1.2M32.9 34.5h1.2M33.9 35.5h1.2M39.9 40.5h1.2M40.9 41.5h1.2M41.9 42.5h1.2M46.9 47.5h1.2"/><path stroke="#a4cf8e" d="M8.9 11.5h1.2M16.9 19.5h1.2M17.9 20.5h1.2M18.9 21.5h1.2M20.9 23.5h1.2M26.9 28.5h1.2M29.9 31.5h1.2M30.9 32.5h1.2M37.9 38.5h1.2"/><path stroke="#afcd89" d="M3.9 6.5h1.2M11.9 14.5h1.2M12.9 15.5h1.2M13.9 16.5h1.2M15.9 18.5h1.2M20.9 22.5h1.2M22.9 25.5h1.2M27.9 29.5h1.2M34.9 35.5h1.2M35.9 36.5h1.2M36.9 37.5h1.2"/><path stroke="#bbc985" d="M7.9 10.5h1.2M21.9 23.5h1.2M23.9 25.5h1.2M24.9 26.5h1.2M25.9 27.5h1.2M29.9 30.5h1.2"/><path stroke="#c6c581" d="M17.9 19.5h1.2M22.9 24.5h1.2M31.9 32.5h1.2M32.9 33.5h1.2M33.9 34.5h1.2"/><path stroke="#d3ba7a" d="M14.9 16.5h1.2M19.9 21.5h1.2M30.9 31.5h1.2"/><path stroke="#e0ae74" d="M1.9 3.5h1.2M11.9 13.5h1.2M13.9 15.5h1.2M15.9 17.5h1.2M18.9 20.5h1.2M27.9 28.5h1.2M28.9 29.5h1.2"/><path stroke="#eda36e" d="M10.9 12.5h1.2M12.9 14.5h1.2M16.9 18.5h1.2M25.9 26.5h1.2"/><path stroke="#ee9768" d="M0.9 2.5h1.2M2.9 4.5h1.2M3.9 5.5h1.2M4.9 6.5h1.2M5.9 7.5h1.2M8.9 10.5h1.2M9.9 11.5h1.2M22.9 23.5h1.2M23.9 24.5h1.2M24.9 25.5h1.2M26.9 27.5h1.2"/><path stroke="#ec8b62" d="M-0.1 1.5h1.2M6.9 8.5h1.2M7.9 9.5h1.2M19.9 20.5h1.2M21.9 22.5h1.2"/><path stroke="#ea7f5c" d="M17.9 18.5h1.2M18.9 19.5h1.2M20.9 21.5h1.2"/><path stroke="#e87356" d="M15.9 16.5h1.2M16.9 17.5h1.2"/><path stroke="#e66750" d="M13.9 14.5h1.2M14.9 15.5h1.2"/><path stroke="#e45c4a" d="M11.9 12.5h1.2M12.9 13.5h1.2"/><path stroke="#e25145" d="M8.9 9.5h1.2M9.9 10.5h1.2M10.9 11.5h1.2"/><path stroke="#e0463f" d="M5.9 6.5h1.2M6.9 7.5h1.2M7.9 8.5h1.2"/><path stroke="#de3b3a" d="M4.9 5.5h1.2"/><path stroke="#dc3034" d="M-0.1 0.5h1.2M0.9 1.5h1.2M1.9 2.5h1.2M2.9 3.5h1.2M3.9 4.5h1.2"/></g></g><path d="M351.5 538.5L561.5 328.5" stroke="#151515" stroke-width="1.0" fill="none"/><path d="M351.50 538.5v-2.6M351.50 328.5v2.6M351.5 538.50h2.6M561.5 538.50h-2.6M386.50 538.5v-2.6M386.50 328.5v2.6M351.5 503.50h2.6M561.5 503.50h-2.6M421.50 538.5v-2.6M421.50 328.5v2.6M351.5 468.50h2.6M561.5 468.50h-2.6M456.50 538.5v-2.6M456.50 328.5v2.6M351.5 433.50h2.6M561.5 433.50h-2.6M491.50 538.5v-2.6M491.50 328.5v2.6M351.5 398.50h2.6M561.5 398.50h-2.6M526.50 538.5v-2.6M526.50 328.5v2.6M351.5 363.50h2.6M561.5 363.50h-2.6M561.50 538.5v-2.6M561.50 328.5v2.6M351.5 328.50h2.6M561.5 328.50h-2.6" stroke="#444" stroke-width="0.7" fill="none"/><rect x="351.5" y="328.5" width="210.0" height="210.0" fill="none" stroke="#666" stroke-width="1.1"/><g font-family="Liberation Sans, sans-serif" font-size="7.3" fill="#1a1a1a"><text x="351.50" y="546.90" text-anchor="middle">0</text><text x="348.30" y="540.40" text-anchor="end">0</text><text x="386.50" y="546.90" text-anchor="middle">50</text><text x="348.30" y="505.40" text-anchor="end">50</text><text x="421.50" y="546.90" text-anchor="middle">100</text><text x="348.30" y="470.40" text-anchor="end">100</text><text x="456.50" y="546.90" text-anchor="middle">150</text><text x="348.30" y="435.40" text-anchor="end">150</text><text x="491.50" y="546.90" text-anchor="middle">200</text><text x="348.30" y="400.40" text-anchor="end">200</text><text x="526.50" y="546.90" text-anchor="middle">250</text><text x="348.30" y="365.40" text-anchor="end">250</text><text x="561.50" y="546.90" text-anchor="middle">300</text><text x="348.30" y="330.40" text-anchor="end">300</text></g><rect x="576" y="328.5" width="10.6" height="210.0" fill="url(#cb)" stroke="#333" stroke-width="0.8"/><path d="M584.10 538.5h2.5" stroke="#333" stroke-width="0.7"/><text x="589.20" y="540.90" font-family="Liberation Serif, serif" font-size="8.2" fill="#1a1a1a">10<tspan font-size="5.8" dy="-3.3" dx="0.7">0</tspan></text><path d="M584.10 456.7h2.5" stroke="#333" stroke-width="0.7"/><text x="589.20" y="459.10" font-family="Liberation Serif, serif" font-size="8.2" fill="#1a1a1a">10<tspan font-size="5.8" dy="-3.3" dx="0.7">1</tspan></text><path d="M584.10 376.4h2.5" stroke="#333" stroke-width="0.7"/><text x="589.20" y="378.80" font-family="Liberation Serif, serif" font-size="8.2" fill="#1a1a1a">10<tspan font-size="5.8" dy="-3.3" dx="0.7">2</tspan></text><g transform="translate(448,552.1) scale(1.0)"><path d="M6.5 9.4C5 10.2 2 10.3 0.8 8.8C-0.3 7.4 0.3 4.6 2.2 2.8C3.8 1.2 6.5 0.2 9.5 0.3C12 0.4 14 1.2 13.8 2.6C13.6 4 12 4.9 10.2 5.6C9.6 5.8 9.2 5.9 9 6M9 6C10.3 7.2 11.5 8.4 12.8 9.3M3.6 7.6C3.6 6.2 5.4 5.2 7 5.2C8 5.2 8.6 5.6 9 6" fill="none" stroke="#111" stroke-width="1.15" stroke-linecap="round"/><path d="M11.3 1.0C11.1 2.3 10.9 3.5 10.6 4.8" fill="none" stroke="#555" stroke-width="0.6"/><text x="16.2" y="3.2" font-family="Liberation Serif, serif" font-size="8.2">2</text><text x="14.0" y="12.4" font-family="Liberation Serif, serif" font-style="italic" font-size="9.6">b</text></g><g transform="translate(319.4,441.5) rotate(-90) scale(1.0)"><path d="M6.5 9.4C5 10.2 2 10.3 0.8 8.8C-0.3 7.4 0.3 4.6 2.2 2.8C3.8 1.2 6.5 0.2 9.5 0.3C12 0.4 14 1.2 13.8 2.6C13.6 4 12 4.9 10.2 5.6C9.6 5.8 9.2 5.9 9 6M9 6C10.3 7.2 11.5 8.4 12.8 9.3M3.6 7.6C3.6 6.2 5.4 5.2 7 5.2C8 5.2 8.6 5.6 9 6" fill="none" stroke="#111" stroke-width="1.15" stroke-linecap="round"/><path d="M11.3 1.0C11.1 2.3 10.9 3.5 10.6 4.8" fill="none" stroke="#555" stroke-width="0.6"/><text x="16.2" y="3.2" font-family="Liberation Serif, serif" font-size="8.2">2</text><text x="14.0" y="12.4" font-family="Liberation Serif, serif" font-style="italic" font-size="9.6">d</text></g><text x="483.8" y="527.4" font-family="Liberation Serif, serif" font-size="20.6" fill="#111">N<tspan font-size="16.2" dy="3.2">c</tspan><tspan dy="-3.2" dx="0.6">=3M</tspan></text></g><g><path d="M74.00 589.5V799.5M39 764.50H249.0M109.00 589.5V799.5M39 729.50H249.0M144.00 589.5V799.5M39 694.50H249.0M179.00 589.5V799.5M39 659.50H249.0M214.00 589.5V799.5M39 624.50H249.0" stroke="#9a9a9a" stroke-width="0.7" stroke-dasharray="0.9 1.3" fill="none"/><g filter="url(#bl)"><g transform="translate(39,799.5) scale(1.4,-1.4)" stroke-width="1.2" fill="none"><path stroke="#584ca4" d="M-0.1 6.5h1.2M-0.1 9.5h1.2M4.9 9.5h1.2M0.9 8.5h1.2M4.9 8.5h3.2M1.9 5.5h1.2M1.9 18.5h1.2M15.9 18.5h3.2M2.9 7.5h2.2M3.9 12.5h1.2M6.9 12.5h1.2M5.9 11.5h2.2M8.9 11.5h2.2M5.9 13.5h1.2M12.9 13.5h1.2M5.9 14.5h1.2M10.9 14.5h1.2M13.9 14.5h1.2M6.9 20.5h1.2M14.9 20.5h1.2M7.9 19.5h1.2M10.9 19.5h1.2M12.9 19.5h1.2M17.9 19.5h1.2M7.9 21.5h1.2M14.9 21.5h1.2M16.9 21.5h2.2M8.9 10.5h1.2M8.9 15.5h1.2M10.9 15.5h1.2M12.9 15.5h1.2M14.9 15.5h1.2M8.9 16.5h1.2M8.9 93.5h1.2M77.9 93.5h1.2M83.9 93.5h1.2M11.9 25.5h1.2M19.9 25.5h1.2M21.9 25.5h1.2M23.9 25.5h1.2M12.9 17.5h1.2M14.9 17.5h1.2M12.9 36.5h1.2M22.9 36.5h1.2M31.9 36.5h1.2M34.9 36.5h2.2M16.9 22.5h1.2M16.9 41.5h1.2M33.9 41.5h1.2M36.9 41.5h1.2M17.9 23.5h1.2M19.9 23.5h1.2M17.9 24.5h1.2M19.9 24.5h1.2M21.9 24.5h1.2M23.9 24.5h1.2M17.9 31.5h2.2M22.9 31.5h2.2M17.9 69.5h1.2M63.9 69.5h1.2M18.9 60.5h1.2M20.9 26.5h1.2M22.9 26.5h4.2M20.9 37.5h1.2M22.9 37.5h1.2M28.9 37.5h1.2M35.9 37.5h1.2M24.9 29.5h1.2M24.9 39.5h1.2M30.9 39.5h1.2M37.9 39.5h2.2M25.9 27.5h2.2M25.9 70.5h1.2M57.9 70.5h1.2M65.9 70.5h2.2M69.9 70.5h1.2M26.9 28.5h1.2M26.9 32.5h2.2M27.9 30.5h1.2M28.9 33.5h1.2M29.9 38.5h1.2M30.9 52.5h1.2M49.9 52.5h1.2M31.9 81.5h1.2M61.9 81.5h1.2M78.9 81.5h1.2M32.9 34.5h1.2M32.9 42.5h1.2M41.9 42.5h1.2M32.9 44.5h1.2M34.9 44.5h4.2M32.9 97.5h1.2M71.9 97.5h1.2M81.9 97.5h1.2M93.9 97.5h1.2M95.9 97.5h1.2M33.9 49.5h1.2M35.9 49.5h1.2M45.9 49.5h1.2M34.9 35.5h1.2M34.9 59.5h1.2M41.9 59.5h1.2M52.9 59.5h1.2M56.9 59.5h1.2M35.9 122.5h1.2M92.9 122.5h1.2M104.9 122.5h1.2M118.9 122.5h1.2M37.9 54.5h1.2M43.9 54.5h1.2M45.9 54.5h1.2M39.9 45.5h1.2M43.9 45.5h1.2M41.9 43.5h1.2M41.9 56.5h1.2M45.9 56.5h1.2M47.9 56.5h1.2M49.9 56.5h1.2M52.9 56.5h2.2M41.9 62.5h1.2M42.9 46.5h1.2M45.9 46.5h1.2M42.9 48.5h1.2M44.9 48.5h1.2M44.9 50.5h1.2M44.9 51.5h2.2M47.9 51.5h1.2M49.9 51.5h2.2M44.9 55.5h1.2M51.9 55.5h1.2M46.9 47.5h1.2M46.9 53.5h1.2M52.9 53.5h1.2M46.9 65.5h1.2M52.9 65.5h1.2M62.9 65.5h1.2M48.9 57.5h1.2M49.9 58.5h1.2M55.9 58.5h1.2M49.9 80.5h1.2M62.9 80.5h1.2M78.9 80.5h2.2M51.9 71.5h2.2M56.9 71.5h2.2M61.9 71.5h1.2M67.9 71.5h1.2M53.9 61.5h1.2M53.9 125.5h1.2M100.9 125.5h1.2M109.9 125.5h1.2M118.9 125.5h1.2M54.9 87.5h1.2M75.9 87.5h1.2M81.9 87.5h1.2M56.9 64.5h1.2M62.9 64.5h1.2M56.9 66.5h2.2M59.9 66.5h1.2M57.9 73.5h1.2M62.9 73.5h1.2M66.9 73.5h1.2M71.9 73.5h1.2M60.9 89.5h1.2M72.9 89.5h2.2M82.9 89.5h2.2M85.9 89.5h1.2M63.9 76.5h1.2M66.9 76.5h1.2M74.9 76.5h2.2M64.9 68.5h2.2M67.9 68.5h1.2M64.9 72.5h1.2M67.9 72.5h1.2M64.9 74.5h1.2M64.9 77.5h1.2M71.9 77.5h1.2M64.9 86.5h1.2M77.9 86.5h1.2M80.9 86.5h1.2M83.9 86.5h1.2M85.9 86.5h1.2M64.9 134.5h1.2M66.9 90.5h1.2M77.9 90.5h1.2M67.9 85.5h1.2M76.9 85.5h1.2M84.9 85.5h1.2M68.9 75.5h2.2M69.9 91.5h1.2M75.9 91.5h1.2M69.9 100.5h1.2M71.9 110.5h1.2M107.9 110.5h2.2M73.9 79.5h1.2M73.9 99.5h1.2M93.9 99.5h1.2M74.9 83.5h1.2M75.9 147.5h1.2M137.9 147.5h2.2M144.9 147.5h1.2M146.9 147.5h1.2M76.9 78.5h1.2M76.9 88.5h1.2M82.9 88.5h1.2M87.9 88.5h1.2M76.9 92.5h1.2M84.9 92.5h1.2M91.9 92.5h1.2M76.9 102.5h1.2M93.9 102.5h1.2M95.9 102.5h2.2M98.9 102.5h1.2M77.9 95.5h1.2M90.9 95.5h1.2M94.9 95.5h1.2M79.9 82.5h1.2M79.9 84.5h1.2M83.9 84.5h1.2M84.9 96.5h1.2M88.9 96.5h1.2M95.9 96.5h1.2M84.9 103.5h2.2M89.9 103.5h1.2M95.9 103.5h2.2M84.9 105.5h1.2M88.9 105.5h1.2M104.9 105.5h1.2M85.9 108.5h1.2M93.9 108.5h2.2M97.9 108.5h1.2M106.9 108.5h1.2M86.9 94.5h1.2M88.9 94.5h1.2M86.9 119.5h1.2M117.9 119.5h2.2M87.9 98.5h1.2M96.9 98.5h2.2M87.9 133.5h1.2M101.9 133.5h1.2M112.9 133.5h1.2M115.9 133.5h1.2M128.9 133.5h1.2M91.9 114.5h1.2M100.9 114.5h1.2M106.9 114.5h1.2M109.9 114.5h1.2M113.9 114.5h1.2M91.9 117.5h1.2M110.9 117.5h1.2M112.9 117.5h1.2M91.9 123.5h1.2M96.9 123.5h1.2M111.9 123.5h1.2M113.9 123.5h1.2M120.9 123.5h1.2M122.9 123.5h1.2M93.9 101.5h1.2M100.9 101.5h1.2M93.9 113.5h1.2M110.9 113.5h1.2M93.9 115.5h1.2M100.9 115.5h1.2M104.9 115.5h1.2M94.9 109.5h1.2M104.9 109.5h1.2M94.9 129.5h1.2M121.9 129.5h2.2M126.9 129.5h1.2M97.9 112.5h1.2M100.9 104.5h1.2M103.9 104.5h1.2M102.9 130.5h1.2M116.9 130.5h2.2M120.9 130.5h1.2M102.9 138.5h1.2M121.9 138.5h1.2M132.9 138.5h1.2M104.9 111.5h1.2M109.9 111.5h2.2M104.9 116.5h1.2M110.9 116.5h1.2M114.9 116.5h1.2M105.9 120.5h1.2M107.9 120.5h1.2M112.9 120.5h1.2M115.9 120.5h1.2M105.9 128.5h1.2M126.9 128.5h2.2M106.9 143.5h1.2M118.9 143.5h1.2M122.9 143.5h1.2M129.9 143.5h1.2M141.9 143.5h2.2M107.9 124.5h1.2M119.9 124.5h1.2M122.9 124.5h1.2M107.9 139.5h1.2M118.9 139.5h1.2M129.9 139.5h1.2M136.9 139.5h2.2M108.9 137.5h1.2M110.9 137.5h1.2M123.9 137.5h1.2M126.9 137.5h1.2M130.9 137.5h1.2M136.9 137.5h1.2M108.9 142.5h1.2M133.9 142.5h1.2M135.9 142.5h1.2M137.9 142.5h1.2M111.9 121.5h1.2M120.9 121.5h1.2M111.9 131.5h1.2M112.9 118.5h1.2M114.9 118.5h1.2M112.9 146.5h1.2M118.9 146.5h1.2M124.9 146.5h2.2M138.9 146.5h1.2M140.9 146.5h1.2M113.9 127.5h1.2M116.9 127.5h1.2M123.9 127.5h1.2M118.9 145.5h1.2M119.9 135.5h1.2M124.9 135.5h1.2M132.9 135.5h1.2M120.9 136.5h1.2M128.9 136.5h1.2M130.9 136.5h1.2M121.9 126.5h2.2M127.9 140.5h1.2M132.9 140.5h1.2M128.9 132.5h2.2M137.9 144.5h1.2M140.9 144.5h1.2M140.9 141.5h1.2M141.9 148.5h1.2M146.9 148.5h1.2M144.9 149.5h1.2"/><path stroke="#4956a7" d="M1.9 6.5h3.2M6.9 9.5h1.2M7.9 8.5h1.2M9.9 12.5h2.2M10.9 11.5h1.2M10.9 13.5h1.2M16.9 30.5h1.2M19.9 26.5h1.2M21.9 22.5h1.2M31.9 32.5h1.2M32.9 33.5h1.2M38.9 40.5h1.2M44.9 45.5h1.2M47.9 48.5h1.2M53.9 54.5h1.2M61.9 62.5h1.2M64.9 70.5h1.2M68.9 70.5h1.2M69.9 73.5h1.2M73.9 74.5h1.2M74.9 77.5h1.2M78.9 79.5h1.2M84.9 112.5h1.2M108.9 112.5h1.2M90.9 99.5h1.2M102.9 111.5h1.2M104.9 124.5h1.2M114.9 115.5h1.2M115.9 116.5h1.2M117.9 118.5h1.2M121.9 122.5h1.2M134.9 135.5h1.2M135.9 138.5h1.2M139.9 142.5h1.2M143.9 148.5h1.2M144.9 146.5h1.2M148.9 149.5h1.2"/><path stroke="#3f5faa" d="M1.9 7.5h1.2M4.9 7.5h2.2M2.9 5.5h1.2M4.9 6.5h1.2M8.9 12.5h1.2M11.9 12.5h1.2M14.9 16.5h1.2M16.9 17.5h1.2M24.9 25.5h1.2M48.9 49.5h1.2M125.9 126.5h1.2M142.9 145.5h2.2"/><path stroke="#3671b6" d="M-0.1 4.5h1.2M-0.1 5.5h1.2M5.9 6.5h1.2M7.9 9.5h2.2M7.9 11.5h1.2M9.9 10.5h1.2M12.9 14.5h1.2"/><path stroke="#327bbc" d="M1.9 4.5h1.2M3.9 5.5h2.2M6.9 7.5h1.2"/><path stroke="#2990c5" d="M0.9 4.5h1.2M2.9 4.5h2.2"/><path stroke="#38abc0" d="M2.9 3.5h1.2"/><path stroke="#4ab0b7" d="M-0.1 3.5h1.2"/><path stroke="#5db5ae" d="M0.9 3.5h2.2"/><path stroke="#89c79d" d="M-0.1 2.5h1.2M1.9 2.5h1.2"/><path stroke="#9bcc93" d="M0.9 2.5h1.2"/><path stroke="#e0ae74" d="M-0.1 1.5h2.2"/><path stroke="#e45c4a" d="M-0.1 0.5h1.2"/></g></g><path d="M39 799.5L249.0 589.5" stroke="#151515" stroke-width="1.0" fill="none"/><path d="M39.00 799.5v-2.6M39.00 589.5v2.6M39 799.50h2.6M249.0 799.50h-2.6M74.00 799.5v-2.6M74.00 589.5v2.6M39 764.50h2.6M249.0 764.50h-2.6M109.00 799.5v-2.6M109.00 589.5v2.6M39 729.50h2.6M249.0 729.50h-2.6M144.00 799.5v-2.6M144.00 589.5v2.6M39 694.50h2.6M249.0 694.50h-2.6M179.00 799.5v-2.6M179.00 589.5v2.6M39 659.50h2.6M249.0 659.50h-2.6M214.00 799.5v-2.6M214.00 589.5v2.6M39 624.50h2.6M249.0 624.50h-2.6M249.00 799.5v-2.6M249.00 589.5v2.6M39 589.50h2.6M249.0 589.50h-2.6" stroke="#444" stroke-width="0.7" fill="none"/><rect x="39" y="589.5" width="210.0" height="210.0" fill="none" stroke="#666" stroke-width="1.1"/><g font-family="Liberation Sans, sans-serif" font-size="7.3" fill="#1a1a1a"><text x="39.00" y="807.90" text-anchor="middle">0</text><text x="35.80" y="801.40" text-anchor="end">0</text><text x="74.00" y="807.90" text-anchor="middle">50</text><text x="35.80" y="766.40" text-anchor="end">50</text><text x="109.00" y="807.90" text-anchor="middle">100</text><text x="35.80" y="731.40" text-anchor="end">100</text><text x="144.00" y="807.90" text-anchor="middle">150</text><text x="35.80" y="696.40" text-anchor="end">150</text><text x="179.00" y="807.90" text-anchor="middle">200</text><text x="35.80" y="661.40" text-anchor="end">200</text><text x="214.00" y="807.90" text-anchor="middle">250</text><text x="35.80" y="626.40" text-anchor="end">250</text><text x="249.00" y="807.90" text-anchor="middle">300</text><text x="35.80" y="591.40" text-anchor="end">300</text></g><rect x="263.5" y="589.5" width="10.4" height="210.0" fill="url(#cb)" stroke="#333" stroke-width="0.8"/><path d="M271.40 799.5h2.5" stroke="#333" stroke-width="0.7"/><text x="276.50" y="801.90" font-family="Liberation Serif, serif" font-size="8.2" fill="#1a1a1a">10<tspan font-size="5.8" dy="-3.3" dx="0.7">0</tspan></text><path d="M271.40 741.3h2.5" stroke="#333" stroke-width="0.7"/><text x="276.50" y="743.70" font-family="Liberation Serif, serif" font-size="8.2" fill="#1a1a1a">10<tspan font-size="5.8" dy="-3.3" dx="0.7">1</tspan></text><path d="M271.40 683.1h2.5" stroke="#333" stroke-width="0.7"/><text x="276.50" y="685.50" font-family="Liberation Serif, serif" font-size="8.2" fill="#1a1a1a">10<tspan font-size="5.8" dy="-3.3" dx="0.7">2</tspan></text><path d="M271.40 624.6h2.5" stroke="#333" stroke-width="0.7"/><text x="276.50" y="627.00" font-family="Liberation Serif, serif" font-size="8.2" fill="#1a1a1a">10<tspan font-size="5.8" dy="-3.3" dx="0.7">3</tspan></text><g transform="translate(134,813.4) scale(1.0)"><path d="M6.5 9.4C5 10.2 2 10.3 0.8 8.8C-0.3 7.4 0.3 4.6 2.2 2.8C3.8 1.2 6.5 0.2 9.5 0.3C12 0.4 14 1.2 13.8 2.6C13.6 4 12 4.9 10.2 5.6C9.6 5.8 9.2 5.9 9 6M9 6C10.3 7.2 11.5 8.4 12.8 9.3M3.6 7.6C3.6 6.2 5.4 5.2 7 5.2C8 5.2 8.6 5.6 9 6" fill="none" stroke="#111" stroke-width="1.15" stroke-linecap="round"/><path d="M11.3 1.0C11.1 2.3 10.9 3.5 10.6 4.8" fill="none" stroke="#555" stroke-width="0.6"/><text x="16.2" y="3.2" font-family="Liberation Serif, serif" font-size="8.2">2</text><text x="14.0" y="12.4" font-family="Liberation Serif, serif" font-style="italic" font-size="9.6">b</text></g><g transform="translate(7.3,703.2) rotate(-90) scale(1.0)"><path d="M6.5 9.4C5 10.2 2 10.3 0.8 8.8C-0.3 7.4 0.3 4.6 2.2 2.8C3.8 1.2 6.5 0.2 9.5 0.3C12 0.4 14 1.2 13.8 2.6C13.6 4 12 4.9 10.2 5.6C9.6 5.8 9.2 5.9 9 6M9 6C10.3 7.2 11.5 8.4 12.8 9.3M3.6 7.6C3.6 6.2 5.4 5.2 7 5.2C8 5.2 8.6 5.6 9 6" fill="none" stroke="#111" stroke-width="1.15" stroke-linecap="round"/><path d="M11.3 1.0C11.1 2.3 10.9 3.5 10.6 4.8" fill="none" stroke="#555" stroke-width="0.6"/><text x="16.2" y="3.2" font-family="Liberation Serif, serif" font-size="8.2">2</text><text x="14.0" y="12.4" font-family="Liberation Serif, serif" font-style="italic" font-size="9.6">d</text></g><text x="152.85" y="787.9" font-family="Liberation Serif, serif" font-size="20.6" fill="#111">N<tspan font-size="16.2" dy="3.2">c</tspan><tspan dy="-3.2" dx="0.6">=4M</tspan></text></g><g><path d="M386.50 589.5V799.5M351.5 764.50H561.5M421.50 589.5V799.5M351.5 729.50H561.5M456.50 589.5V799.5M351.5 694.50H561.5M491.50 589.5V799.5M351.5 659.50H561.5M526.50 589.5V799.5M351.5 624.50H561.5" stroke="#9a9a9a" stroke-width="0.7" stroke-dasharray="0.9 1.3" fill="none"/><g filter="url(#bl)"><g transform="translate(351.5,799.5) scale(1.4,-1.4)" stroke-width="1.2" fill="none"><path stroke="#584ca4" d="M0.9 6.5h1.2M3.9 6.5h2.2M2.9 7.5h2.2M5.9 7.5h1.2M3.9 5.5h1.2M5.9 14.5h1.2M12.9 14.5h1.2M6.9 9.5h3.2M8.9 10.5h1.2M10.9 11.5h1.2M11.9 40.5h1.2M39.9 40.5h1.2M13.9 16.5h1.2M15.9 16.5h1.2M13.9 18.5h1.2M16.9 18.5h1.2M15.9 17.5h2.2M18.9 19.5h1.2M18.9 20.5h1.2M21.9 22.5h1.2M22.9 23.5h1.2M22.9 24.5h1.2M23.9 44.5h1.2M42.9 44.5h1.2M24.9 39.5h1.2M25.9 28.5h1.2M26.9 27.5h1.2M27.9 29.5h1.2M28.9 32.5h1.2M29.9 31.5h1.2M30.9 41.5h1.2M39.9 41.5h2.2M30.9 84.5h1.2M81.9 84.5h1.2M83.9 84.5h1.2M32.9 33.5h1.2M37.9 42.5h2.2M41.9 42.5h1.2M37.9 49.5h1.2M38.9 89.5h1.2M88.9 89.5h1.2M41.9 46.5h2.2M44.9 52.5h1.2M45.9 53.5h1.2M52.9 53.5h1.2M47.9 61.5h1.2M49.9 57.5h1.2M56.9 57.5h1.2M50.9 58.5h1.2M56.9 58.5h1.2M51.9 64.5h1.2M52.9 54.5h2.2M52.9 103.5h1.2M71.9 103.5h1.2M95.9 103.5h1.2M53.9 56.5h1.2M55.9 56.5h1.2M53.9 63.5h1.2M62.9 63.5h1.2M55.9 60.5h1.2M55.9 69.5h1.2M65.9 69.5h1.2M56.9 67.5h1.2M64.9 67.5h1.2M66.9 67.5h1.2M57.9 123.5h1.2M62.9 65.5h1.2M64.9 65.5h1.2M62.9 83.5h1.2M82.9 83.5h1.2M63.9 71.5h1.2M64.9 70.5h1.2M67.9 68.5h1.2M67.9 88.5h1.2M75.9 88.5h1.2M84.9 88.5h1.2M69.9 85.5h1.2M69.9 108.5h1.2M83.9 108.5h1.2M71.9 77.5h1.2M71.9 82.5h1.2M72.9 73.5h1.2M73.9 105.5h1.2M100.9 105.5h3.2M74.9 75.5h1.2M75.9 76.5h1.2M75.9 90.5h1.2M89.9 90.5h1.2M78.9 79.5h1.2M79.9 91.5h1.2M89.9 91.5h1.2M80.9 86.5h1.2M86.9 93.5h1.2M90.9 93.5h1.2M87.9 99.5h1.2M87.9 101.5h1.2M95.9 101.5h1.2M98.9 101.5h1.2M88.9 98.5h1.2M91.9 120.5h1.2M109.9 120.5h1.2M92.9 96.5h1.2M94.9 96.5h1.2M92.9 110.5h1.2M93.9 138.5h1.2M118.9 138.5h1.2M127.9 138.5h1.2M129.9 138.5h1.2M94.9 95.5h1.2M95.9 100.5h1.2M97.9 100.5h2.2M96.9 106.5h1.2M105.9 106.5h1.2M97.9 111.5h1.2M104.9 111.5h1.2M101.9 122.5h1.2M103.9 128.5h1.2M106.9 107.5h1.2M106.9 112.5h1.2M109.9 135.5h1.2M126.9 135.5h1.2M110.9 113.5h2.2M111.9 129.5h1.2M117.9 129.5h1.2M126.9 129.5h1.2M114.9 115.5h1.2M114.9 141.5h1.2M138.9 141.5h1.2M114.9 143.5h1.2M117.9 143.5h1.2M130.9 143.5h1.2M116.9 117.5h1.2M116.9 119.5h1.2M119.9 133.5h1.2M120.9 121.5h1.2M120.9 125.5h1.2M121.9 124.5h1.2M121.9 136.5h1.2M122.9 144.5h1.2M122.9 147.5h1.2M131.9 147.5h1.2M140.9 147.5h1.2M123.9 126.5h1.2M123.9 131.5h1.2M124.9 137.5h1.2M133.9 137.5h1.2M136.9 137.5h1.2M126.9 127.5h1.2M128.9 130.5h1.2M129.9 140.5h1.2M136.9 140.5h1.2M138.9 140.5h1.2M130.9 132.5h1.2M136.9 139.5h1.2M137.9 142.5h1.2"/><path stroke="#4956a7" d="M2.9 6.5h1.2M4.9 5.5h1.2M6.9 7.5h1.2M12.9 13.5h1.2M17.9 19.5h1.2M23.9 24.5h1.2M28.9 29.5h1.2M37.9 38.5h1.2M67.9 76.5h1.2M73.9 74.5h1.2M92.9 93.5h1.2M97.9 98.5h1.2M99.9 102.5h1.2M119.9 120.5h1.2M137.9 139.5h1.2"/><path stroke="#3f5faa" d="M-0.1 5.5h1.2M1.9 4.5h3.2M5.9 6.5h1.2M7.9 8.5h1.2M13.9 14.5h1.2"/><path stroke="#3671b6" d="M-0.1 4.5h1.2"/><path stroke="#327bbc" d="M0.9 4.5h1.2"/><path stroke="#2e85c2" d="M2.9 3.5h1.2"/><path stroke="#2990c5" d="M1.9 3.5h1.2"/><path stroke="#249cc9" d="M0.9 3.5h1.2"/><path stroke="#5db5ae" d="M1.9 2.5h1.2"/><path stroke="#72bda5" d="M-0.1 3.5h1.2"/><path stroke="#80c4a1" d="M0.9 2.5h1.2"/><path stroke="#a4cf8e" d="M-0.1 2.5h1.2"/><path stroke="#afcd89" d="M0.9 1.5h1.2"/><path stroke="#e0ae74" d="M-0.1 1.5h1.2"/><path stroke="#e87356" d="M-0.1 0.5h1.2"/></g></g><path d="M351.5 799.5L561.5 589.5" stroke="#151515" stroke-width="1.0" fill="none"/><path d="M351.50 799.5v-2.6M351.50 589.5v2.6M351.5 799.50h2.6M561.5 799.50h-2.6M386.50 799.5v-2.6M386.50 589.5v2.6M351.5 764.50h2.6M561.5 764.50h-2.6M421.50 799.5v-2.6M421.50 589.5v2.6M351.5 729.50h2.6M561.5 729.50h-2.6M456.50 799.5v-2.6M456.50 589.5v2.6M351.5 694.50h2.6M561.5 694.50h-2.6M491.50 799.5v-2.6M491.50 589.5v2.6M351.5 659.50h2.6M561.5 659.50h-2.6M526.50 799.5v-2.6M526.50 589.5v2.6M351.5 624.50h2.6M561.5 624.50h-2.6M561.50 799.5v-2.6M561.50 589.5v2.6M351.5 589.50h2.6M561.5 589.50h-2.6" stroke="#444" stroke-width="0.7" fill="none"/><rect x="351.5" y="589.5" width="210.0" height="210.0" fill="none" stroke="#666" stroke-width="1.1"/><g font-family="Liberation Sans, sans-serif" font-size="7.3" fill="#1a1a1a"><text x="351.50" y="807.90" text-anchor="middle">0</text><text x="348.30" y="801.40" text-anchor="end">0</text><text x="386.50" y="807.90" text-anchor="middle">50</text><text x="348.30" y="766.40" text-anchor="end">50</text><text x="421.50" y="807.90" text-anchor="middle">100</text><text x="348.30" y="731.40" text-anchor="end">100</text><text x="456.50" y="807.90" text-anchor="middle">150</text><text x="348.30" y="696.40" text-anchor="end">150</text><text x="491.50" y="807.90" text-anchor="middle">200</text><text x="348.30" y="661.40" text-anchor="end">200</text><text x="526.50" y="807.90" text-anchor="middle">250</text><text x="348.30" y="626.40" text-anchor="end">250</text><text x="561.50" y="807.90" text-anchor="middle">300</text><text x="348.30" y="591.40" text-anchor="end">300</text></g><rect x="576.2" y="589.5" width="10.5" height="210.0" fill="url(#cb)" stroke="#333" stroke-width="0.8"/><path d="M584.20 799.5h2.5" stroke="#333" stroke-width="0.7"/><text x="589.30" y="801.90" font-family="Liberation Serif, serif" font-size="8.2" fill="#1a1a1a">10<tspan font-size="5.8" dy="-3.3" dx="0.7">0</tspan></text><path d="M584.20 748.1h2.5" stroke="#333" stroke-width="0.7"/><text x="589.30" y="750.50" font-family="Liberation Serif, serif" font-size="8.2" fill="#1a1a1a">10<tspan font-size="5.8" dy="-3.3" dx="0.7">1</tspan></text><path d="M584.20 697.3h2.5" stroke="#333" stroke-width="0.7"/><text x="589.30" y="699.70" font-family="Liberation Serif, serif" font-size="8.2" fill="#1a1a1a">10<tspan font-size="5.8" dy="-3.3" dx="0.7">2</tspan></text><path d="M584.20 646.1h2.5" stroke="#333" stroke-width="0.7"/><text x="589.30" y="648.50" font-family="Liberation Serif, serif" font-size="8.2" fill="#1a1a1a">10<tspan font-size="5.8" dy="-3.3" dx="0.7">3</tspan></text><path d="M584.20 595.2h2.5" stroke="#333" stroke-width="0.7"/><text x="589.30" y="597.60" font-family="Liberation Serif, serif" font-size="8.2" fill="#1a1a1a">10<tspan font-size="5.8" dy="-3.3" dx="0.7">4</tspan></text><g transform="translate(448,813.4) scale(1.0)"><path d="M6.5 9.4C5 10.2 2 10.3 0.8 8.8C-0.3 7.4 0.3 4.6 2.2 2.8C3.8 1.2 6.5 0.2 9.5 0.3C12 0.4 14 1.2 13.8 2.6C13.6 4 12 4.9 10.2 5.6C9.6 5.8 9.2 5.9 9 6M9 6C10.3 7.2 11.5 8.4 12.8 9.3M3.6 7.6C3.6 6.2 5.4 5.2 7 5.2C8 5.2 8.6 5.6 9 6" fill="none" stroke="#111" stroke-width="1.15" stroke-linecap="round"/><path d="M11.3 1.0C11.1 2.3 10.9 3.5 10.6 4.8" fill="none" stroke="#555" stroke-width="0.6"/><text x="16.2" y="3.2" font-family="Liberation Serif, serif" font-size="8.2">2</text><text x="14.0" y="12.4" font-family="Liberation Serif, serif" font-style="italic" font-size="9.6">b</text></g><g transform="translate(321.1,701.1) rotate(-90) scale(1.0)"><path d="M6.5 9.4C5 10.2 2 10.3 0.8 8.8C-0.3 7.4 0.3 4.6 2.2 2.8C3.8 1.2 6.5 0.2 9.5 0.3C12 0.4 14 1.2 13.8 2.6C13.6 4 12 4.9 10.2 5.6C9.6 5.8 9.2 5.9 9 6M9 6C10.3 7.2 11.5 8.4 12.8 9.3M3.6 7.6C3.6 6.2 5.4 5.2 7 5.2C8 5.2 8.6 5.6 9 6" fill="none" stroke="#111" stroke-width="1.15" stroke-linecap="round"/><path d="M11.3 1.0C11.1 2.3 10.9 3.5 10.6 4.8" fill="none" stroke="#555" stroke-width="0.6"/><text x="16.2" y="3.2" font-family="Liberation Serif, serif" font-size="8.2">2</text><text x="14.0" y="12.4" font-family="Liberation Serif, serif" font-style="italic" font-size="9.6">d</text></g><text x="481.7" y="787.4" font-family="Liberation Serif, serif" font-size="20.6" fill="#111">N<tspan font-size="16.2" dy="3.2">c</tspan><tspan dy="-3.2" dx="0.6">=5.5M</tspan></text></g></svg></body></html>
